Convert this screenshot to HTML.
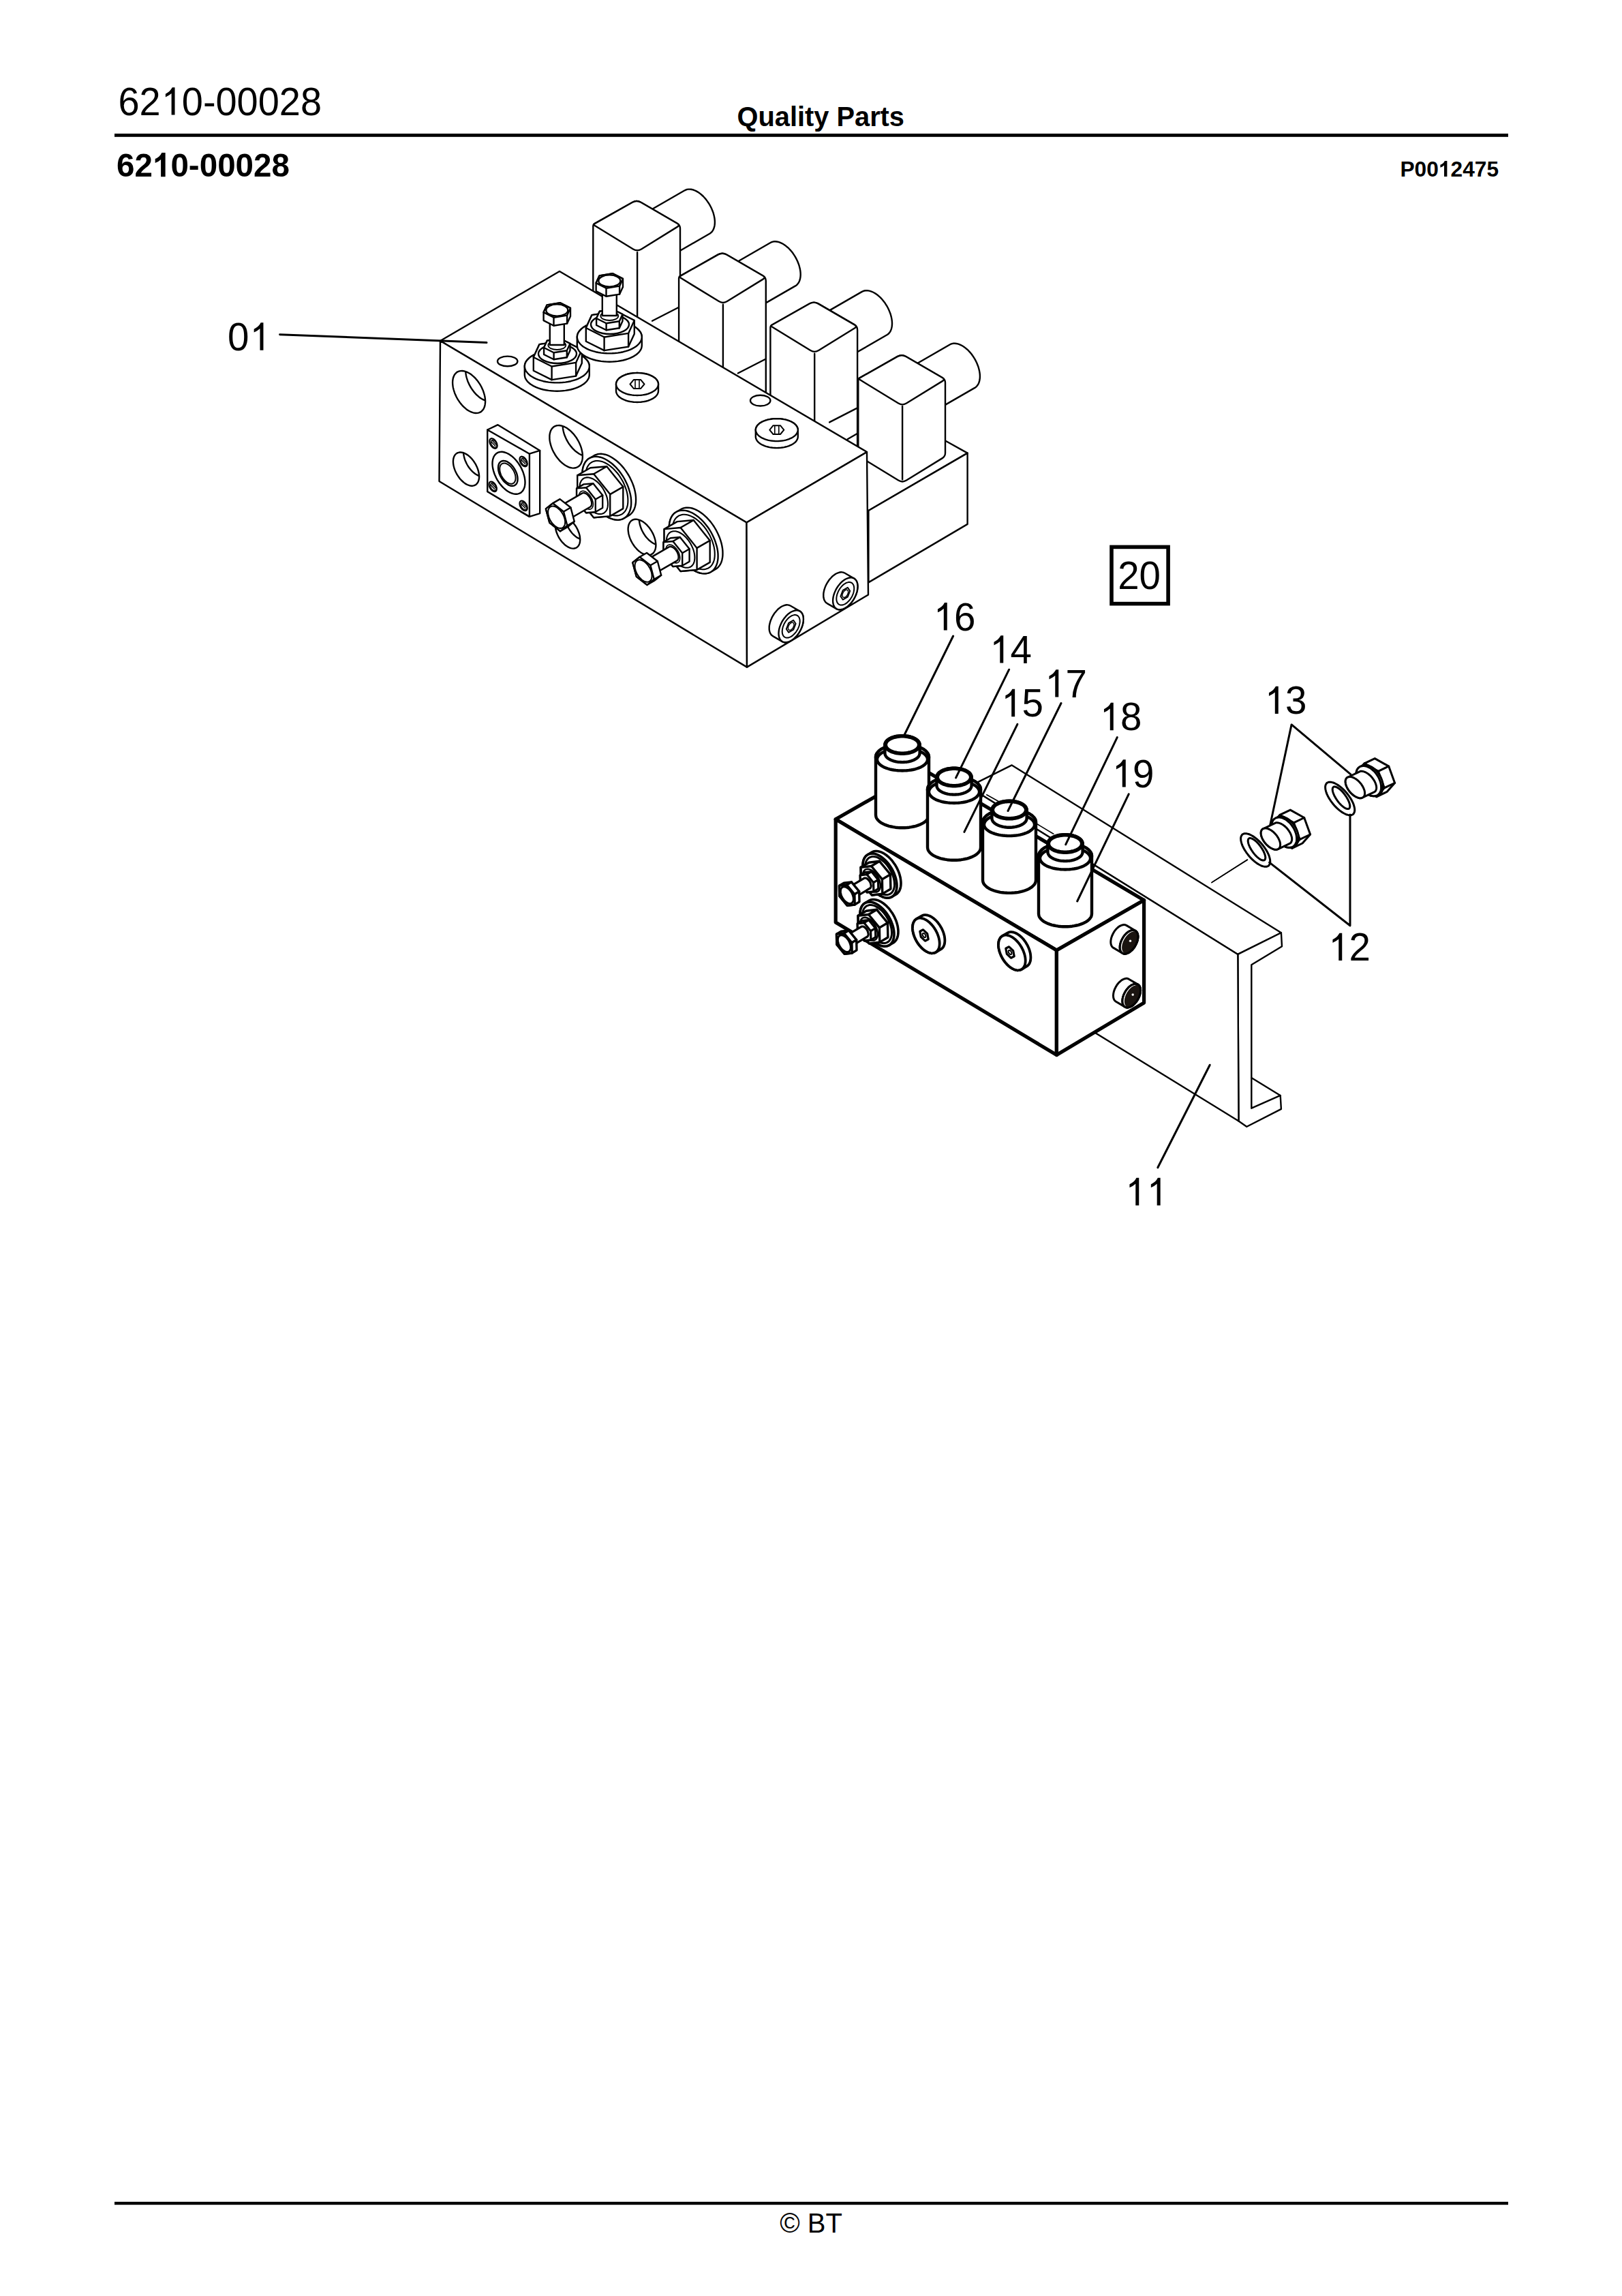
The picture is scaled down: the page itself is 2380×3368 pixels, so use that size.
<!DOCTYPE html>
<html><head><meta charset="utf-8">
<style>
html,body{margin:0;padding:0;background:#fff;}
body{width:2380px;height:3368px;position:relative;overflow:hidden;font-family:"Liberation Sans",sans-serif;color:#000;}
svg{position:absolute;left:0;top:0;}
</style></head>
<body>
<svg width="2380" height="3368" viewBox="0 0 2380 3368">
<g fill="none" stroke="#000" stroke-width="2.2" stroke-linejoin="round" stroke-linecap="round">
<rect x="168" y="196" width="2045" height="4.8" fill="#000" stroke="none"/>
<rect x="168" y="3229.8" width="2045" height="4.4" fill="#000" stroke="none"/>
<path d="M950.3 323.1 L950.4 320.5 L950.7 318.1 L951.2 315.8 L951.9 313.7 L952.7 311.8 L953.8 310.1 L955 308.6 L956.4 307.3 L957.9 306.3 L1004.7 279.3 L1006.4 278.5 L1008.1 277.9 L1010 277.6 L1012.1 277.6 L1014.1 277.8 L1016.3 278.2 L1018.5 279 L1020.7 279.9 L1023 281.1 L1025.3 282.5 L1027.5 284.1 L1029.7 286 L1031.9 288 L1033.9 290.2 L1036 292.6 L1037.8 295.1 L1039.6 297.7 L1041.3 300.4 L1042.8 303.2 L1044.2 306.1 L1045.4 309 L1046.5 311.9 L1047.3 314.8 L1048 317.7 L1048.5 320.5 L1048.8 323.3 L1048.9 325.9 L1048.8 328.5 L1048.5 330.9 L1048 333.2 L1047.3 335.3 L1046.5 337.2 L1045.4 338.9 L1044.2 340.4 L1042.8 341.7 L1041.3 342.7 L994.5 369.7 L992.8 370.5 L991 371.1 L989.1 371.4 L987.1 371.4 L985.1 371.2 L982.9 370.8 L980.7 370 L978.5 369.1 L976.2 367.9 L973.9 366.5 L971.7 364.9 L969.5 363 L967.3 361 L965.3 358.8 L963.2 356.4 L961.4 353.9 L959.6 351.3 L957.9 348.6 L956.4 345.8 L955 342.9 L953.8 340 L952.7 337.1 L951.9 334.2 L951.2 331.3 L950.7 328.5 L950.4 325.7Z" fill="#fff" stroke-width="2.4"/>
<path d="M870.3 331.4 Q870.3 329.4 872 328.4 L928.1 296.7 Q934.2 293.3 940.3 296.8 L993.7 327.8 Q998 330.3 998 335.3 L998 520.3 L935.1 559.1 L870.3 519.4Z" fill="#fff" stroke-width="2.4"/>
<path d="M872 330.4 Q870.3 329.4 872 328.4 L928.1 296.7 Q934.2 293.3 940.3 296.8 L993.7 327.8 Q998 330.3 993.7 332.9 L941.1 365.4 Q935.1 369.1 929.1 365.4Z" fill="#fff" stroke-width="2.4"/>
<path d="M935.1 370.1 L935.1 559.1" fill="none" stroke-width="2.4"/>
<path d="M957 470.8 L996.5 450.5" fill="none" stroke-width="2.4"/>
<path d="M1076.1 399.8 L1076.2 397.2 L1076.5 394.8 L1077 392.5 L1077.7 390.4 L1078.5 388.5 L1079.6 386.8 L1080.8 385.3 L1082.2 384 L1083.7 383 L1130.5 356 L1132.2 355.2 L1134 354.6 L1135.8 354.3 L1137.9 354.3 L1139.9 354.5 L1142.1 354.9 L1144.3 355.7 L1146.5 356.6 L1148.8 357.8 L1151.1 359.2 L1153.3 360.9 L1155.5 362.7 L1157.7 364.7 L1159.7 366.9 L1161.8 369.3 L1163.7 371.8 L1165.4 374.4 L1167.1 377.1 L1168.6 379.9 L1170 382.8 L1171.2 385.7 L1172.3 388.6 L1173.1 391.5 L1173.8 394.4 L1174.3 397.2 L1174.6 400 L1174.7 402.6 L1174.6 405.2 L1174.3 407.6 L1173.8 409.9 L1173.1 412 L1172.3 413.9 L1171.2 415.6 L1170 417.1 L1168.6 418.4 L1167.1 419.4 L1120.3 446.4 L1118.6 447.2 L1116.8 447.8 L1115 448.1 L1112.9 448.1 L1110.9 447.9 L1108.7 447.4 L1106.5 446.7 L1104.3 445.8 L1102 444.6 L1099.7 443.2 L1097.5 441.6 L1095.3 439.7 L1093.1 437.7 L1091.1 435.5 L1089 433.1 L1087.2 430.6 L1085.4 428 L1083.7 425.3 L1082.2 422.5 L1080.8 419.6 L1079.6 416.7 L1078.5 413.8 L1077.7 410.9 L1077 408 L1076.5 405.2 L1076.2 402.4Z" fill="#fff" stroke-width="2.4"/>
<path d="M996.1 408.1 Q996.1 406.1 997.8 405.1 L1053.9 373.4 Q1060 370 1066.1 373.5 L1119.5 404.5 Q1123.8 407 1123.8 412 L1123.8 597 L1060.9 635.8 L996.1 596.1Z" fill="#fff" stroke-width="2.4"/>
<path d="M997.8 407.1 Q996.1 406.1 997.8 405.1 L1053.9 373.4 Q1060 370 1066.1 373.5 L1119.5 404.5 Q1123.8 407 1119.5 409.6 L1066.9 442.1 Q1060.9 445.8 1054.9 442.1Z" fill="#fff" stroke-width="2.4"/>
<path d="M1060.9 446.8 L1060.9 635.8" fill="none" stroke-width="2.4"/>
<path d="M1082.8 547.5 L1122.3 527.2" fill="none" stroke-width="2.4"/>
<path d="M1210.4 471.6 L1210.5 469.1 L1210.8 466.7 L1211.3 464.4 L1212 462.3 L1212.8 460.4 L1213.9 458.7 L1215.1 457.2 L1216.5 455.9 L1218 454.9 L1264.8 427.9 L1266.5 427.1 L1268.2 426.5 L1270.2 426.2 L1272.2 426.2 L1274.2 426.4 L1276.4 426.9 L1278.6 427.6 L1280.8 428.5 L1283.1 429.7 L1285.4 431.1 L1287.6 432.8 L1289.8 434.6 L1292 436.6 L1294 438.8 L1296 441.2 L1298 443.7 L1299.7 446.3 L1301.4 449 L1302.9 451.8 L1304.3 454.7 L1305.5 457.6 L1306.6 460.5 L1307.4 463.4 L1308.1 466.3 L1308.6 469.1 L1308.9 471.9 L1309 474.6 L1308.9 477.1 L1308.6 479.5 L1308.1 481.8 L1307.4 483.9 L1306.6 485.8 L1305.5 487.5 L1304.3 489 L1302.9 490.3 L1301.4 491.3 L1254.6 518.3 L1252.9 519.1 L1251.2 519.7 L1249.2 520 L1247.2 520 L1245.2 519.8 L1243 519.4 L1240.8 518.6 L1238.6 517.7 L1236.3 516.5 L1234 515.1 L1231.8 513.5 L1229.6 511.6 L1227.4 509.6 L1225.4 507.4 L1223.3 505 L1221.5 502.5 L1219.7 499.9 L1218 497.2 L1216.5 494.4 L1215.1 491.5 L1213.9 488.6 L1212.8 485.7 L1212 482.8 L1211.3 479.9 L1210.8 477.1 L1210.5 474.3Z" fill="#fff" stroke-width="2.4"/>
<path d="M1130.4 480 Q1130.4 478 1132.1 477 L1188.2 445.3 Q1194.3 441.9 1200.4 445.4 L1253.8 476.4 Q1258.1 478.9 1258.1 483.9 L1258.1 668.9 L1195.2 707.7 L1130.4 668Z" fill="#fff" stroke-width="2.4"/>
<path d="M1132.1 479 Q1130.4 478 1132.1 477 L1188.2 445.3 Q1194.3 441.9 1200.4 445.4 L1253.8 476.4 Q1258.1 478.9 1253.8 481.5 L1201.2 514 Q1195.2 517.7 1189.2 514Z" fill="#fff" stroke-width="2.4"/>
<path d="M1195.2 518.7 L1195.2 707.7" fill="none" stroke-width="2.4"/>
<path d="M1217.1 619.4 L1256.6 599.1" fill="none" stroke-width="2.4"/>
<path d="M1243.6 644.2 L1258.3 635.8" fill="none" stroke-width="2.4"/>
<path d="M1242.8 731.4 L1388 647 L1419.6 664.6 L1274.4 749Z" fill="#fff" stroke-width="0"/>
<path d="M1388 647 L1419.6 664.6 L1274.4 749" fill="none" stroke-width="2.4"/>
<path d="M1274.4 749 L1419.6 664.6 L1419.6 768.9 L1274.4 854.4Z" fill="#fff" stroke-width="2.4"/>
<path d="M1339.3 549.2 L1339.4 546.7 L1339.7 544.3 L1340.2 542 L1340.9 539.9 L1341.7 538 L1342.8 536.3 L1344 534.8 L1345.4 533.5 L1346.9 532.5 L1393.7 505.5 L1395.4 504.7 L1397.2 504.1 L1399 503.8 L1401.1 503.8 L1403.1 504 L1405.3 504.4 L1407.5 505.2 L1409.7 506.1 L1412 507.3 L1414.3 508.7 L1416.5 510.4 L1418.7 512.2 L1420.9 514.2 L1422.9 516.4 L1425 518.8 L1426.8 521.3 L1428.6 523.9 L1430.3 526.6 L1431.8 529.4 L1433.2 532.3 L1434.4 535.2 L1435.5 538.1 L1436.3 541 L1437 543.9 L1437.5 546.7 L1437.8 549.5 L1437.9 552.1 L1437.8 554.7 L1437.5 557.1 L1437 559.4 L1436.3 561.5 L1435.5 563.4 L1434.4 565.1 L1433.2 566.6 L1431.8 567.9 L1430.3 568.9 L1383.5 595.9 L1381.8 596.7 L1380 597.3 L1378.2 597.6 L1376.1 597.6 L1374.1 597.4 L1371.9 597 L1369.7 596.2 L1367.5 595.3 L1365.2 594.1 L1362.9 592.7 L1360.7 591 L1358.5 589.2 L1356.3 587.2 L1354.3 585 L1352.2 582.6 L1350.3 580.1 L1348.6 577.5 L1346.9 574.8 L1345.4 572 L1344 569.1 L1342.8 566.2 L1341.7 563.3 L1340.9 560.4 L1340.2 557.5 L1339.7 554.7 L1339.4 551.9Z" fill="#fff" stroke-width="2.4"/>
<path d="M1259.3 557.6 Q1259.3 555.6 1261 554.6 L1317.1 522.9 Q1323.2 519.5 1329.3 523 L1382.7 554 Q1387 556.5 1387 561.5 L1387 664.5 Q1387 669.5 1382.7 672.1 L1330.1 704.6 Q1324.1 708.3 1318.1 704.6 L1261 669.6 Q1259.3 668.6 1259.3 666.6Z" fill="#fff" stroke-width="2.4"/>
<path d="M1261 556.6 Q1259.3 555.6 1261 554.6 L1317.1 522.9 Q1323.2 519.5 1329.3 523 L1382.7 554 Q1387 556.5 1382.7 559.1 L1330.1 591.6 Q1324.1 595.3 1318.1 591.6Z" fill="#fff" stroke-width="2.4"/>
<path d="M1324.1 596.3 L1324.1 703.3" fill="none" stroke-width="2.4"/>
<path d="M646 500 L821 398 L1272 663 L1095.5 766.5Z" fill="#fff" stroke-width="2.4"/>
<path d="M646 500 L1095.5 766.5 L1096 978.6 L644.5 706Z" fill="#fff" stroke-width="2.4"/>
<path d="M1095.5 766.5 L1272 663 L1274 872.5 L1096 978.6Z" fill="#fff" stroke-width="2.4"/>
<path d="M410.6 490.7 L714 502.6" fill="none" stroke-width="3"/>
<ellipse cx="744.7" cy="529.9" rx="14.7" ry="7.3" fill="#fff" stroke-width="2.4"/>
<ellipse cx="1115.7" cy="587.6" rx="14.7" ry="7.9" fill="#fff" stroke-width="2.4"/>
<path d="M904 563.5 L904.1 562.1 L904.5 560.6 L905.1 559.2 L905.9 557.9 L906.9 556.5 L908.1 555.2 L909.6 554 L911.2 552.9 L913.1 551.8 L915.1 550.9 L917.2 550 L919.5 549.2 L921.9 548.5 L924.4 548 L927 547.6 L929.6 547.2 L932.3 547.1 L935 547 L937.7 547.1 L940.4 547.2 L943 547.6 L945.6 548 L948.1 548.5 L950.5 549.2 L952.8 550 L954.9 550.9 L956.9 551.8 L958.8 552.9 L960.4 554 L961.9 555.2 L963.1 556.5 L964.1 557.9 L964.9 559.2 L965.5 560.6 L965.9 562.1 L966 563.5 L966 573.5 L965.9 574.9 L965.5 576.4 L964.9 577.8 L964.1 579.1 L963.1 580.5 L961.9 581.8 L960.4 583 L958.8 584.1 L956.9 585.2 L954.9 586.1 L952.8 587 L950.5 587.8 L948.1 588.5 L945.6 589 L943 589.4 L940.4 589.8 L937.7 589.9 L935 590 L932.3 589.9 L929.6 589.8 L927 589.4 L924.4 589 L921.9 588.5 L919.5 587.8 L917.2 587 L915.1 586.1 L913.1 585.2 L911.2 584.1 L909.6 583 L908.1 581.8 L906.9 580.5 L905.9 579.1 L905.1 577.8 L904.5 576.4 L904.1 574.9 L904 573.5Z" fill="#fff" stroke-width="2.4"/>
<path d="M966 563.5 L965.9 564.9 L965.5 566.4 L964.9 567.8 L964.1 569.1 L963.1 570.5 L961.8 571.8 L960.4 573 L958.7 574.1 L956.9 575.2 L954.9 576.1 L952.8 577 L950.5 577.8 L948.1 578.5 L945.6 579 L943 579.4 L940.4 579.7 L937.7 579.9 L935 580 L932.3 579.9 L929.6 579.7 L927 579.4 L924.4 579 L921.9 578.5 L919.5 577.8 L917.2 577 L915.1 576.1 L913.1 575.2 L911.3 574.1 L909.6 573 L908.2 571.8 L906.9 570.5 L905.9 569.1 L905.1 567.8 L904.5 566.4 L904.1 564.9 L904 563.5 L904.1 562.1 L904.5 560.6 L905.1 559.2 L905.9 557.9 L906.9 556.5 L908.2 555.2 L909.6 554 L911.3 552.9 L913.1 551.8 L915.1 550.9 L917.2 550 L919.5 549.2 L921.9 548.5 L924.4 548 L927 547.6 L929.6 547.3 L932.3 547.1 L935 547 L937.7 547.1 L940.4 547.3 L943 547.6 L945.6 548 L948.1 548.5 L950.5 549.2 L952.8 550 L954.9 550.9 L956.9 551.8 L958.7 552.9 L960.4 554 L961.8 555.2 L963.1 556.5 L964.1 557.9 L964.9 559.2 L965.5 560.6 L965.9 562.1Z" fill="#fff" stroke-width="2.4"/>
<path d="M945.5 563.5 L940.2 569.9 L929.8 569.9 L924.5 563.5 L929.8 557.1 L940.2 557.1Z" fill="#fff" stroke-width="2"/>
<path d="M932 557.5 L932 569.5" fill="none" stroke-width="1.6"/>
<path d="M938 557.5 L938 569.5" fill="none" stroke-width="1.6"/>
<path d="M1108.8 630.6 L1108.9 629.2 L1109.3 627.7 L1109.9 626.3 L1110.7 625 L1111.7 623.6 L1113 622.4 L1114.4 621.1 L1116 620 L1117.9 618.9 L1119.9 618 L1122 617.1 L1124.3 616.3 L1126.7 615.6 L1129.2 615.1 L1131.8 614.7 L1134.4 614.4 L1137.1 614.2 L1139.8 614.1 L1142.5 614.2 L1145.2 614.4 L1147.8 614.7 L1150.4 615.1 L1152.9 615.6 L1155.3 616.3 L1157.6 617.1 L1159.7 618 L1161.7 618.9 L1163.5 620 L1165.2 621.1 L1166.7 622.4 L1167.9 623.6 L1168.9 625 L1169.7 626.3 L1170.3 627.7 L1170.7 629.2 L1170.8 630.6 L1170.8 640.6 L1170.7 642 L1170.3 643.5 L1169.7 644.9 L1168.9 646.2 L1167.9 647.6 L1166.7 648.9 L1165.2 650.1 L1163.5 651.2 L1161.7 652.3 L1159.7 653.2 L1157.6 654.1 L1155.3 654.9 L1152.9 655.5 L1150.4 656.1 L1147.8 656.5 L1145.2 656.9 L1142.5 657 L1139.8 657.1 L1137.1 657 L1134.4 656.9 L1131.8 656.5 L1129.2 656.1 L1126.7 655.5 L1124.3 654.9 L1122 654.1 L1119.9 653.2 L1117.9 652.3 L1116 651.2 L1114.4 650.1 L1113 648.9 L1111.7 647.6 L1110.7 646.2 L1109.9 644.9 L1109.3 643.5 L1108.9 642 L1108.8 640.6Z" fill="#fff" stroke-width="2.4"/>
<path d="M1170.8 630.6 L1170.7 632 L1170.3 633.5 L1169.7 634.9 L1168.9 636.2 L1167.9 637.6 L1166.6 638.9 L1165.2 640.1 L1163.5 641.2 L1161.7 642.3 L1159.7 643.2 L1157.6 644.1 L1155.3 644.9 L1152.9 645.6 L1150.4 646.1 L1147.8 646.5 L1145.2 646.8 L1142.5 647 L1139.8 647.1 L1137.1 647 L1134.4 646.8 L1131.8 646.5 L1129.2 646.1 L1126.7 645.6 L1124.3 644.9 L1122 644.1 L1119.9 643.2 L1117.9 642.3 L1116.1 641.2 L1114.4 640.1 L1113 638.9 L1111.7 637.6 L1110.7 636.2 L1109.9 634.9 L1109.3 633.5 L1108.9 632 L1108.8 630.6 L1108.9 629.2 L1109.3 627.7 L1109.9 626.3 L1110.7 625 L1111.7 623.6 L1113 622.4 L1114.4 621.1 L1116.1 620 L1117.9 618.9 L1119.9 618 L1122 617.1 L1124.3 616.3 L1126.7 615.6 L1129.2 615.1 L1131.8 614.7 L1134.4 614.4 L1137.1 614.2 L1139.8 614.1 L1142.5 614.2 L1145.2 614.4 L1147.8 614.7 L1150.4 615.1 L1152.9 615.6 L1155.3 616.3 L1157.6 617.1 L1159.7 618 L1161.7 618.9 L1163.5 620 L1165.2 621.1 L1166.6 622.4 L1167.9 623.6 L1168.9 625 L1169.7 626.3 L1170.3 627.7 L1170.7 629.2Z" fill="#fff" stroke-width="2.4"/>
<path d="M1150.3 630.6 L1145 637 L1134.5 637 L1129.3 630.6 L1134.5 624.2 L1145 624.2Z" fill="#fff" stroke-width="2"/>
<path d="M1136.8 624.6 L1136.8 636.6" fill="none" stroke-width="1.6"/>
<path d="M1142.8 624.6 L1142.8 636.6" fill="none" stroke-width="1.6"/>
<path d="M769.8 537.4 L770 535.3 L770.5 533.2 L771.4 531.2 L772.7 529.2 L774.2 527.3 L776.2 525.4 L778.4 523.6 L780.9 522 L783.7 520.4 L786.8 519 L790.1 517.7 L793.5 516.6 L797.2 515.6 L801 514.9 L805 514.2 L809 513.8 L813.2 513.5 L817.3 513.4 L821.4 513.5 L825.5 513.8 L829.6 514.2 L833.5 514.9 L837.4 515.6 L841 516.6 L844.5 517.7 L847.8 519 L850.9 520.4 L853.7 522 L856.2 523.6 L858.4 525.4 L860.4 527.3 L861.9 529.2 L863.2 531.2 L864.1 533.2 L864.6 535.3 L864.8 537.4 L864.8 549.7 L864.6 551.8 L864.1 553.9 L863.2 555.9 L861.9 557.9 L860.4 559.8 L858.4 561.7 L856.2 563.5 L853.7 565.1 L850.9 566.7 L847.8 568.1 L844.5 569.4 L841 570.5 L837.4 571.5 L833.5 572.2 L829.6 572.9 L825.5 573.3 L821.4 573.6 L817.3 573.7 L813.2 573.6 L809 573.3 L805 572.9 L801 572.2 L797.2 571.5 L793.5 570.5 L790.1 569.4 L786.8 568.1 L783.7 566.7 L780.9 565.1 L778.4 563.5 L776.2 561.7 L774.2 559.8 L772.7 557.9 L771.4 555.9 L770.5 553.9 L770 551.8 L769.8 549.7Z" fill="#fff" stroke-width="2.4"/>
<path d="M864.8 537.4 L864.6 539.5 L864.1 541.6 L863.2 543.6 L861.9 545.6 L860.3 547.5 L858.4 549.4 L856.2 551.2 L853.7 552.8 L850.9 554.4 L847.8 555.8 L844.5 557.1 L841 558.2 L837.4 559.2 L833.5 560 L829.6 560.6 L825.5 561 L821.4 561.3 L817.3 561.4 L813.2 561.3 L809.1 561 L805 560.6 L801.1 560 L797.2 559.2 L793.5 558.2 L790.1 557.1 L786.8 555.8 L783.7 554.4 L780.9 552.8 L778.4 551.2 L776.2 549.4 L774.3 547.5 L772.7 545.6 L771.4 543.6 L770.5 541.6 L770 539.5 L769.8 537.4 L770 535.3 L770.5 533.2 L771.4 531.2 L772.7 529.2 L774.3 527.3 L776.2 525.4 L778.4 523.6 L780.9 522 L783.7 520.4 L786.8 519 L790.1 517.7 L793.5 516.6 L797.2 515.6 L801.1 514.8 L805 514.2 L809.1 513.8 L813.2 513.5 L817.3 513.4 L821.4 513.5 L825.5 513.8 L829.6 514.2 L833.5 514.8 L837.4 515.6 L841 516.6 L844.5 517.7 L847.8 519 L850.9 520.4 L853.7 522 L856.2 523.6 L858.4 525.4 L860.3 527.3 L861.9 529.2 L863.2 531.2 L864.1 533.2 L864.6 535.3Z" fill="#fff" stroke-width="2.4"/>
<path d="M782.8 524 L791.5 505.1 L827 499.6 L853.8 513 L853.8 532.7 L845.1 551.6 L809.6 557.1 L782.8 543.7Z" fill="#fff" stroke-width="2.4"/>
<path d="M782.8 524 L791.5 505.1 L827 499.5 L853.8 513 L845.1 531.9 L809.6 537.5Z" fill="#fff" stroke-width="2.4"/>
<path d="M845.1 531.9 L845.1 551.6" fill="none" stroke-width="2.4"/>
<path d="M809.6 537.5 L809.6 557.2" fill="none" stroke-width="2.4"/>
<ellipse cx="818" cy="519" rx="28" ry="14" fill="#fff" stroke-width="2.4"/>
<path d="M798.1 510 L802.8 499.8 L822 496.8 L836.5 504 L836.5 514 L831.8 524.2 L812.6 527.2 L798.1 520Z" fill="#fff" stroke-width="2.4"/>
<path d="M798.1 510 L802.8 499.8 L822 496.8 L836.5 504 L831.8 514.2 L812.6 517.2Z" fill="#fff" stroke-width="2.4"/>
<path d="M831.8 514.2 L831.8 524.2" fill="none" stroke-width="2.4"/>
<path d="M812.6 517.2 L812.6 527.2" fill="none" stroke-width="2.4"/>
<ellipse cx="817.3" cy="506.5" rx="13" ry="6.5" fill="#fff" stroke-width="1.8"/>
<path d="M806.8 506 L806.8 467 L827.8 467 L827.8 506Z" fill="#fff" stroke-width="2.4"/>
<path d="M797.6 458.1 L802.5 447.4 L822.1 444.3 L837 451.9 L837 463.9 L832.1 474.6 L812.5 477.7 L797.6 470.1Z" fill="#fff" stroke-width="2.4"/>
<path d="M797.6 458.1 L802.5 447.4 L822.1 444.3 L837 451.9 L832.1 462.6 L812.5 465.7Z" fill="#fff" stroke-width="2.4"/>
<path d="M832.1 462.6 L832.1 474.6" fill="none" stroke-width="2.4"/>
<path d="M812.5 465.7 L812.5 477.7" fill="none" stroke-width="2.4"/>
<ellipse cx="817.3" cy="455" rx="16" ry="8.6" fill="#fff" stroke-width="2.4"/>
<path d="M846.8 494.4 L847 492.3 L847.5 490.2 L848.4 488.2 L849.7 486.2 L851.2 484.3 L853.2 482.4 L855.4 480.6 L857.9 479 L860.7 477.4 L863.8 476 L867.1 474.7 L870.5 473.6 L874.2 472.6 L878 471.9 L882 471.2 L886 470.8 L890.2 470.5 L894.3 470.4 L898.4 470.5 L902.5 470.8 L906.6 471.2 L910.5 471.9 L914.4 472.6 L918 473.6 L921.5 474.7 L924.8 476 L927.9 477.4 L930.7 479 L933.2 480.6 L935.4 482.4 L937.4 484.3 L938.9 486.2 L940.2 488.2 L941.1 490.2 L941.6 492.3 L941.8 494.4 L941.8 506.7 L941.6 508.8 L941.1 510.9 L940.2 512.9 L938.9 514.9 L937.4 516.8 L935.4 518.7 L933.2 520.5 L930.7 522.1 L927.9 523.7 L924.8 525.1 L921.5 526.4 L918 527.5 L914.4 528.5 L910.5 529.2 L906.6 529.9 L902.5 530.3 L898.4 530.6 L894.3 530.7 L890.2 530.6 L886 530.3 L882 529.9 L878 529.2 L874.2 528.5 L870.5 527.5 L867.1 526.4 L863.8 525.1 L860.7 523.7 L857.9 522.1 L855.4 520.5 L853.2 518.7 L851.2 516.8 L849.7 514.9 L848.4 512.9 L847.5 510.9 L847 508.8 L846.8 506.7Z" fill="#fff" stroke-width="2.4"/>
<path d="M941.8 494.4 L941.6 496.5 L941.1 498.6 L940.2 500.6 L938.9 502.6 L937.3 504.5 L935.4 506.4 L933.2 508.2 L930.7 509.8 L927.9 511.4 L924.8 512.8 L921.5 514.1 L918 515.2 L914.4 516.2 L910.5 517 L906.6 517.6 L902.5 518 L898.4 518.3 L894.3 518.4 L890.2 518.3 L886.1 518 L882 517.6 L878.1 517 L874.2 516.2 L870.5 515.2 L867.1 514.1 L863.8 512.8 L860.7 511.4 L857.9 509.8 L855.4 508.2 L853.2 506.4 L851.3 504.5 L849.7 502.6 L848.4 500.6 L847.5 498.6 L847 496.5 L846.8 494.4 L847 492.3 L847.5 490.2 L848.4 488.2 L849.7 486.2 L851.3 484.3 L853.2 482.4 L855.4 480.6 L857.9 479 L860.7 477.4 L863.8 476 L867.1 474.7 L870.5 473.6 L874.2 472.6 L878.1 471.8 L882 471.2 L886.1 470.8 L890.2 470.5 L894.3 470.4 L898.4 470.5 L902.5 470.8 L906.6 471.2 L910.5 471.8 L914.4 472.6 L918 473.6 L921.5 474.7 L924.8 476 L927.9 477.4 L930.7 479 L933.2 480.6 L935.4 482.4 L937.3 484.3 L938.9 486.2 L940.2 488.2 L941.1 490.2 L941.6 492.3Z" fill="#fff" stroke-width="2.4"/>
<path d="M859.8 481 L868.5 462.1 L904 456.6 L930.8 470 L930.8 489.7 L922.1 508.6 L886.6 514.1 L859.8 500.7Z" fill="#fff" stroke-width="2.4"/>
<path d="M859.8 481 L868.5 462.1 L904 456.5 L930.8 470 L922.1 488.9 L886.6 494.5Z" fill="#fff" stroke-width="2.4"/>
<path d="M922.1 488.9 L922.1 508.6" fill="none" stroke-width="2.4"/>
<path d="M886.6 494.5 L886.6 514.2" fill="none" stroke-width="2.4"/>
<ellipse cx="895" cy="476" rx="28" ry="14" fill="#fff" stroke-width="2.4"/>
<path d="M875.1 467 L879.8 456.8 L899 453.8 L913.5 461 L913.5 471 L908.8 481.2 L889.6 484.2 L875.1 477Z" fill="#fff" stroke-width="2.4"/>
<path d="M875.1 467 L879.8 456.8 L899 453.8 L913.5 461 L908.8 471.2 L889.6 474.2Z" fill="#fff" stroke-width="2.4"/>
<path d="M908.8 471.2 L908.8 481.2" fill="none" stroke-width="2.4"/>
<path d="M889.6 474.2 L889.6 484.2" fill="none" stroke-width="2.4"/>
<ellipse cx="894.3" cy="463.5" rx="13" ry="6.5" fill="#fff" stroke-width="1.8"/>
<path d="M883.8 463 L883.8 424 L904.8 424 L904.8 463Z" fill="#fff" stroke-width="2.4"/>
<path d="M874.6 415.1 L879.5 404.4 L899.1 401.3 L914 408.9 L914 420.9 L909.1 431.6 L889.5 434.7 L874.6 427.1Z" fill="#fff" stroke-width="2.4"/>
<path d="M874.6 415.1 L879.5 404.4 L899.1 401.3 L914 408.9 L909.1 419.6 L889.5 422.7Z" fill="#fff" stroke-width="2.4"/>
<path d="M909.1 419.6 L909.1 431.6" fill="none" stroke-width="2.4"/>
<path d="M889.5 422.7 L889.5 434.7" fill="none" stroke-width="2.4"/>
<ellipse cx="894.3" cy="412" rx="16" ry="8.6" fill="#fff" stroke-width="2.4"/>
<clipPath id="h77"><path d="M712.1 588.9 L712 591.2 L711.7 593.4 L711.3 595.5 L710.6 597.5 L709.8 599.3 L708.9 600.8 L707.7 602.2 L706.5 603.4 L705.1 604.4 L703.5 605.1 L701.9 605.6 L700.1 605.9 L698.2 606 L696.3 605.8 L694.3 605.3 L692.3 604.7 L690.2 603.8 L688.1 602.7 L686 601.4 L683.9 599.9 L681.9 598.2 L679.9 596.3 L678 594.3 L676.1 592.1 L674.3 589.7 L672.7 587.3 L671.1 584.8 L669.7 582.2 L668.5 579.5 L667.3 576.9 L666.4 574.2 L665.6 571.5 L664.9 568.8 L664.5 566.2 L664.2 563.6 L664.1 561.1 L664.2 558.8 L664.5 556.6 L664.9 554.5 L665.6 552.5 L666.4 550.7 L667.3 549.2 L668.5 547.8 L669.7 546.6 L671.1 545.6 L672.7 544.9 L674.3 544.4 L676.1 544.1 L678 544 L679.9 544.2 L681.9 544.7 L683.9 545.3 L686 546.2 L688.1 547.3 L690.2 548.6 L692.3 550.1 L694.3 551.8 L696.3 553.7 L698.2 555.7 L700.1 557.9 L701.9 560.3 L703.5 562.7 L705.1 565.2 L706.5 567.8 L707.7 570.5 L708.9 573.1 L709.8 575.8 L710.6 578.5 L711.3 581.2 L711.7 583.8 L712 586.4Z"/></clipPath>
<path d="M712.1 588.9 L712 591.2 L711.7 593.4 L711.3 595.5 L710.6 597.5 L709.8 599.3 L708.9 600.8 L707.7 602.2 L706.5 603.4 L705.1 604.4 L703.5 605.1 L701.9 605.6 L700.1 605.9 L698.2 606 L696.3 605.8 L694.3 605.3 L692.3 604.7 L690.2 603.8 L688.1 602.7 L686 601.4 L683.9 599.9 L681.9 598.2 L679.9 596.3 L678 594.3 L676.1 592.1 L674.3 589.7 L672.7 587.3 L671.1 584.8 L669.7 582.2 L668.5 579.5 L667.3 576.9 L666.4 574.2 L665.6 571.5 L664.9 568.8 L664.5 566.2 L664.2 563.6 L664.1 561.1 L664.2 558.8 L664.5 556.6 L664.9 554.5 L665.6 552.5 L666.4 550.7 L667.3 549.2 L668.5 547.8 L669.7 546.6 L671.1 545.6 L672.7 544.9 L674.3 544.4 L676.1 544.1 L678 544 L679.9 544.2 L681.9 544.7 L683.9 545.3 L686 546.2 L688.1 547.3 L690.2 548.6 L692.3 550.1 L694.3 551.8 L696.3 553.7 L698.2 555.7 L700.1 557.9 L701.9 560.3 L703.5 562.7 L705.1 565.2 L706.5 567.8 L707.7 570.5 L708.9 573.1 L709.8 575.8 L710.6 578.5 L711.3 581.2 L711.7 583.8 L712 586.4Z" fill="#fff" stroke-width="2.4"/>
<path d="M731.2 571.4 L731.1 573.8 L730.8 576 L730.4 578.1 L729.8 580 L729 581.8 L728 583.4 L726.9 584.8 L725.6 586 L724.2 586.9 L722.6 587.7 L721 588.2 L719.2 588.5 L717.4 588.5 L715.4 588.3 L713.4 587.9 L711.4 587.2 L709.3 586.4 L707.2 585.2 L705.1 583.9 L703 582.4 L701 580.7 L699 578.8 L697.1 576.8 L695.2 574.6 L693.5 572.3 L691.8 569.9 L690.3 567.3 L688.8 564.7 L687.6 562.1 L686.4 559.4 L685.5 556.7 L684.7 554 L684 551.3 L683.6 548.7 L683.3 546.2 L683.2 543.7 L683.3 541.3 L683.6 539.1 L684 537 L684.7 535.1 L685.5 533.3 L686.4 531.7 L687.6 530.3 L688.8 529.1 L690.3 528.2 L691.8 527.4 L693.5 526.9 L695.2 526.6 L697.1 526.6 L699 526.8 L701 527.2 L703 527.9 L705.1 528.7 L707.2 529.8 L709.3 531.2 L711.4 532.7 L713.4 534.4 L715.4 536.3 L717.4 538.3 L719.2 540.5 L721 542.8 L722.6 545.2 L724.2 547.8 L725.6 550.4 L726.9 553 L728 555.7 L729 558.4 L729.8 561.1 L730.4 563.8 L730.8 566.4 L731.1 568.9Z" fill="none" stroke-width="2.4" clip-path="url(#h77)"/>
<clipPath id="h80"><path d="M703.1 699.1 L703 701 L702.8 702.8 L702.4 704.4 L701.9 706 L701.3 707.4 L700.5 708.6 L699.6 709.7 L698.6 710.7 L697.5 711.4 L696.2 712 L694.9 712.4 L693.5 712.7 L692.1 712.7 L690.5 712.5 L688.9 712.2 L687.3 711.7 L685.7 711 L684 710.1 L682.3 709.1 L680.7 707.9 L679.1 706.5 L677.5 705 L675.9 703.4 L674.5 701.7 L673.1 699.8 L671.8 697.9 L670.5 695.9 L669.4 693.8 L668.4 691.7 L667.5 689.6 L666.7 687.4 L666.1 685.3 L665.6 683.2 L665.2 681.1 L665 679.1 L664.9 677.1 L665 675.2 L665.2 673.4 L665.6 671.8 L666.1 670.2 L666.7 668.8 L667.5 667.6 L668.4 666.5 L669.4 665.5 L670.5 664.8 L671.8 664.2 L673.1 663.8 L674.5 663.5 L675.9 663.5 L677.5 663.7 L679.1 664 L680.7 664.5 L682.3 665.2 L684 666.1 L685.7 667.1 L687.3 668.3 L688.9 669.7 L690.5 671.2 L692.1 672.8 L693.5 674.5 L694.9 676.4 L696.2 678.3 L697.5 680.3 L698.6 682.4 L699.6 684.5 L700.5 686.6 L701.3 688.8 L701.9 690.9 L702.4 693 L702.8 695.1 L703 697.1Z"/></clipPath>
<path d="M703.1 699.1 L703 701 L702.8 702.8 L702.4 704.4 L701.9 706 L701.3 707.4 L700.5 708.6 L699.6 709.7 L698.6 710.7 L697.5 711.4 L696.2 712 L694.9 712.4 L693.5 712.7 L692.1 712.7 L690.5 712.5 L688.9 712.2 L687.3 711.7 L685.7 711 L684 710.1 L682.3 709.1 L680.7 707.9 L679.1 706.5 L677.5 705 L675.9 703.4 L674.5 701.7 L673.1 699.8 L671.8 697.9 L670.5 695.9 L669.4 693.8 L668.4 691.7 L667.5 689.6 L666.7 687.4 L666.1 685.3 L665.6 683.2 L665.2 681.1 L665 679.1 L664.9 677.1 L665 675.2 L665.2 673.4 L665.6 671.8 L666.1 670.2 L666.7 668.8 L667.5 667.6 L668.4 666.5 L669.4 665.5 L670.5 664.8 L671.8 664.2 L673.1 663.8 L674.5 663.5 L675.9 663.5 L677.5 663.7 L679.1 664 L680.7 664.5 L682.3 665.2 L684 666.1 L685.7 667.1 L687.3 668.3 L688.9 669.7 L690.5 671.2 L692.1 672.8 L693.5 674.5 L694.9 676.4 L696.2 678.3 L697.5 680.3 L698.6 682.4 L699.6 684.5 L700.5 686.6 L701.3 688.8 L701.9 690.9 L702.4 693 L702.8 695.1 L703 697.1Z" fill="#fff" stroke-width="2.4"/>
<path d="M718.2 685.2 L718.2 687.1 L717.9 688.9 L717.6 690.6 L717.1 692.1 L716.4 693.5 L715.7 694.8 L714.8 695.9 L713.8 696.8 L712.7 697.6 L711.4 698.2 L710.1 698.6 L708.7 698.8 L707.2 698.8 L705.7 698.7 L704.1 698.3 L702.5 697.8 L700.8 697.1 L699.2 696.2 L697.5 695.2 L695.9 694 L694.2 692.6 L692.7 691.2 L691.1 689.5 L689.7 687.8 L688.3 686 L686.9 684 L685.7 682 L684.6 680 L683.6 677.8 L682.7 675.7 L681.9 673.6 L681.3 671.4 L680.8 669.3 L680.4 667.2 L680.2 665.2 L680.1 663.2 L680.2 661.4 L680.4 659.6 L680.8 657.9 L681.3 656.4 L681.9 655 L682.7 653.7 L683.6 652.6 L684.6 651.7 L685.7 650.9 L686.9 650.3 L688.3 649.9 L689.7 649.7 L691.1 649.7 L692.7 649.8 L694.2 650.1 L695.9 650.7 L697.5 651.4 L699.2 652.2 L700.8 653.3 L702.5 654.5 L704.1 655.8 L705.7 657.3 L707.2 659 L708.7 660.7 L710.1 662.5 L711.4 664.5 L712.7 666.5 L713.8 668.5 L714.8 670.6 L715.7 672.8 L716.4 674.9 L717.1 677.1 L717.6 679.2 L717.9 681.3 L718.2 683.3Z" fill="none" stroke-width="2.4" clip-path="url(#h80)"/>
<clipPath id="h83"><path d="M854.8 669.3 L854.8 671.7 L854.5 673.9 L854 676.1 L853.4 678 L852.6 679.8 L851.6 681.4 L850.5 682.8 L849.2 684 L847.7 685 L846.2 685.7 L844.5 686.3 L842.7 686.5 L840.8 686.6 L838.9 686.4 L836.9 686 L834.8 685.3 L832.7 684.4 L830.6 683.3 L828.5 682 L826.4 680.4 L824.3 678.7 L822.3 676.8 L820.4 674.8 L818.5 672.5 L816.7 670.2 L815 667.8 L813.5 665.2 L812 662.6 L810.7 659.9 L809.6 657.2 L808.6 654.4 L807.8 651.7 L807.2 649 L806.7 646.4 L806.4 643.8 L806.4 641.3 L806.4 638.9 L806.7 636.7 L807.2 634.5 L807.8 632.6 L808.6 630.8 L809.6 629.2 L810.7 627.8 L812 626.6 L813.5 625.6 L815 624.9 L816.7 624.3 L818.5 624.1 L820.4 624 L822.3 624.2 L824.3 624.6 L826.4 625.3 L828.5 626.2 L830.6 627.3 L832.7 628.6 L834.8 630.2 L836.9 631.9 L838.9 633.8 L840.8 635.8 L842.7 638.1 L844.5 640.4 L846.2 642.8 L847.7 645.4 L849.2 648 L850.5 650.7 L851.6 653.4 L852.6 656.2 L853.4 658.9 L854 661.6 L854.5 664.2 L854.8 666.8Z"/></clipPath>
<path d="M854.8 669.3 L854.8 671.7 L854.5 673.9 L854 676.1 L853.4 678 L852.6 679.8 L851.6 681.4 L850.5 682.8 L849.2 684 L847.7 685 L846.2 685.7 L844.5 686.3 L842.7 686.5 L840.8 686.6 L838.9 686.4 L836.9 686 L834.8 685.3 L832.7 684.4 L830.6 683.3 L828.5 682 L826.4 680.4 L824.3 678.7 L822.3 676.8 L820.4 674.8 L818.5 672.5 L816.7 670.2 L815 667.8 L813.5 665.2 L812 662.6 L810.7 659.9 L809.6 657.2 L808.6 654.4 L807.8 651.7 L807.2 649 L806.7 646.4 L806.4 643.8 L806.4 641.3 L806.4 638.9 L806.7 636.7 L807.2 634.5 L807.8 632.6 L808.6 630.8 L809.6 629.2 L810.7 627.8 L812 626.6 L813.5 625.6 L815 624.9 L816.7 624.3 L818.5 624.1 L820.4 624 L822.3 624.2 L824.3 624.6 L826.4 625.3 L828.5 626.2 L830.6 627.3 L832.7 628.6 L834.8 630.2 L836.9 631.9 L838.9 633.8 L840.8 635.8 L842.7 638.1 L844.5 640.4 L846.2 642.8 L847.7 645.4 L849.2 648 L850.5 650.7 L851.6 653.4 L852.6 656.2 L853.4 658.9 L854 661.6 L854.5 664.2 L854.8 666.8Z" fill="#fff" stroke-width="2.4"/>
<path d="M874.2 651.7 L874.1 654 L873.8 656.3 L873.3 658.4 L872.7 660.4 L871.9 662.2 L870.9 663.8 L869.8 665.2 L868.5 666.4 L867.1 667.4 L865.5 668.1 L863.8 668.6 L862 668.9 L860.2 669 L858.2 668.8 L856.2 668.3 L854.1 667.7 L852 666.8 L849.9 665.7 L847.8 664.3 L845.7 662.8 L843.6 661.1 L841.6 659.2 L839.7 657.1 L837.8 654.9 L836 652.6 L834.3 650.1 L832.8 647.6 L831.3 644.9 L830.1 642.3 L828.9 639.5 L827.9 636.8 L827.1 634.1 L826.5 631.4 L826 628.7 L825.8 626.2 L825.7 623.7 L825.8 621.3 L826 619 L826.5 616.9 L827.1 614.9 L827.9 613.1 L828.9 611.5 L830.1 610.1 L831.3 608.9 L832.8 608 L834.3 607.2 L836 606.7 L837.8 606.4 L839.7 606.4 L841.6 606.6 L843.6 607 L845.7 607.7 L847.8 608.5 L849.9 609.7 L852 611 L854.1 612.5 L856.2 614.2 L858.2 616.1 L860.2 618.2 L862 620.4 L863.8 622.8 L865.5 625.2 L867.1 627.8 L868.5 630.4 L869.8 633.1 L870.9 635.8 L871.9 638.5 L872.7 641.2 L873.3 643.9 L873.8 646.6 L874.1 649.2Z" fill="none" stroke-width="2.4" clip-path="url(#h83)"/>
<clipPath id="h86"><path d="M851.2 791.6 L851.1 793.4 L850.9 795.1 L850.6 796.7 L850.1 798.1 L849.5 799.5 L848.7 800.7 L847.9 801.7 L846.9 802.6 L845.9 803.4 L844.7 803.9 L843.4 804.3 L842.1 804.5 L840.7 804.6 L839.2 804.4 L837.7 804.1 L836.2 803.6 L834.6 802.9 L833 802.1 L831.4 801.1 L829.8 800 L828.3 798.7 L826.8 797.2 L825.3 795.7 L823.9 794 L822.6 792.3 L821.3 790.4 L820.1 788.5 L819.1 786.6 L818.1 784.5 L817.3 782.5 L816.5 780.5 L815.9 778.4 L815.4 776.4 L815.1 774.4 L814.9 772.5 L814.8 770.6 L814.9 768.8 L815.1 767.1 L815.4 765.5 L815.9 764.1 L816.5 762.7 L817.3 761.5 L818.1 760.5 L819.1 759.6 L820.1 758.8 L821.3 758.3 L822.6 757.9 L823.9 757.7 L825.3 757.6 L826.8 757.8 L828.3 758.1 L829.8 758.6 L831.4 759.3 L833 760.1 L834.6 761.1 L836.2 762.2 L837.7 763.5 L839.2 765 L840.7 766.5 L842.1 768.2 L843.4 769.9 L844.7 771.8 L845.9 773.7 L846.9 775.6 L847.9 777.7 L848.7 779.7 L849.5 781.7 L850.1 783.8 L850.6 785.8 L850.9 787.8 L851.1 789.7Z"/></clipPath>
<path d="M851.2 791.6 L851.1 793.4 L850.9 795.1 L850.6 796.7 L850.1 798.1 L849.5 799.5 L848.7 800.7 L847.9 801.7 L846.9 802.6 L845.9 803.4 L844.7 803.9 L843.4 804.3 L842.1 804.5 L840.7 804.6 L839.2 804.4 L837.7 804.1 L836.2 803.6 L834.6 802.9 L833 802.1 L831.4 801.1 L829.8 800 L828.3 798.7 L826.8 797.2 L825.3 795.7 L823.9 794 L822.6 792.3 L821.3 790.4 L820.1 788.5 L819.1 786.6 L818.1 784.5 L817.3 782.5 L816.5 780.5 L815.9 778.4 L815.4 776.4 L815.1 774.4 L814.9 772.5 L814.8 770.6 L814.9 768.8 L815.1 767.1 L815.4 765.5 L815.9 764.1 L816.5 762.7 L817.3 761.5 L818.1 760.5 L819.1 759.6 L820.1 758.8 L821.3 758.3 L822.6 757.9 L823.9 757.7 L825.3 757.6 L826.8 757.8 L828.3 758.1 L829.8 758.6 L831.4 759.3 L833 760.1 L834.6 761.1 L836.2 762.2 L837.7 763.5 L839.2 765 L840.7 766.5 L842.1 768.2 L843.4 769.9 L844.7 771.8 L845.9 773.7 L846.9 775.6 L847.9 777.7 L848.7 779.7 L849.5 781.7 L850.1 783.8 L850.6 785.8 L850.9 787.8 L851.1 789.7Z" fill="#fff" stroke-width="2.4"/>
<path d="M865.7 778.4 L865.6 780.2 L865.4 781.9 L865.1 783.4 L864.6 784.9 L864 786.3 L863.2 787.5 L862.4 788.5 L861.4 789.4 L860.3 790.1 L859.2 790.7 L857.9 791.1 L856.6 791.3 L855.2 791.3 L853.7 791.2 L852.2 790.9 L850.6 790.4 L849.1 789.7 L847.5 788.9 L845.9 787.9 L844.3 786.7 L842.8 785.4 L841.3 784 L839.8 782.5 L838.4 780.8 L837.1 779 L835.8 777.2 L834.6 775.3 L833.6 773.3 L832.6 771.3 L831.7 769.3 L831 767.2 L830.4 765.2 L829.9 763.2 L829.6 761.2 L829.4 759.2 L829.3 757.4 L829.4 755.6 L829.6 753.9 L829.9 752.3 L830.4 750.8 L831 749.5 L831.7 748.3 L832.6 747.2 L833.6 746.3 L834.6 745.6 L835.8 745 L837.1 744.6 L838.4 744.4 L839.8 744.4 L841.3 744.5 L842.8 744.9 L844.3 745.4 L845.9 746 L847.5 746.9 L849.1 747.9 L850.6 749 L852.2 750.3 L853.7 751.7 L855.2 753.3 L856.6 754.9 L857.9 756.7 L859.2 758.5 L860.3 760.4 L861.4 762.4 L862.4 764.4 L863.2 766.5 L864 768.5 L864.6 770.6 L865.1 772.6 L865.4 774.6 L865.6 776.5Z" fill="none" stroke-width="2.4" clip-path="url(#h86)"/>
<clipPath id="h89"><path d="M962.4 799.8 L962.3 801.8 L962 803.7 L961.7 805.4 L961.1 807.1 L960.4 808.6 L959.6 809.9 L958.7 811.1 L957.6 812.1 L956.4 812.9 L955.1 813.6 L953.7 814 L952.2 814.2 L950.6 814.3 L949 814.1 L947.3 813.7 L945.5 813.2 L943.8 812.4 L942 811.5 L940.2 810.4 L938.5 809.1 L936.7 807.7 L935 806.1 L933.4 804.3 L931.8 802.5 L930.3 800.5 L928.9 798.4 L927.6 796.3 L926.4 794.1 L925.3 791.9 L924.4 789.6 L923.6 787.3 L922.9 785 L922.3 782.7 L922 780.5 L921.7 778.3 L921.6 776.2 L921.7 774.2 L922 772.3 L922.3 770.6 L922.9 768.9 L923.6 767.4 L924.4 766.1 L925.3 764.9 L926.4 763.9 L927.6 763.1 L928.9 762.4 L930.3 762 L931.8 761.8 L933.4 761.7 L935 761.9 L936.7 762.3 L938.5 762.8 L940.2 763.6 L942 764.5 L943.8 765.6 L945.5 766.9 L947.3 768.3 L949 769.9 L950.6 771.7 L952.2 773.5 L953.7 775.5 L955.1 777.6 L956.4 779.7 L957.6 781.9 L958.7 784.1 L959.6 786.4 L960.4 788.7 L961.1 791 L961.7 793.3 L962 795.5 L962.3 797.7Z"/></clipPath>
<path d="M962.4 799.8 L962.3 801.8 L962 803.7 L961.7 805.4 L961.1 807.1 L960.4 808.6 L959.6 809.9 L958.7 811.1 L957.6 812.1 L956.4 812.9 L955.1 813.6 L953.7 814 L952.2 814.2 L950.6 814.3 L949 814.1 L947.3 813.7 L945.5 813.2 L943.8 812.4 L942 811.5 L940.2 810.4 L938.5 809.1 L936.7 807.7 L935 806.1 L933.4 804.3 L931.8 802.5 L930.3 800.5 L928.9 798.4 L927.6 796.3 L926.4 794.1 L925.3 791.9 L924.4 789.6 L923.6 787.3 L922.9 785 L922.3 782.7 L922 780.5 L921.7 778.3 L921.6 776.2 L921.7 774.2 L922 772.3 L922.3 770.6 L922.9 768.9 L923.6 767.4 L924.4 766.1 L925.3 764.9 L926.4 763.9 L927.6 763.1 L928.9 762.4 L930.3 762 L931.8 761.8 L933.4 761.7 L935 761.9 L936.7 762.3 L938.5 762.8 L940.2 763.6 L942 764.5 L943.8 765.6 L945.5 766.9 L947.3 768.3 L949 769.9 L950.6 771.7 L952.2 773.5 L953.7 775.5 L955.1 777.6 L956.4 779.7 L957.6 781.9 L958.7 784.1 L959.6 786.4 L960.4 788.7 L961.1 791 L961.7 793.3 L962 795.5 L962.3 797.7Z" fill="#fff" stroke-width="2.4"/>
<path d="M978.6 784.9 L978.5 786.9 L978.3 788.8 L977.9 790.6 L977.3 792.3 L976.7 793.8 L975.8 795.1 L974.9 796.3 L973.8 797.3 L972.6 798.1 L971.3 798.7 L969.9 799.2 L968.4 799.4 L966.8 799.5 L965.2 799.3 L963.5 798.9 L961.7 798.4 L960 797.6 L958.2 796.7 L956.4 795.6 L954.7 794.3 L952.9 792.9 L951.3 791.3 L949.6 789.5 L948 787.7 L946.5 785.7 L945.1 783.6 L943.8 781.5 L942.6 779.3 L941.5 777 L940.6 774.8 L939.8 772.5 L939.1 770.2 L938.6 767.9 L938.2 765.7 L937.9 763.5 L937.9 761.4 L937.9 759.4 L938.2 757.5 L938.6 755.8 L939.1 754.1 L939.8 752.6 L940.6 751.3 L941.5 750.1 L942.6 749.1 L943.8 748.3 L945.1 747.6 L946.5 747.2 L948 747 L949.6 746.9 L951.3 747.1 L952.9 747.5 L954.7 748 L956.4 748.8 L958.2 749.7 L960 750.8 L961.7 752.1 L963.5 753.5 L965.2 755.1 L966.8 756.9 L968.4 758.7 L969.9 760.7 L971.3 762.7 L972.6 764.9 L973.8 767.1 L974.9 769.3 L975.8 771.6 L976.7 773.9 L977.3 776.2 L977.9 778.5 L978.3 780.7 L978.5 782.9Z" fill="none" stroke-width="2.4" clip-path="url(#h89)"/>
<path d="M730.5 623.2 L792.2 660.9 L792.2 753.1 L776.9 757.9 L715.2 721 L715.2 630.5Z" fill="#fff" stroke-width="2.4"/>
<path d="M715.2 630.5 L776.9 665.7 L776.9 757.9 L715.2 721Z" fill="#fff" stroke-width="2.4"/>
<path d="M776.9 665.7 L792.2 660.9" fill="none" stroke-width="2.4"/>
<path d="M770.5 707.6 L770.4 710 L770.1 712.2 L769.7 714.3 L769 716.3 L768.2 718.1 L767.3 719.6 L766.1 721 L764.9 722.2 L763.5 723.2 L761.9 723.9 L760.3 724.4 L758.5 724.7 L756.6 724.8 L754.7 724.6 L752.7 724.1 L750.7 723.5 L748.6 722.6 L746.5 721.5 L744.4 720.2 L742.3 718.7 L740.3 717 L738.3 715.1 L736.4 713.1 L734.5 710.9 L732.7 708.5 L731.1 706.1 L729.5 703.6 L728.1 701 L726.9 698.3 L725.7 695.7 L724.8 693 L724 690.3 L723.3 687.6 L722.9 685 L722.6 682.4 L722.5 679.9 L722.6 677.6 L722.9 675.4 L723.3 673.3 L724 671.3 L724.8 669.5 L725.7 668 L726.9 666.6 L728.1 665.4 L729.5 664.4 L731.1 663.7 L732.7 663.2 L734.5 662.9 L736.4 662.8 L738.3 663 L740.3 663.5 L742.3 664.1 L744.4 665 L746.5 666.1 L748.6 667.4 L750.7 668.9 L752.7 670.6 L754.7 672.5 L756.6 674.5 L758.5 676.7 L760.3 679.1 L761.9 681.5 L763.5 684 L764.9 686.6 L766.1 689.3 L767.3 691.9 L768.2 694.6 L769 697.3 L769.7 700 L770.1 702.6 L770.4 705.2Z" fill="#fff" stroke-width="2.4"/>
<path d="M759.6 702.6 L759.5 704.1 L759.4 705.4 L759.1 706.6 L758.7 707.8 L758.3 708.9 L757.7 709.8 L757 710.6 L756.2 711.3 L755.4 711.9 L754.5 712.3 L753.5 712.6 L752.4 712.8 L751.3 712.8 L750.2 712.7 L749 712.5 L747.8 712.1 L746.5 711.6 L745.3 710.9 L744.1 710.1 L742.8 709.2 L741.6 708.2 L740.4 707.1 L739.3 705.9 L738.2 704.6 L737.1 703.2 L736.1 701.7 L735.2 700.2 L734.4 698.7 L733.6 697.1 L732.9 695.5 L732.3 693.9 L731.9 692.3 L731.5 690.7 L731.2 689.1 L731.1 687.6 L731 686.1 L731.1 684.7 L731.2 683.4 L731.5 682.2 L731.9 681 L732.3 679.9 L732.9 679 L733.6 678.2 L734.4 677.5 L735.2 676.9 L736.1 676.5 L737.1 676.2 L738.2 676 L739.3 676 L740.4 676.1 L741.6 676.3 L742.8 676.7 L744.1 677.2 L745.3 677.9 L746.5 678.7 L747.8 679.6 L749 680.6 L750.2 681.7 L751.3 682.9 L752.4 684.2 L753.5 685.6 L754.5 687.1 L755.4 688.6 L756.2 690.1 L757 691.7 L757.7 693.3 L758.3 694.9 L758.7 696.5 L759.1 698.1 L759.4 699.7 L759.5 701.2Z" fill="#fff" stroke-width="2.4"/>
<path d="M756.6 701.4 L756.5 702.5 L756.4 703.6 L756.2 704.6 L755.9 705.6 L755.5 706.4 L755 707.2 L754.5 707.9 L753.9 708.4 L753.2 708.9 L752.4 709.3 L751.6 709.5 L750.7 709.7 L749.8 709.7 L748.9 709.6 L747.9 709.4 L746.9 709.1 L745.9 708.6 L744.9 708.1 L743.9 707.5 L742.9 706.7 L741.9 705.9 L740.9 705 L740 704 L739.1 702.9 L738.2 701.8 L737.4 700.6 L736.6 699.4 L735.9 698.1 L735.3 696.8 L734.8 695.5 L734.3 694.2 L733.9 692.9 L733.6 691.6 L733.4 690.3 L733.3 689.1 L733.2 687.9 L733.3 686.7 L733.4 685.6 L733.6 684.6 L733.9 683.6 L734.3 682.8 L734.8 682 L735.3 681.3 L735.9 680.8 L736.6 680.3 L737.4 679.9 L738.2 679.7 L739.1 679.5 L740 679.5 L740.9 679.6 L741.9 679.8 L742.9 680.1 L743.9 680.6 L744.9 681.1 L745.9 681.7 L746.9 682.5 L747.9 683.3 L748.9 684.2 L749.8 685.2 L750.7 686.3 L751.6 687.4 L752.4 688.6 L753.2 689.8 L753.9 691.1 L754.5 692.4 L755 693.7 L755.5 695 L755.9 696.3 L756.2 697.6 L756.4 698.9 L756.5 700.1Z" fill="#fff" stroke-width="2"/>
<path d="M729.6 653.8 L729.6 654.3 L729.5 654.8 L729.4 655.3 L729.3 655.8 L729.1 656.2 L728.9 656.6 L728.6 656.9 L728.3 657.2 L728 657.4 L727.6 657.6 L727.2 657.7 L726.8 657.8 L726.4 657.8 L725.9 657.7 L725.5 657.6 L725 657.5 L724.5 657.3 L724 657 L723.5 656.7 L723 656.3 L722.5 655.9 L722.1 655.5 L721.6 655 L721.2 654.5 L720.8 654 L720.4 653.4 L720 652.8 L719.7 652.2 L719.4 651.6 L719.1 650.9 L718.9 650.3 L718.7 649.7 L718.6 649 L718.5 648.4 L718.4 647.8 L718.4 647.2 L718.4 646.7 L718.5 646.2 L718.6 645.7 L718.7 645.2 L718.9 644.8 L719.1 644.4 L719.4 644.1 L719.7 643.8 L720 643.6 L720.4 643.4 L720.8 643.3 L721.2 643.2 L721.6 643.2 L722.1 643.3 L722.5 643.4 L723 643.5 L723.5 643.7 L724 644 L724.5 644.3 L725 644.7 L725.5 645.1 L725.9 645.5 L726.4 646 L726.8 646.5 L727.2 647 L727.6 647.6 L728 648.2 L728.3 648.8 L728.6 649.4 L728.9 650.1 L729.1 650.7 L729.3 651.3 L729.4 652 L729.5 652.6 L729.6 653.2Z" fill="#fff" stroke-width="2.2"/>
<path d="M728.8 653.3 L728.7 653.7 L728.7 654.1 L728.6 654.5 L728.5 654.8 L728.4 655.1 L728.2 655.4 L728 655.6 L727.8 655.8 L727.5 656 L727.3 656.1 L727 656.2 L726.7 656.3 L726.4 656.3 L726 656.2 L725.7 656.2 L725.3 656 L725 655.9 L724.6 655.7 L724.2 655.5 L723.9 655.2 L723.5 654.9 L723.2 654.6 L722.8 654.2 L722.5 653.9 L722.2 653.5 L721.9 653 L721.7 652.6 L721.4 652.1 L721.2 651.7 L721 651.2 L720.8 650.8 L720.7 650.3 L720.6 649.8 L720.5 649.4 L720.5 648.9 L720.4 648.5 L720.5 648.1 L720.5 647.7 L720.6 647.3 L720.7 647 L720.8 646.7 L721 646.4 L721.2 646.2 L721.4 646 L721.7 645.8 L721.9 645.7 L722.2 645.6 L722.5 645.5 L722.8 645.5 L723.2 645.6 L723.5 645.6 L723.9 645.8 L724.2 645.9 L724.6 646.1 L725 646.3 L725.3 646.6 L725.7 646.9 L726 647.2 L726.4 647.6 L726.7 647.9 L727 648.3 L727.3 648.8 L727.5 649.2 L727.8 649.7 L728 650.1 L728.2 650.6 L728.4 651 L728.5 651.5 L728.6 652 L728.7 652.4 L728.7 652.9Z" fill="#fff" stroke-width="1.3"/>
<path d="M720.8 647.9 L726.6 654.1" fill="none" stroke-width="1.5"/>
<path d="M722.4 646.3 L728 652.3" fill="none" stroke-width="1.5"/>
<path d="M773.7 680.2 L773.7 680.8 L773.6 681.3 L773.5 681.8 L773.4 682.3 L773.2 682.7 L773 683.1 L772.7 683.4 L772.4 683.7 L772.1 683.9 L771.7 684.1 L771.3 684.2 L770.9 684.3 L770.5 684.3 L770 684.2 L769.6 684.1 L769.1 684 L768.6 683.8 L768.1 683.5 L767.6 683.2 L767.1 682.8 L766.6 682.4 L766.2 682 L765.7 681.5 L765.3 681 L764.9 680.5 L764.5 679.9 L764.1 679.3 L763.8 678.7 L763.5 678.1 L763.2 677.4 L763 676.8 L762.8 676.2 L762.7 675.5 L762.6 674.9 L762.5 674.3 L762.5 673.8 L762.5 673.2 L762.6 672.7 L762.7 672.2 L762.8 671.7 L763 671.3 L763.2 670.9 L763.5 670.6 L763.8 670.3 L764.1 670.1 L764.5 669.9 L764.9 669.8 L765.3 669.7 L765.7 669.7 L766.2 669.8 L766.6 669.9 L767.1 670 L767.6 670.2 L768.1 670.5 L768.6 670.8 L769.1 671.2 L769.6 671.6 L770 672 L770.5 672.5 L770.9 673 L771.3 673.5 L771.7 674.1 L772.1 674.7 L772.4 675.3 L772.7 675.9 L773 676.6 L773.2 677.2 L773.4 677.8 L773.5 678.5 L773.6 679.1 L773.7 679.7Z" fill="#fff" stroke-width="2.2"/>
<path d="M772.9 679.8 L772.8 680.2 L772.8 680.6 L772.7 681 L772.6 681.3 L772.5 681.6 L772.3 681.9 L772.1 682.1 L771.9 682.3 L771.6 682.5 L771.4 682.6 L771.1 682.7 L770.8 682.8 L770.5 682.8 L770.1 682.7 L769.8 682.7 L769.4 682.5 L769.1 682.4 L768.7 682.2 L768.3 682 L768 681.7 L767.6 681.4 L767.3 681.1 L766.9 680.7 L766.6 680.4 L766.3 680 L766 679.5 L765.8 679.1 L765.5 678.6 L765.3 678.2 L765.1 677.7 L764.9 677.3 L764.8 676.8 L764.7 676.3 L764.6 675.9 L764.6 675.4 L764.5 675 L764.6 674.6 L764.6 674.2 L764.7 673.8 L764.8 673.5 L764.9 673.2 L765.1 672.9 L765.3 672.7 L765.5 672.5 L765.8 672.3 L766 672.2 L766.3 672.1 L766.6 672 L766.9 672 L767.3 672.1 L767.6 672.1 L768 672.3 L768.3 672.4 L768.7 672.6 L769.1 672.8 L769.4 673.1 L769.8 673.4 L770.1 673.7 L770.5 674.1 L770.8 674.4 L771.1 674.8 L771.4 675.3 L771.6 675.7 L771.9 676.2 L772.1 676.6 L772.3 677.1 L772.5 677.5 L772.6 678 L772.7 678.5 L772.8 678.9 L772.8 679.4Z" fill="#fff" stroke-width="1.3"/>
<path d="M764.9 674.4 L770.7 680.6" fill="none" stroke-width="1.5"/>
<path d="M766.5 672.8 L772.1 678.8" fill="none" stroke-width="1.5"/>
<path d="M728.8 717 L728.8 717.6 L728.7 718.1 L728.6 718.6 L728.5 719.1 L728.3 719.5 L728.1 719.9 L727.8 720.2 L727.5 720.5 L727.2 720.7 L726.8 720.9 L726.4 721 L726 721.1 L725.6 721.1 L725.1 721 L724.7 720.9 L724.2 720.8 L723.7 720.6 L723.2 720.3 L722.7 720 L722.2 719.6 L721.7 719.2 L721.3 718.8 L720.8 718.3 L720.4 717.8 L720 717.3 L719.6 716.7 L719.2 716.1 L718.9 715.5 L718.6 714.9 L718.3 714.2 L718.1 713.6 L717.9 713 L717.8 712.3 L717.7 711.7 L717.6 711.1 L717.6 710.5 L717.6 710 L717.7 709.5 L717.8 709 L717.9 708.5 L718.1 708.1 L718.3 707.7 L718.6 707.4 L718.9 707.1 L719.2 706.9 L719.6 706.7 L720 706.6 L720.4 706.5 L720.8 706.5 L721.3 706.6 L721.7 706.7 L722.2 706.8 L722.7 707 L723.2 707.3 L723.7 707.6 L724.2 708 L724.7 708.4 L725.1 708.8 L725.6 709.3 L726 709.8 L726.4 710.3 L726.8 710.9 L727.2 711.5 L727.5 712.1 L727.8 712.7 L728.1 713.4 L728.3 714 L728.5 714.6 L728.6 715.3 L728.7 715.9 L728.8 716.5Z" fill="#fff" stroke-width="2.2"/>
<path d="M728 716.6 L727.9 717 L727.9 717.4 L727.8 717.8 L727.7 718.1 L727.6 718.4 L727.4 718.7 L727.2 718.9 L727 719.1 L726.7 719.3 L726.5 719.4 L726.2 719.5 L725.9 719.6 L725.6 719.6 L725.2 719.5 L724.9 719.5 L724.5 719.3 L724.2 719.2 L723.8 719 L723.4 718.8 L723.1 718.5 L722.7 718.2 L722.4 717.9 L722 717.5 L721.7 717.2 L721.4 716.8 L721.1 716.3 L720.9 715.9 L720.6 715.4 L720.4 715 L720.2 714.5 L720 714.1 L719.9 713.6 L719.8 713.1 L719.7 712.7 L719.7 712.2 L719.6 711.8 L719.7 711.4 L719.7 711 L719.8 710.6 L719.9 710.3 L720 710 L720.2 709.7 L720.4 709.5 L720.6 709.3 L720.9 709.1 L721.1 709 L721.4 708.9 L721.7 708.8 L722 708.8 L722.4 708.9 L722.7 708.9 L723.1 709.1 L723.4 709.2 L723.8 709.4 L724.2 709.6 L724.5 709.9 L724.9 710.2 L725.2 710.5 L725.6 710.9 L725.9 711.2 L726.2 711.6 L726.5 712.1 L726.7 712.5 L727 713 L727.2 713.4 L727.4 713.9 L727.6 714.3 L727.7 714.8 L727.8 715.3 L727.9 715.7 L727.9 716.2Z" fill="#fff" stroke-width="1.3"/>
<path d="M720 711.2 L725.8 717.4" fill="none" stroke-width="1.5"/>
<path d="M721.6 709.6 L727.2 715.6" fill="none" stroke-width="1.5"/>
<path d="M773.7 745.1 L773.7 745.7 L773.6 746.2 L773.5 746.7 L773.4 747.2 L773.2 747.6 L773 748 L772.7 748.3 L772.4 748.6 L772.1 748.8 L771.7 749 L771.3 749.1 L770.9 749.2 L770.5 749.2 L770 749.1 L769.6 749 L769.1 748.9 L768.6 748.7 L768.1 748.4 L767.6 748.1 L767.1 747.7 L766.6 747.3 L766.2 746.9 L765.7 746.4 L765.3 745.9 L764.9 745.4 L764.5 744.8 L764.1 744.2 L763.8 743.6 L763.5 743 L763.2 742.3 L763 741.7 L762.8 741.1 L762.7 740.4 L762.6 739.8 L762.5 739.2 L762.5 738.6 L762.5 738.1 L762.6 737.6 L762.7 737.1 L762.8 736.6 L763 736.2 L763.2 735.8 L763.5 735.5 L763.8 735.2 L764.1 735 L764.5 734.8 L764.9 734.7 L765.3 734.6 L765.7 734.6 L766.2 734.7 L766.6 734.8 L767.1 734.9 L767.6 735.1 L768.1 735.4 L768.6 735.7 L769.1 736.1 L769.6 736.5 L770 736.9 L770.5 737.4 L770.9 737.9 L771.3 738.4 L771.7 739 L772.1 739.6 L772.4 740.2 L772.7 740.8 L773 741.5 L773.2 742.1 L773.4 742.7 L773.5 743.4 L773.6 744 L773.7 744.6Z" fill="#fff" stroke-width="2.2"/>
<path d="M772.9 744.7 L772.8 745.1 L772.8 745.5 L772.7 745.9 L772.6 746.2 L772.5 746.5 L772.3 746.8 L772.1 747 L771.9 747.2 L771.6 747.4 L771.4 747.5 L771.1 747.6 L770.8 747.7 L770.5 747.7 L770.1 747.6 L769.8 747.6 L769.4 747.4 L769.1 747.3 L768.7 747.1 L768.3 746.9 L768 746.6 L767.6 746.3 L767.3 746 L766.9 745.6 L766.6 745.3 L766.3 744.9 L766 744.4 L765.8 744 L765.5 743.5 L765.3 743.1 L765.1 742.6 L764.9 742.2 L764.8 741.7 L764.7 741.2 L764.6 740.8 L764.6 740.3 L764.5 739.9 L764.6 739.5 L764.6 739.1 L764.7 738.7 L764.8 738.4 L764.9 738.1 L765.1 737.8 L765.3 737.6 L765.5 737.4 L765.8 737.2 L766 737.1 L766.3 737 L766.6 736.9 L766.9 736.9 L767.3 737 L767.6 737 L768 737.2 L768.3 737.3 L768.7 737.5 L769.1 737.7 L769.4 738 L769.8 738.3 L770.1 738.6 L770.5 739 L770.8 739.3 L771.1 739.7 L771.4 740.2 L771.6 740.6 L771.9 741.1 L772.1 741.5 L772.3 742 L772.5 742.4 L772.6 742.9 L772.7 743.4 L772.8 743.8 L772.8 744.3Z" fill="#fff" stroke-width="1.3"/>
<path d="M764.9 739.3 L770.7 745.5" fill="none" stroke-width="1.5"/>
<path d="M766.5 737.7 L772.1 743.7" fill="none" stroke-width="1.5"/>
<path d="M854.3 695.5 L854.5 691.9 L854.9 688.6 L855.6 685.4 L856.5 682.5 L857.7 679.9 L859.1 677.5 L860.8 675.4 L862.7 673.6 L864.9 672.2 L871.8 668.2 L874.1 667.1 L876.6 666.3 L879.2 665.9 L882 665.8 L884.9 666.1 L887.9 666.7 L891 667.7 L894.1 669 L897.2 670.7 L900.3 672.7 L903.4 674.9 L906.5 677.5 L909.5 680.3 L912.4 683.4 L915.2 686.6 L917.8 690.1 L920.3 693.8 L922.6 697.5 L924.7 701.4 L926.6 705.4 L928.3 709.4 L929.8 713.5 L931 717.5 L931.9 721.5 L932.6 725.4 L933 729.2 L933.1 733 L933 736.5 L932.6 739.8 L931.9 743 L931 745.9 L929.8 748.5 L928.3 750.9 L926.6 753 L924.7 754.8 L922.6 756.2 L915.7 760.2 L913.4 761.3 L910.9 762.1 L908.2 762.5 L905.5 762.6 L902.6 762.3 L899.6 761.7 L896.5 760.7 L893.4 759.4 L890.3 757.7 L887.1 755.7 L884 753.5 L881 750.9 L878 748.1 L875.1 745 L872.3 741.8 L869.7 738.3 L867.2 734.6 L864.9 730.9 L862.7 727 L860.8 723 L859.1 719 L857.7 714.9 L856.5 710.9 L855.6 706.9 L854.9 703 L854.5 699.1Z" fill="#fff" stroke-width="2.4"/>
<path d="M926.2 737 L926.1 740.5 L925.7 743.8 L925 747 L924 749.9 L922.8 752.5 L921.4 754.9 L919.7 757 L917.8 758.8 L915.7 760.2 L913.4 761.3 L910.9 762.1 L908.2 762.5 L905.5 762.6 L902.6 762.3 L899.6 761.7 L896.5 760.7 L893.4 759.4 L890.3 757.7 L887.1 755.7 L884 753.5 L881 750.9 L878 748.1 L875.1 745 L872.3 741.8 L869.7 738.3 L867.2 734.7 L864.9 730.9 L862.7 727 L860.8 723 L859.1 719 L857.7 714.9 L856.5 710.9 L855.6 706.9 L854.9 703 L854.5 699.1 L854.3 695.5 L854.5 691.9 L854.9 688.6 L855.6 685.4 L856.5 682.5 L857.7 679.9 L859.1 677.5 L860.8 675.4 L862.7 673.6 L864.9 672.2 L867.2 671.1 L869.7 670.3 L872.3 669.9 L875.1 669.8 L878 670.1 L881 670.7 L884 671.7 L887.1 673 L890.3 674.7 L893.4 676.7 L896.5 678.9 L899.6 681.5 L902.6 684.3 L905.5 687.4 L908.2 690.6 L910.9 694.1 L913.4 697.7 L915.7 701.5 L917.8 705.4 L919.7 709.4 L921.4 713.4 L922.8 717.5 L924 721.5 L925 725.5 L925.7 729.4 L926.1 733.3Z" fill="#fff" stroke-width="2.4"/>
<path d="M921.4 734.2 L921.3 737.3 L921 740.2 L920.4 742.9 L919.6 745.4 L918.5 747.7 L917.3 749.8 L915.8 751.6 L914.2 753.1 L912.3 754.4 L910.3 755.3 L908.2 756 L905.9 756.4 L903.4 756.4 L900.9 756.2 L898.3 755.6 L895.7 754.8 L893 753.6 L890.3 752.2 L887.6 750.5 L884.9 748.5 L882.2 746.3 L879.6 743.9 L877.1 741.2 L874.7 738.4 L872.4 735.4 L870.2 732.2 L868.2 728.9 L866.4 725.6 L864.7 722.1 L863.3 718.6 L862 715.1 L861 711.6 L860.2 708.1 L859.6 704.7 L859.2 701.4 L859.1 698.2 L859.2 695.1 L859.6 692.2 L860.2 689.5 L861 687 L862 684.7 L863.3 682.6 L864.7 680.8 L866.4 679.3 L868.2 678 L870.2 677.1 L872.4 676.4 L874.7 676 L877.1 676 L879.6 676.2 L882.2 676.8 L884.9 677.6 L887.6 678.8 L890.3 680.2 L893 681.9 L895.7 683.9 L898.3 686.1 L900.9 688.5 L903.4 691.2 L905.9 694 L908.2 697 L910.3 700.2 L912.3 703.5 L914.2 706.8 L915.8 710.3 L917.3 713.8 L918.5 717.3 L919.6 720.8 L920.4 724.3 L921 727.7 L921.3 731Z" fill="#fff" stroke-width="2.1"/>
<path d="M847.2 697.3 L866.3 686.3 L890.3 684.2 L914.3 714.1 L914.3 746.1 L895.2 757.1 L871.2 759.2 L847.2 729.3Z" fill="#fff" stroke-width="2.4"/>
<path d="M895.2 757.1 L871.2 759.2 L847.2 729.3 L847.2 697.3 L871.2 695.2 L895.2 725.1Z" fill="#fff" stroke-width="2.4"/>
<path d="M871.2 695.2 L890.3 684.2" fill="none" stroke-width="2.4"/>
<path d="M895.2 725.1 L914.3 714.1" fill="none" stroke-width="2.4"/>
<path d="M892 739.2 L891.9 741.2 L891.7 743.2 L891.3 745 L890.8 746.7 L890.1 748.2 L889.2 749.6 L888.2 750.8 L887.1 751.8 L885.9 752.7 L884.6 753.3 L883.1 753.7 L881.6 754 L880 754 L878.3 753.9 L876.6 753.5 L874.8 752.9 L873 752.2 L871.2 751.2 L869.4 750.1 L867.6 748.8 L865.8 747.3 L864.1 745.6 L862.4 743.9 L860.8 742 L859.3 740 L857.9 737.9 L856.5 735.7 L855.3 733.4 L854.2 731.1 L853.2 728.8 L852.4 726.5 L851.7 724.1 L851.1 721.8 L850.8 719.5 L850.5 717.3 L850.4 715.2 L850.5 713.2 L850.8 711.2 L851.1 709.4 L851.7 707.7 L852.4 706.2 L853.2 704.8 L854.2 703.6 L855.3 702.6 L856.5 701.7 L857.9 701.1 L859.3 700.7 L860.8 700.4 L862.4 700.4 L864.1 700.5 L865.8 700.9 L867.6 701.5 L869.4 702.2 L871.2 703.2 L873 704.3 L874.8 705.6 L876.6 707.1 L878.3 708.8 L880 710.5 L881.6 712.4 L883.1 714.4 L884.6 716.5 L885.9 718.7 L887.1 721 L888.2 723.3 L889.2 725.6 L890.1 727.9 L890.8 730.3 L891.3 732.6 L891.7 734.9 L891.9 737.1Z" fill="#fff" stroke-width="2.1"/>
<path d="M846.1 716.4 L856.5 710.4 L870.4 709.2 L884.2 726.5 L884.2 745 L873.8 751 L860 752.2 L846.1 734.9Z" fill="#fff" stroke-width="2.4"/>
<path d="M873.8 751 L860 752.2 L846.1 734.9 L846.1 716.4 L860 715.2 L873.8 732.5Z" fill="#fff" stroke-width="2.4"/>
<path d="M860 715.2 L870.4 709.2" fill="none" stroke-width="2.4"/>
<path d="M873.8 732.5 L884.2 726.5" fill="none" stroke-width="2.4"/>
<path d="M870.4 739.7 L870.3 740.7 L870.2 741.7 L870 742.6 L869.7 743.4 L869.4 744.2 L869 744.9 L868.5 745.5 L867.9 746 L867.3 746.4 L866.6 746.7 L865.9 747 L865.2 747.1 L864.4 747.1 L863.5 747 L862.7 746.8 L861.8 746.6 L860.9 746.2 L860 745.7 L859.1 745.1 L858.2 744.5 L857.3 743.7 L856.4 742.9 L855.6 742 L854.8 741.1 L854 740.1 L853.3 739 L852.6 737.9 L852 736.8 L851.4 735.7 L851 734.5 L850.5 733.3 L850.2 732.2 L849.9 731 L849.7 729.9 L849.6 728.8 L849.6 727.7 L849.6 726.7 L849.7 725.7 L849.9 724.8 L850.2 724 L850.5 723.2 L851 722.5 L851.4 721.9 L852 721.4 L852.6 721 L853.3 720.7 L854 720.4 L854.8 720.3 L855.6 720.3 L856.4 720.4 L857.3 720.6 L858.2 720.8 L859.1 721.2 L860 721.7 L860.9 722.3 L861.8 722.9 L862.7 723.7 L863.5 724.5 L864.4 725.4 L865.2 726.3 L865.9 727.3 L866.6 728.4 L867.3 729.5 L867.9 730.6 L868.5 731.7 L869 732.9 L869.4 734.1 L869.7 735.2 L870 736.4 L870.2 737.5 L870.3 738.6Z" fill="#fff" stroke-width="1.6"/>
<path d="M818 748.5 L818 747.6 L818.1 746.9 L818.2 746.1 L818.5 745.5 L818.7 744.9 L819.1 744.3 L819.5 743.9 L819.9 743.5 L820.4 743.1 L854.1 723.6 L854.7 723.4 L855.2 723.2 L855.9 723.1 L856.5 723.1 L857.1 723.1 L857.8 723.3 L858.5 723.5 L859.2 723.8 L860 724.2 L860.7 724.6 L861.4 725.2 L862.1 725.8 L862.8 726.4 L863.4 727.1 L864.1 727.9 L864.7 728.6 L865.2 729.5 L865.8 730.3 L866.3 731.2 L866.7 732.1 L867.1 733.1 L867.4 734 L867.7 734.9 L867.9 735.8 L868.1 736.7 L868.2 737.6 L868.2 738.5 L868.2 739.3 L868.1 740 L867.9 740.8 L867.7 741.4 L867.4 742 L867.1 742.6 L866.7 743 L866.3 743.5 L865.8 743.8 L832 763.3 L831.5 763.5 L830.9 763.7 L830.3 763.8 L829.7 763.8 L829 763.8 L828.3 763.6 L827.6 763.4 L826.9 763.1 L826.2 762.7 L825.5 762.2 L824.8 761.7 L824.1 761.1 L823.4 760.5 L822.7 759.8 L822.1 759 L821.5 758.3 L820.9 757.4 L820.4 756.6 L819.9 755.7 L819.5 754.8 L819.1 753.8 L818.7 752.9 L818.5 752 L818.2 751.1 L818.1 750.2 L818 749.3Z" fill="#fff" stroke-width="2.4"/>
<path d="M834.4 758 L834.4 758.8 L834.3 759.5 L834.1 760.2 L833.9 760.9 L833.6 761.5 L833.3 762.1 L832.9 762.5 L832.5 762.9 L832 763.3 L831.5 763.5 L830.9 763.7 L830.3 763.8 L829.7 763.8 L829 763.8 L828.3 763.6 L827.6 763.4 L826.9 763.1 L826.2 762.7 L825.5 762.2 L824.8 761.7 L824.1 761.1 L823.4 760.5 L822.7 759.8 L822.1 759.1 L821.5 758.3 L820.9 757.4 L820.4 756.6 L819.9 755.7 L819.4 754.8 L819.1 753.8 L818.7 752.9 L818.5 752 L818.2 751.1 L818.1 750.2 L818 749.3 L818 748.5 L818 747.6 L818.1 746.9 L818.2 746.2 L818.5 745.5 L818.7 744.9 L819.1 744.3 L819.4 743.9 L819.9 743.5 L820.4 743.1 L820.9 742.9 L821.5 742.7 L822.1 742.6 L822.7 742.6 L823.4 742.6 L824.1 742.8 L824.8 743 L825.5 743.3 L826.2 743.7 L826.9 744.2 L827.6 744.7 L828.3 745.3 L829 745.9 L829.7 746.6 L830.3 747.3 L830.9 748.1 L831.5 749 L832 749.8 L832.5 750.7 L832.9 751.6 L833.3 752.6 L833.6 753.5 L833.9 754.4 L834.1 755.3 L834.3 756.2 L834.4 757.1Z" fill="#fff" stroke-width="2.4"/>
<path d="M800.9 746.4 L811.2 738.1 L821.6 732.1 L837.4 744.5 L842.8 765 L832.5 773.2 L822.1 779.2 L806.4 766.9Z" fill="#fff" stroke-width="2.4"/>
<path d="M832.4 771 L822.1 779.2 L806.4 766.9 L800.9 746.4 L811.2 738.2 L827 750.5Z" fill="#fff" stroke-width="2.4"/>
<path d="M832.4 771 L842.8 765" fill="none" stroke-width="2.4"/>
<path d="M827 750.5 L837.4 744.5" fill="none" stroke-width="2.4"/>
<path d="M829.2 766 L829.2 767.2 L829 768.4 L828.8 769.5 L828.5 770.5 L828 771.4 L827.5 772.2 L826.9 773 L826.3 773.6 L825.5 774.1 L824.7 774.5 L823.9 774.7 L822.9 774.9 L822 774.9 L821 774.8 L819.9 774.6 L818.8 774.2 L817.8 773.8 L816.7 773.2 L815.6 772.5 L814.5 771.7 L813.4 770.8 L812.4 769.8 L811.4 768.8 L810.4 767.6 L809.5 766.4 L808.6 765.1 L807.8 763.8 L807 762.5 L806.4 761.1 L805.8 759.7 L805.3 758.3 L804.9 756.8 L804.5 755.4 L804.3 754.1 L804.2 752.7 L804.1 751.5 L804.2 750.2 L804.3 749 L804.5 747.9 L804.9 746.9 L805.3 746 L805.8 745.2 L806.4 744.4 L807 743.8 L807.8 743.3 L808.6 742.9 L809.5 742.7 L810.4 742.5 L811.4 742.5 L812.4 742.6 L813.4 742.8 L814.5 743.2 L815.6 743.6 L816.7 744.2 L817.8 744.9 L818.8 745.7 L819.9 746.6 L821 747.6 L822 748.6 L822.9 749.8 L823.9 751 L824.7 752.3 L825.5 753.6 L826.3 754.9 L826.9 756.3 L827.5 757.7 L828 759.1 L828.5 760.6 L828.8 762 L829 763.3 L829.2 764.7Z" fill="#fff" stroke-width="2.1"/>
<path d="M981.7 774.2 L981.9 770.7 L982.3 767.4 L983 764.2 L983.9 761.3 L985.1 758.7 L986.5 756.3 L988.2 754.2 L990.1 752.4 L992.3 751 L999.2 747 L1001.5 745.9 L1004 745.1 L1006.6 744.7 L1009.4 744.6 L1012.3 744.9 L1015.3 745.5 L1018.4 746.5 L1021.5 747.9 L1024.6 749.5 L1027.7 751.5 L1030.8 753.7 L1033.9 756.3 L1036.9 759.1 L1039.8 762.2 L1042.6 765.4 L1045.2 768.9 L1047.7 772.5 L1050 776.3 L1052.1 780.2 L1054 784.2 L1055.7 788.2 L1057.2 792.3 L1058.4 796.3 L1059.3 800.3 L1060 804.2 L1060.4 808 L1060.5 811.8 L1060.4 815.3 L1060 818.6 L1059.3 821.8 L1058.4 824.7 L1057.2 827.3 L1055.7 829.7 L1054 831.8 L1052.1 833.6 L1050 835 L1043.1 839 L1040.8 840.1 L1038.3 840.9 L1035.6 841.3 L1032.9 841.4 L1030 841.1 L1027 840.5 L1023.9 839.5 L1020.8 838.1 L1017.7 836.5 L1014.5 834.5 L1011.4 832.3 L1008.4 829.7 L1005.4 826.9 L1002.5 823.8 L999.7 820.6 L997.1 817.1 L994.6 813.5 L992.3 809.7 L990.1 805.8 L988.2 801.8 L986.5 797.8 L985.1 793.7 L983.9 789.7 L983 785.7 L982.3 781.8 L981.9 778Z" fill="#fff" stroke-width="2.4"/>
<path d="M1053.6 815.8 L1053.5 819.3 L1053.1 822.6 L1052.4 825.8 L1051.4 828.7 L1050.2 831.3 L1048.8 833.7 L1047.1 835.8 L1045.2 837.6 L1043.1 839 L1040.8 840.1 L1038.3 840.9 L1035.6 841.3 L1032.9 841.4 L1030 841.1 L1027 840.5 L1023.9 839.5 L1020.8 838.2 L1017.7 836.5 L1014.5 834.5 L1011.4 832.3 L1008.4 829.7 L1005.4 826.9 L1002.5 823.8 L999.7 820.6 L997.1 817.1 L994.6 813.5 L992.3 809.7 L990.1 805.8 L988.2 801.8 L986.5 797.8 L985.1 793.7 L983.9 789.7 L983 785.7 L982.3 781.8 L981.9 777.9 L981.7 774.2 L981.9 770.7 L982.3 767.4 L983 764.2 L983.9 761.3 L985.1 758.7 L986.5 756.3 L988.2 754.2 L990.1 752.4 L992.3 751 L994.6 749.9 L997.1 749.1 L999.7 748.7 L1002.5 748.6 L1005.4 748.9 L1008.4 749.5 L1011.4 750.5 L1014.5 751.8 L1017.7 753.5 L1020.8 755.5 L1023.9 757.7 L1027 760.3 L1030 763.1 L1032.9 766.2 L1035.6 769.4 L1038.3 772.9 L1040.8 776.5 L1043.1 780.3 L1045.2 784.2 L1047.1 788.2 L1048.8 792.2 L1050.2 796.3 L1051.4 800.3 L1052.4 804.3 L1053.1 808.2 L1053.5 812.1Z" fill="#fff" stroke-width="2.4"/>
<path d="M1048.8 813 L1048.7 816.1 L1048.4 819 L1047.8 821.7 L1047 824.2 L1045.9 826.5 L1044.7 828.6 L1043.2 830.4 L1041.6 831.9 L1039.7 833.2 L1037.7 834.1 L1035.6 834.8 L1033.3 835.2 L1030.8 835.2 L1028.3 835 L1025.7 834.4 L1023.1 833.6 L1020.4 832.4 L1017.7 831 L1015 829.3 L1012.3 827.3 L1009.6 825.1 L1007 822.7 L1004.5 820 L1002.1 817.2 L999.8 814.2 L997.6 811 L995.6 807.7 L993.8 804.4 L992.1 800.9 L990.7 797.4 L989.4 793.9 L988.4 790.4 L987.6 786.9 L987 783.5 L986.6 780.2 L986.5 777 L986.6 773.9 L987 771 L987.6 768.3 L988.4 765.8 L989.4 763.5 L990.7 761.4 L992.1 759.6 L993.8 758.1 L995.6 756.8 L997.6 755.9 L999.8 755.2 L1002.1 754.8 L1004.5 754.8 L1007 755 L1009.6 755.6 L1012.3 756.4 L1015 757.6 L1017.7 759 L1020.4 760.7 L1023.1 762.7 L1025.7 764.9 L1028.3 767.3 L1030.8 770 L1033.3 772.8 L1035.6 775.8 L1037.7 779 L1039.7 782.3 L1041.6 785.6 L1043.2 789.1 L1044.7 792.6 L1045.9 796.1 L1047 799.6 L1047.8 803.1 L1048.4 806.5 L1048.7 809.8Z" fill="#fff" stroke-width="2.1"/>
<path d="M974.6 776.1 L993.7 765.1 L1017.7 763 L1041.7 792.9 L1041.7 824.9 L1022.6 835.9 L998.6 838 L974.6 808.1Z" fill="#fff" stroke-width="2.4"/>
<path d="M1022.6 835.9 L998.6 838 L974.6 808.1 L974.6 776.1 L998.6 774 L1022.6 803.9Z" fill="#fff" stroke-width="2.4"/>
<path d="M998.6 774 L1017.7 763" fill="none" stroke-width="2.4"/>
<path d="M1022.6 803.9 L1041.7 792.9" fill="none" stroke-width="2.4"/>
<path d="M1019.4 818 L1019.3 820 L1019.1 822 L1018.7 823.8 L1018.2 825.5 L1017.5 827 L1016.6 828.4 L1015.6 829.6 L1014.5 830.6 L1013.3 831.5 L1012 832.1 L1010.5 832.5 L1009 832.8 L1007.4 832.8 L1005.7 832.7 L1004 832.3 L1002.2 831.7 L1000.4 831 L998.6 830 L996.8 828.9 L995 827.6 L993.2 826.1 L991.5 824.4 L989.8 822.7 L988.2 820.8 L986.7 818.8 L985.3 816.7 L983.9 814.5 L982.7 812.2 L981.6 809.9 L980.6 807.6 L979.8 805.3 L979.1 802.9 L978.5 800.6 L978.2 798.3 L977.9 796.1 L977.8 794 L977.9 792 L978.2 790 L978.5 788.2 L979.1 786.5 L979.8 785 L980.6 783.6 L981.6 782.4 L982.7 781.4 L983.9 780.5 L985.3 779.9 L986.7 779.5 L988.2 779.2 L989.8 779.2 L991.5 779.3 L993.2 779.7 L995 780.3 L996.8 781 L998.6 782 L1000.4 783.1 L1002.2 784.4 L1004 785.9 L1005.7 787.6 L1007.4 789.3 L1009 791.2 L1010.5 793.2 L1012 795.3 L1013.3 797.5 L1014.5 799.8 L1015.6 802.1 L1016.6 804.4 L1017.5 806.7 L1018.2 809.1 L1018.7 811.4 L1019.1 813.7 L1019.3 815.9Z" fill="#fff" stroke-width="2.1"/>
<path d="M973.5 795.2 L983.9 789.2 L997.8 788 L1011.6 805.3 L1011.6 823.8 L1001.2 829.8 L987.4 831 L973.5 813.7Z" fill="#fff" stroke-width="2.4"/>
<path d="M1001.2 829.8 L987.4 831 L973.5 813.7 L973.5 795.2 L987.4 794 L1001.2 811.3Z" fill="#fff" stroke-width="2.4"/>
<path d="M987.4 794 L997.8 788" fill="none" stroke-width="2.4"/>
<path d="M1001.2 811.3 L1011.6 805.3" fill="none" stroke-width="2.4"/>
<path d="M997.8 818.5 L997.7 819.5 L997.6 820.5 L997.4 821.4 L997.1 822.2 L996.8 823 L996.4 823.7 L995.9 824.3 L995.3 824.8 L994.7 825.2 L994 825.5 L993.3 825.8 L992.6 825.9 L991.8 825.9 L990.9 825.8 L990.1 825.6 L989.2 825.4 L988.3 825 L987.4 824.5 L986.5 823.9 L985.6 823.3 L984.7 822.5 L983.8 821.7 L983 820.8 L982.2 819.9 L981.4 818.9 L980.7 817.8 L980 816.7 L979.4 815.6 L978.8 814.5 L978.4 813.3 L977.9 812.1 L977.6 811 L977.3 809.8 L977.1 808.7 L977 807.6 L977 806.5 L977 805.5 L977.1 804.5 L977.3 803.6 L977.6 802.8 L977.9 802 L978.4 801.3 L978.8 800.7 L979.4 800.2 L980 799.8 L980.7 799.5 L981.4 799.2 L982.2 799.1 L983 799.1 L983.8 799.2 L984.7 799.4 L985.6 799.6 L986.5 800 L987.4 800.5 L988.3 801.1 L989.2 801.7 L990.1 802.5 L990.9 803.3 L991.8 804.2 L992.6 805.1 L993.3 806.1 L994 807.2 L994.7 808.3 L995.3 809.4 L995.9 810.5 L996.4 811.7 L996.8 812.9 L997.1 814 L997.4 815.2 L997.6 816.3 L997.7 817.4Z" fill="#fff" stroke-width="1.6"/>
<path d="M945.4 827.2 L945.4 826.4 L945.5 825.7 L945.6 825 L945.9 824.3 L946.1 823.7 L946.5 823.1 L946.9 822.7 L947.3 822.2 L947.8 821.9 L981.5 802.4 L982.1 802.2 L982.6 802 L983.2 801.9 L983.9 801.9 L984.5 802 L985.2 802.1 L985.9 802.3 L986.6 802.6 L987.4 803 L988.1 803.5 L988.8 804 L989.5 804.5 L990.2 805.2 L990.8 805.9 L991.5 806.6 L992.1 807.4 L992.6 808.3 L993.2 809.1 L993.7 810 L994.1 810.9 L994.5 811.9 L994.8 812.8 L995.1 813.7 L995.3 814.6 L995.5 815.5 L995.6 816.4 L995.6 817.2 L995.6 818.1 L995.5 818.8 L995.3 819.5 L995.1 820.2 L994.8 820.8 L994.5 821.4 L994.1 821.8 L993.7 822.2 L993.2 822.6 L959.4 842.1 L958.9 842.3 L958.3 842.5 L957.7 842.6 L957.1 842.6 L956.4 842.5 L955.7 842.4 L955 842.2 L954.3 841.9 L953.6 841.5 L952.9 841 L952.2 840.5 L951.5 840 L950.8 839.3 L950.1 838.6 L949.5 837.9 L948.9 837.1 L948.3 836.2 L947.8 835.4 L947.3 834.5 L946.9 833.6 L946.5 832.6 L946.1 831.7 L945.9 830.8 L945.6 829.9 L945.5 829 L945.4 828.1Z" fill="#fff" stroke-width="2.4"/>
<path d="M961.8 836.8 L961.8 837.6 L961.7 838.3 L961.5 839 L961.3 839.7 L961 840.3 L960.7 840.9 L960.3 841.3 L959.9 841.7 L959.4 842.1 L958.9 842.3 L958.3 842.5 L957.7 842.6 L957.1 842.6 L956.4 842.6 L955.7 842.4 L955 842.2 L954.3 841.9 L953.6 841.5 L952.9 841 L952.2 840.5 L951.5 839.9 L950.8 839.3 L950.1 838.6 L949.5 837.9 L948.9 837.1 L948.3 836.2 L947.8 835.4 L947.3 834.5 L946.8 833.6 L946.5 832.6 L946.1 831.7 L945.9 830.8 L945.6 829.9 L945.5 829 L945.4 828.1 L945.4 827.2 L945.4 826.4 L945.5 825.7 L945.6 825 L945.9 824.3 L946.1 823.7 L946.5 823.1 L946.8 822.7 L947.3 822.3 L947.8 821.9 L948.3 821.7 L948.9 821.5 L949.5 821.4 L950.1 821.4 L950.8 821.4 L951.5 821.6 L952.2 821.8 L952.9 822.1 L953.6 822.5 L954.3 823 L955 823.5 L955.7 824.1 L956.4 824.7 L957.1 825.4 L957.7 826.1 L958.3 826.9 L958.9 827.8 L959.4 828.6 L959.9 829.5 L960.3 830.4 L960.7 831.4 L961 832.3 L961.3 833.2 L961.5 834.1 L961.7 835 L961.8 835.9Z" fill="#fff" stroke-width="2.4"/>
<path d="M928.3 825.2 L938.6 817 L949 811 L964.8 823.3 L970.2 843.8 L959.9 852 L949.5 858 L933.8 845.7Z" fill="#fff" stroke-width="2.4"/>
<path d="M959.8 849.8 L949.5 858 L933.8 845.7 L928.3 825.2 L938.6 817 L954.4 829.3Z" fill="#fff" stroke-width="2.4"/>
<path d="M959.8 849.8 L970.2 843.8" fill="none" stroke-width="2.4"/>
<path d="M954.4 829.3 L964.8 823.3" fill="none" stroke-width="2.4"/>
<path d="M956.6 844.8 L956.6 846 L956.4 847.2 L956.2 848.3 L955.9 849.3 L955.4 850.2 L954.9 851 L954.3 851.8 L953.7 852.4 L952.9 852.9 L952.1 853.3 L951.3 853.5 L950.3 853.7 L949.4 853.7 L948.4 853.6 L947.3 853.4 L946.2 853 L945.2 852.6 L944.1 852 L943 851.3 L941.9 850.5 L940.8 849.6 L939.8 848.6 L938.8 847.6 L937.8 846.4 L936.9 845.2 L936 843.9 L935.2 842.6 L934.4 841.3 L933.8 839.9 L933.2 838.5 L932.7 837.1 L932.3 835.6 L931.9 834.2 L931.7 832.9 L931.6 831.5 L931.5 830.2 L931.6 829 L931.7 827.8 L931.9 826.7 L932.3 825.7 L932.7 824.8 L933.2 824 L933.8 823.2 L934.4 822.6 L935.2 822.1 L936 821.7 L936.9 821.5 L937.8 821.3 L938.8 821.3 L939.8 821.4 L940.8 821.6 L941.9 822 L943 822.4 L944.1 823 L945.2 823.7 L946.2 824.5 L947.3 825.4 L948.4 826.4 L949.4 827.4 L950.3 828.6 L951.3 829.8 L952.1 831.1 L952.9 832.4 L953.7 833.7 L954.3 835.1 L954.9 836.5 L955.4 837.9 L955.9 839.4 L956.2 840.8 L956.4 842.1 L956.6 843.5Z" fill="#fff" stroke-width="2.1"/>
<path d="M1128.7 921.3 L1128.7 919.4 L1128.9 917.5 L1129.3 915.5 L1129.8 913.5 L1130.4 911.4 L1131.1 909.4 L1132 907.4 L1132.9 905.3 L1134 903.4 L1135.2 901.5 L1136.4 899.6 L1137.8 897.9 L1139.2 896.2 L1140.6 894.7 L1142.1 893.2 L1143.7 891.9 L1145.3 890.8 L1146.8 889.8 L1148.4 889 L1150 888.3 L1151.5 887.8 L1153.1 887.5 L1154.5 887.3 L1155.9 887.4 L1157.3 887.6 L1158.5 888 L1159.7 888.5 L1173.6 896.5 L1174.6 897.3 L1175.6 898.1 L1176.5 899.2 L1177.2 900.4 L1177.8 901.8 L1178.3 903.2 L1178.6 904.8 L1178.8 906.5 L1178.9 908.3 L1178.8 910.2 L1178.6 912.1 L1178.3 914.1 L1177.8 916.1 L1177.2 918.2 L1176.5 920.2 L1175.6 922.2 L1174.6 924.3 L1173.6 926.2 L1172.4 928.1 L1171.1 930 L1169.8 931.7 L1168.4 933.4 L1166.9 934.9 L1165.4 936.4 L1163.9 937.7 L1162.3 938.8 L1160.7 939.8 L1159.1 940.6 L1157.5 941.3 L1156 941.8 L1154.5 942.1 L1153 942.3 L1151.6 942.2 L1150.3 942 L1149 941.6 L1147.8 941.1 L1134 933.1 L1132.9 932.3 L1132 931.5 L1131.1 930.4 L1130.4 929.2 L1129.8 927.9 L1129.3 926.4 L1128.9 924.8 L1128.7 923.1Z" fill="#fff" stroke-width="2.4"/>
<path d="M1178.9 908.3 L1178.8 910.2 L1178.6 912.1 L1178.3 914.1 L1177.8 916.1 L1177.2 918.2 L1176.4 920.2 L1175.6 922.2 L1174.6 924.3 L1173.6 926.2 L1172.4 928.1 L1171.1 930 L1169.8 931.7 L1168.4 933.4 L1166.9 934.9 L1165.4 936.4 L1163.9 937.7 L1162.3 938.8 L1160.7 939.8 L1159.1 940.6 L1157.5 941.3 L1156 941.8 L1154.5 942.1 L1153 942.3 L1151.6 942.2 L1150.3 942 L1149 941.6 L1147.8 941.1 L1146.8 940.3 L1145.8 939.4 L1145 938.4 L1144.2 937.2 L1143.6 935.8 L1143.1 934.4 L1142.8 932.8 L1142.6 931.1 L1142.5 929.3 L1142.6 927.4 L1142.8 925.5 L1143.1 923.5 L1143.6 921.5 L1144.2 919.4 L1145 917.4 L1145.8 915.4 L1146.8 913.3 L1147.8 911.4 L1149 909.5 L1150.3 907.6 L1151.6 905.9 L1153 904.2 L1154.5 902.7 L1156 901.2 L1157.5 899.9 L1159.1 898.8 L1160.7 897.8 L1162.3 897 L1163.9 896.3 L1165.4 895.8 L1166.9 895.5 L1168.4 895.3 L1169.8 895.4 L1171.1 895.6 L1172.4 896 L1173.6 896.5 L1174.6 897.3 L1175.6 898.2 L1176.4 899.2 L1177.2 900.4 L1177.8 901.8 L1178.3 903.2 L1178.6 904.8 L1178.8 906.5Z" fill="#fff" stroke-width="2.4"/>
<path d="M1173.7 911.3 L1173.6 912.6 L1173.5 914 L1173.2 915.4 L1172.9 916.9 L1172.5 918.3 L1171.9 919.8 L1171.3 921.3 L1170.7 922.7 L1169.9 924.1 L1169 925.5 L1168.2 926.8 L1167.2 928 L1166.2 929.2 L1165.1 930.3 L1164.1 931.3 L1163 932.3 L1161.8 933.1 L1160.7 933.8 L1159.6 934.4 L1158.4 934.9 L1157.3 935.2 L1156.3 935.5 L1155.2 935.6 L1154.2 935.5 L1153.2 935.4 L1152.4 935.1 L1151.5 934.7 L1150.7 934.2 L1150.1 933.5 L1149.5 932.8 L1148.9 931.9 L1148.5 931 L1148.2 929.9 L1147.9 928.8 L1147.8 927.6 L1147.7 926.3 L1147.8 925 L1147.9 923.6 L1148.2 922.2 L1148.5 920.7 L1148.9 919.3 L1149.5 917.8 L1150.1 916.3 L1150.7 914.9 L1151.5 913.5 L1152.4 912.1 L1153.2 910.8 L1154.2 909.6 L1155.2 908.4 L1156.3 907.3 L1157.3 906.3 L1158.4 905.3 L1159.6 904.5 L1160.7 903.8 L1161.8 903.2 L1163 902.7 L1164.1 902.4 L1165.1 902.1 L1166.2 902 L1167.2 902.1 L1168.2 902.2 L1169 902.5 L1169.9 902.9 L1170.7 903.4 L1171.3 904.1 L1171.9 904.8 L1172.5 905.7 L1172.9 906.6 L1173.2 907.7 L1173.5 908.8 L1173.6 910Z" fill="#fff" stroke-width="2"/>
<path d="M1167.6 914.8 L1164.2 923.7 L1157.2 927.7 L1153.8 922.8 L1157.2 913.9 L1164.2 909.9Z" fill="#fff" stroke-width="2"/>
<path d="M1165 916.3 L1165 916.7 L1165 917.2 L1164.9 917.7 L1164.8 918.2 L1164.6 918.6 L1164.4 919.1 L1164.2 919.6 L1164 920.1 L1163.8 920.6 L1163.5 921 L1163.2 921.5 L1162.9 921.9 L1162.5 922.3 L1162.2 922.6 L1161.8 923 L1161.5 923.3 L1161.1 923.6 L1160.7 923.8 L1160.3 924 L1159.9 924.2 L1159.6 924.3 L1159.2 924.4 L1158.9 924.4 L1158.5 924.4 L1158.2 924.3 L1157.9 924.2 L1157.6 924.1 L1157.4 923.9 L1157.2 923.7 L1157 923.5 L1156.8 923.2 L1156.6 922.9 L1156.5 922.5 L1156.4 922.1 L1156.4 921.7 L1156.4 921.3 L1156.4 920.9 L1156.4 920.4 L1156.5 919.9 L1156.6 919.4 L1156.8 919 L1157 918.5 L1157.2 918 L1157.4 917.5 L1157.6 917 L1157.9 916.6 L1158.2 916.1 L1158.5 915.7 L1158.9 915.3 L1159.2 915 L1159.6 914.6 L1159.9 914.3 L1160.3 914 L1160.7 913.8 L1161.1 913.6 L1161.5 913.4 L1161.8 913.3 L1162.2 913.2 L1162.5 913.2 L1162.9 913.2 L1163.2 913.3 L1163.5 913.4 L1163.8 913.5 L1164 913.7 L1164.2 913.9 L1164.4 914.1 L1164.6 914.4 L1164.8 914.7 L1164.9 915.1 L1165 915.5 L1165 915.9Z" fill="#fff" stroke-width="1.5"/>
<path d="M1208.3 873.3 L1208.3 871.4 L1208.5 869.5 L1208.9 867.5 L1209.3 865.5 L1210 863.4 L1210.7 861.4 L1211.5 859.4 L1212.5 857.3 L1213.6 855.4 L1214.8 853.5 L1216 851.6 L1217.3 849.9 L1218.8 848.2 L1220.2 846.7 L1221.7 845.2 L1223.3 843.9 L1224.9 842.8 L1226.4 841.8 L1228 841 L1229.6 840.3 L1231.2 839.8 L1232.7 839.5 L1234.1 839.3 L1235.5 839.4 L1236.9 839.6 L1238.1 840 L1239.3 840.5 L1253.2 848.5 L1254.2 849.3 L1255.2 850.1 L1256 851.2 L1256.8 852.4 L1257.4 853.8 L1257.9 855.2 L1258.2 856.8 L1258.4 858.5 L1258.5 860.3 L1258.4 862.2 L1258.2 864.1 L1257.9 866.1 L1257.4 868.1 L1256.8 870.2 L1256 872.2 L1255.2 874.2 L1254.2 876.3 L1253.2 878.2 L1252 880.1 L1250.7 882 L1249.4 883.7 L1248 885.4 L1246.5 886.9 L1245 888.4 L1243.5 889.7 L1241.9 890.8 L1240.3 891.8 L1238.7 892.6 L1237.1 893.3 L1235.6 893.8 L1234.1 894.1 L1232.6 894.3 L1231.2 894.2 L1229.9 894 L1228.6 893.6 L1227.4 893.1 L1213.6 885.1 L1212.5 884.3 L1211.5 883.5 L1210.7 882.4 L1210 881.2 L1209.3 879.9 L1208.9 878.4 L1208.5 876.8 L1208.3 875.1Z" fill="#fff" stroke-width="2.4"/>
<path d="M1258.5 860.3 L1258.4 862.2 L1258.2 864.1 L1257.9 866.1 L1257.4 868.1 L1256.8 870.2 L1256 872.2 L1255.2 874.2 L1254.2 876.3 L1253.2 878.2 L1252 880.1 L1250.7 882 L1249.4 883.7 L1248 885.4 L1246.5 886.9 L1245 888.4 L1243.5 889.7 L1241.9 890.8 L1240.3 891.8 L1238.7 892.6 L1237.1 893.3 L1235.6 893.8 L1234.1 894.1 L1232.6 894.3 L1231.2 894.2 L1229.9 894 L1228.6 893.6 L1227.4 893.1 L1226.4 892.3 L1225.4 891.4 L1224.6 890.4 L1223.8 889.2 L1223.2 887.8 L1222.7 886.4 L1222.4 884.8 L1222.2 883.1 L1222.1 881.3 L1222.2 879.4 L1222.4 877.5 L1222.7 875.5 L1223.2 873.5 L1223.8 871.4 L1224.6 869.4 L1225.4 867.4 L1226.4 865.3 L1227.4 863.4 L1228.6 861.5 L1229.9 859.6 L1231.2 857.9 L1232.6 856.2 L1234.1 854.7 L1235.6 853.2 L1237.1 851.9 L1238.7 850.8 L1240.3 849.8 L1241.9 849 L1243.5 848.3 L1245 847.8 L1246.5 847.5 L1248 847.3 L1249.4 847.4 L1250.7 847.6 L1252 848 L1253.2 848.5 L1254.2 849.3 L1255.2 850.2 L1256 851.2 L1256.8 852.4 L1257.4 853.8 L1257.9 855.2 L1258.2 856.8 L1258.4 858.5Z" fill="#fff" stroke-width="2.4"/>
<path d="M1253.3 863.3 L1253.2 864.6 L1253.1 866 L1252.8 867.4 L1252.5 868.9 L1252.1 870.3 L1251.5 871.8 L1250.9 873.3 L1250.3 874.7 L1249.5 876.1 L1248.6 877.5 L1247.8 878.8 L1246.8 880 L1245.8 881.2 L1244.7 882.3 L1243.7 883.3 L1242.6 884.3 L1241.4 885.1 L1240.3 885.8 L1239.2 886.4 L1238 886.9 L1236.9 887.2 L1235.9 887.5 L1234.8 887.6 L1233.8 887.5 L1232.8 887.4 L1232 887.1 L1231.1 886.7 L1230.3 886.2 L1229.7 885.5 L1229.1 884.8 L1228.5 883.9 L1228.1 883 L1227.8 881.9 L1227.5 880.8 L1227.4 879.6 L1227.3 878.3 L1227.4 877 L1227.5 875.6 L1227.8 874.2 L1228.1 872.7 L1228.5 871.3 L1229.1 869.8 L1229.7 868.3 L1230.3 866.9 L1231.1 865.5 L1232 864.1 L1232.8 862.8 L1233.8 861.6 L1234.8 860.4 L1235.9 859.3 L1236.9 858.3 L1238 857.3 L1239.2 856.5 L1240.3 855.8 L1241.4 855.2 L1242.6 854.7 L1243.7 854.4 L1244.7 854.1 L1245.8 854 L1246.8 854.1 L1247.8 854.2 L1248.6 854.5 L1249.5 854.9 L1250.3 855.4 L1250.9 856.1 L1251.5 856.8 L1252.1 857.7 L1252.5 858.6 L1252.8 859.7 L1253.1 860.8 L1253.2 862Z" fill="#fff" stroke-width="2"/>
<path d="M1247.2 866.8 L1243.8 875.7 L1236.8 879.7 L1233.4 874.8 L1236.8 865.9 L1243.8 861.9Z" fill="#fff" stroke-width="2"/>
<path d="M1244.6 868.3 L1244.6 868.7 L1244.6 869.2 L1244.5 869.7 L1244.4 870.2 L1244.2 870.6 L1244 871.1 L1243.8 871.6 L1243.6 872.1 L1243.4 872.6 L1243.1 873 L1242.8 873.5 L1242.5 873.9 L1242.1 874.3 L1241.8 874.6 L1241.4 875 L1241.1 875.3 L1240.7 875.6 L1240.3 875.8 L1239.9 876 L1239.5 876.2 L1239.2 876.3 L1238.8 876.4 L1238.5 876.4 L1238.1 876.4 L1237.8 876.3 L1237.5 876.2 L1237.2 876.1 L1237 875.9 L1236.8 875.7 L1236.6 875.5 L1236.4 875.2 L1236.2 874.9 L1236.1 874.5 L1236 874.1 L1236 873.7 L1236 873.3 L1236 872.9 L1236 872.4 L1236.1 871.9 L1236.2 871.4 L1236.4 871 L1236.6 870.5 L1236.8 870 L1237 869.5 L1237.2 869 L1237.5 868.6 L1237.8 868.1 L1238.1 867.7 L1238.5 867.3 L1238.8 867 L1239.2 866.6 L1239.5 866.3 L1239.9 866 L1240.3 865.8 L1240.7 865.6 L1241.1 865.4 L1241.4 865.3 L1241.8 865.2 L1242.1 865.2 L1242.5 865.2 L1242.8 865.3 L1243.1 865.4 L1243.4 865.5 L1243.6 865.7 L1243.8 865.9 L1244 866.1 L1244.2 866.4 L1244.4 866.7 L1244.5 867.1 L1244.6 867.5 L1244.6 867.9Z" fill="#fff" stroke-width="1.5"/>
<path d="M1398.6 933 L1320.6 1091" fill="none" stroke-width="3"/>
<path d="M1484.7 1122.4 L1879.9 1368.2 L1816.3 1399.9 L1421.1 1154.1Z" fill="#fff" stroke-width="2.4"/>
<path d="M1816.3 1399.9 L1879.9 1368.2 L1881 1388.2 L1836.3 1415.2 L1836.3 1625.7 L1878.7 1606.9 L1879.9 1626.9 L1829.3 1652.8 L1817.5 1644.5Z" fill="#fff" stroke-width="2.4"/>
<path d="M1836.3 1581 L1878.7 1606.9" fill="none" stroke-width="2.4"/>
<path d="M1421.1 1154.1 L1816.3 1399.9 L1817.5 1644.5 L1420 1400Z" fill="#fff" stroke-width="2.4"/>
<path d="M1778.7 1294.1 L1830.5 1261.2" fill="none" stroke-width="1.6"/>
<path d="M1226.2 1201.8 L1354.4 1128.4 L1678.6 1320.5 L1550.4 1393.9Z" fill="#fff" stroke-width="5.2"/>
<path d="M1226.2 1201.8 L1550.4 1393.9 L1550.4 1547.5 L1226.2 1353Z" fill="#fff" stroke-width="5.2"/>
<path d="M1550.4 1393.9 L1678.6 1320.5 L1678.6 1471 L1550.4 1547.5Z" fill="#fff" stroke-width="5.2"/>
<path d="M1447.7 1165.8 L1466 1176 M1478 1183 L1482 1185 M1494 1192 L1545.8 1223.2" fill="none" stroke-width="1.6"/>
<path d="M1285 1110.5 L1285.2 1108.9 L1285.6 1107.2 L1286.3 1105.6 L1287.3 1104.1 L1288.7 1102.5 L1290.2 1101.1 L1292 1099.7 L1294.1 1098.4 L1296.4 1097.2 L1298.9 1096.1 L1301.6 1095.1 L1304.5 1094.2 L1307.5 1093.5 L1310.7 1092.8 L1313.9 1092.3 L1317.2 1092 L1320.6 1091.8 L1324 1091.7 L1327.4 1091.8 L1330.8 1092 L1334.1 1092.3 L1337.3 1092.8 L1340.5 1093.5 L1343.5 1094.2 L1346.4 1095.1 L1349.1 1096.1 L1351.6 1097.2 L1353.9 1098.4 L1356 1099.7 L1357.8 1101.1 L1359.3 1102.5 L1360.7 1104.1 L1361.7 1105.6 L1362.4 1107.2 L1362.8 1108.9 L1363 1110.5 L1363 1195.5 L1362.8 1197.1 L1362.4 1198.8 L1361.7 1200.4 L1360.7 1201.9 L1359.3 1203.5 L1357.8 1204.9 L1356 1206.3 L1353.9 1207.6 L1351.6 1208.8 L1349.1 1209.9 L1346.4 1210.9 L1343.5 1211.8 L1340.5 1212.5 L1337.3 1213.2 L1334.1 1213.7 L1330.8 1214 L1327.4 1214.2 L1324 1214.3 L1320.6 1214.2 L1317.2 1214 L1313.9 1213.7 L1310.7 1213.2 L1307.5 1212.5 L1304.5 1211.8 L1301.6 1210.9 L1298.9 1209.9 L1296.4 1208.8 L1294.1 1207.6 L1292 1206.3 L1290.2 1204.9 L1288.7 1203.5 L1287.3 1201.9 L1286.3 1200.4 L1285.6 1198.8 L1285.2 1197.1 L1285 1195.5Z" fill="#fff" stroke-width="4.4"/>
<path d="M1363 1110.5 L1362.9 1112.1 L1362.4 1113.8 L1361.7 1115.4 L1360.6 1116.9 L1359.3 1118.4 L1357.8 1119.9 L1355.9 1121.3 L1353.9 1122.6 L1351.6 1123.8 L1349.1 1124.9 L1346.4 1125.9 L1343.5 1126.8 L1340.5 1127.5 L1337.3 1128.2 L1334.1 1128.7 L1330.8 1129 L1327.4 1129.2 L1324 1129.3 L1320.6 1129.2 L1317.2 1129 L1313.9 1128.7 L1310.7 1128.2 L1307.5 1127.5 L1304.5 1126.8 L1301.6 1125.9 L1298.9 1124.9 L1296.4 1123.8 L1294.1 1122.6 L1292.1 1121.3 L1290.2 1119.9 L1288.7 1118.4 L1287.4 1116.9 L1286.3 1115.4 L1285.6 1113.8 L1285.1 1112.1 L1285 1110.5 L1285.1 1108.9 L1285.6 1107.2 L1286.3 1105.6 L1287.4 1104.1 L1288.7 1102.6 L1290.2 1101.1 L1292.1 1099.7 L1294.1 1098.4 L1296.4 1097.2 L1298.9 1096.1 L1301.6 1095.1 L1304.5 1094.2 L1307.5 1093.5 L1310.7 1092.8 L1313.9 1092.3 L1317.2 1092 L1320.6 1091.8 L1324 1091.7 L1327.4 1091.8 L1330.8 1092 L1334.1 1092.3 L1337.3 1092.8 L1340.5 1093.5 L1343.5 1094.2 L1346.4 1095.1 L1349.1 1096.1 L1351.6 1097.2 L1353.9 1098.4 L1355.9 1099.7 L1357.8 1101.1 L1359.3 1102.6 L1360.6 1104.1 L1361.7 1105.6 L1362.4 1107.2 L1362.9 1108.9Z" fill="#fff" stroke-width="4.4"/>
<path d="M1361 1114 L1360.9 1115.4 L1360.4 1116.9 L1359.7 1118.3 L1358.8 1119.6 L1357.5 1121 L1356 1122.2 L1354.3 1123.5 L1352.3 1124.6 L1350.2 1125.7 L1347.8 1126.6 L1345.2 1127.5 L1342.5 1128.3 L1339.6 1129 L1336.7 1129.5 L1333.6 1129.9 L1330.4 1130.2 L1327.2 1130.4 L1324 1130.5 L1320.8 1130.4 L1317.6 1130.2 L1314.4 1129.9 L1311.3 1129.5 L1308.4 1129 L1305.5 1128.3 L1302.8 1127.5 L1300.2 1126.6 L1297.8 1125.7 L1295.7 1124.6 L1293.7 1123.5 L1292 1122.2 L1290.5 1121 L1289.2 1119.6 L1288.3 1118.3 L1287.6 1116.9 L1287.1 1115.4 L1287 1114 L1287.1 1112.6 L1287.6 1111.1 L1288.3 1109.7 L1289.2 1108.4 L1290.5 1107 L1292 1105.8 L1293.7 1104.5 L1295.7 1103.4 L1297.8 1102.3 L1300.2 1101.4 L1302.8 1100.5 L1305.5 1099.7 L1308.4 1099 L1311.3 1098.5 L1314.4 1098.1 L1317.6 1097.8 L1320.8 1097.6 L1324 1097.5 L1327.2 1097.6 L1330.4 1097.8 L1333.6 1098.1 L1336.7 1098.5 L1339.6 1099 L1342.5 1099.7 L1345.2 1100.5 L1347.8 1101.4 L1350.2 1102.3 L1352.3 1103.4 L1354.3 1104.5 L1356 1105.8 L1357.5 1107 L1358.8 1108.4 L1359.7 1109.7 L1360.4 1111.1 L1360.9 1112.6Z" fill="#fff" stroke-width="4.4"/>
<path d="M1298.4 1092.5 L1298.5 1091.3 L1298.8 1090.2 L1299.3 1089.1 L1299.9 1088 L1300.8 1086.9 L1301.8 1085.8 L1303 1084.9 L1304.4 1084 L1305.9 1083.1 L1307.5 1082.3 L1309.3 1081.6 L1311.2 1081 L1313.2 1080.5 L1315.2 1080 L1317.4 1079.7 L1319.5 1079.4 L1321.8 1079.2 L1324 1079.2 L1326.2 1079.2 L1328.5 1079.4 L1330.6 1079.7 L1332.8 1080 L1334.8 1080.5 L1336.8 1081 L1338.7 1081.6 L1340.5 1082.3 L1342.1 1083.1 L1343.6 1084 L1345 1084.9 L1346.2 1085.8 L1347.2 1086.9 L1348.1 1088 L1348.7 1089.1 L1349.2 1090.2 L1349.5 1091.3 L1349.6 1092.5 L1349.6 1104.8 L1349.5 1106 L1349.2 1107.1 L1348.7 1108.2 L1348.1 1109.3 L1347.2 1110.4 L1346.2 1111.5 L1345 1112.4 L1343.6 1113.3 L1342.1 1114.2 L1340.5 1115 L1338.7 1115.7 L1336.8 1116.3 L1334.8 1116.8 L1332.8 1117.3 L1330.6 1117.7 L1328.5 1117.9 L1326.2 1118 L1324 1118.1 L1321.8 1118 L1319.5 1117.9 L1317.4 1117.7 L1315.2 1117.3 L1313.2 1116.8 L1311.2 1116.3 L1309.3 1115.7 L1307.5 1115 L1305.9 1114.2 L1304.4 1113.3 L1303 1112.4 L1301.8 1111.5 L1300.8 1110.4 L1299.9 1109.3 L1299.3 1108.2 L1298.8 1107.1 L1298.5 1106 L1298.4 1104.8Z" fill="#fff" stroke-width="4.4"/>
<path d="M1349.6 1092.5 L1349.5 1093.7 L1349.2 1094.8 L1348.7 1095.9 L1348.1 1097 L1347.2 1098.1 L1346.2 1099.2 L1345 1100.1 L1343.6 1101 L1342.1 1101.9 L1340.5 1102.7 L1338.7 1103.4 L1336.8 1104 L1334.8 1104.6 L1332.8 1105 L1330.6 1105.3 L1328.4 1105.6 L1326.2 1105.7 L1324 1105.8 L1321.8 1105.7 L1319.6 1105.6 L1317.4 1105.3 L1315.2 1105 L1313.2 1104.6 L1311.2 1104 L1309.3 1103.4 L1307.5 1102.7 L1305.9 1101.9 L1304.4 1101 L1303 1100.1 L1301.8 1099.2 L1300.8 1098.1 L1299.9 1097 L1299.3 1095.9 L1298.8 1094.8 L1298.5 1093.7 L1298.4 1092.5 L1298.5 1091.3 L1298.8 1090.2 L1299.3 1089.1 L1299.9 1088 L1300.8 1086.9 L1301.8 1085.8 L1303 1084.9 L1304.4 1084 L1305.9 1083.1 L1307.5 1082.3 L1309.3 1081.6 L1311.2 1081 L1313.2 1080.4 L1315.2 1080 L1317.4 1079.7 L1319.6 1079.4 L1321.8 1079.3 L1324 1079.2 L1326.2 1079.3 L1328.4 1079.4 L1330.6 1079.7 L1332.8 1080 L1334.8 1080.4 L1336.8 1081 L1338.7 1081.6 L1340.5 1082.3 L1342.1 1083.1 L1343.6 1084 L1345 1084.9 L1346.2 1085.8 L1347.2 1086.9 L1348.1 1088 L1348.7 1089.1 L1349.2 1090.2 L1349.5 1091.3Z" fill="#fff" stroke-width="4.4"/>
<path d="M1347.5 1092.5 L1347.4 1093.5 L1347.1 1094.5 L1346.7 1095.5 L1346.1 1096.4 L1345.3 1097.4 L1344.4 1098.2 L1343.3 1099.1 L1342 1099.9 L1340.6 1100.6 L1339.1 1101.3 L1337.5 1101.9 L1335.8 1102.5 L1333.9 1102.9 L1332 1103.3 L1330.1 1103.6 L1328.1 1103.8 L1326 1104 L1324 1104 L1322 1104 L1319.9 1103.8 L1317.9 1103.6 L1316 1103.3 L1314.1 1102.9 L1312.2 1102.5 L1310.5 1101.9 L1308.9 1101.3 L1307.4 1100.6 L1306 1099.9 L1304.7 1099.1 L1303.6 1098.2 L1302.7 1097.4 L1301.9 1096.4 L1301.3 1095.5 L1300.9 1094.5 L1300.6 1093.5 L1300.5 1092.5 L1300.6 1091.5 L1300.9 1090.5 L1301.3 1089.5 L1301.9 1088.6 L1302.7 1087.6 L1303.6 1086.8 L1304.7 1085.9 L1306 1085.1 L1307.4 1084.4 L1308.9 1083.7 L1310.5 1083.1 L1312.2 1082.5 L1314.1 1082.1 L1316 1081.7 L1317.9 1081.4 L1319.9 1081.2 L1322 1081 L1324 1081 L1326 1081 L1328.1 1081.2 L1330.1 1081.4 L1332 1081.7 L1333.9 1082.1 L1335.8 1082.5 L1337.5 1083.1 L1339.1 1083.7 L1340.6 1084.4 L1342 1085.1 L1343.3 1085.9 L1344.4 1086.8 L1345.3 1087.6 L1346.1 1088.6 L1346.7 1089.5 L1347.1 1090.5 L1347.4 1091.5Z" fill="#fff" stroke-width="3.2"/>
<path d="M1361 1158 L1361.2 1156.4 L1361.6 1154.7 L1362.3 1153.1 L1363.3 1151.6 L1364.7 1150 L1366.2 1148.6 L1368 1147.2 L1370.1 1145.9 L1372.4 1144.7 L1374.9 1143.6 L1377.6 1142.6 L1380.5 1141.7 L1383.5 1141 L1386.7 1140.3 L1389.9 1139.8 L1393.2 1139.5 L1396.6 1139.3 L1400 1139.2 L1403.4 1139.3 L1406.8 1139.5 L1410.1 1139.8 L1413.3 1140.3 L1416.5 1141 L1419.5 1141.7 L1422.4 1142.6 L1425.1 1143.6 L1427.6 1144.7 L1429.9 1145.9 L1432 1147.2 L1433.8 1148.6 L1435.3 1150 L1436.7 1151.6 L1437.7 1153.1 L1438.4 1154.7 L1438.8 1156.4 L1439 1158 L1439 1243 L1438.8 1244.6 L1438.4 1246.3 L1437.7 1247.9 L1436.7 1249.4 L1435.3 1251 L1433.8 1252.4 L1432 1253.8 L1429.9 1255.1 L1427.6 1256.3 L1425.1 1257.4 L1422.4 1258.4 L1419.5 1259.3 L1416.5 1260 L1413.3 1260.7 L1410.1 1261.2 L1406.8 1261.5 L1403.4 1261.7 L1400 1261.8 L1396.6 1261.7 L1393.2 1261.5 L1389.9 1261.2 L1386.7 1260.7 L1383.5 1260 L1380.5 1259.3 L1377.6 1258.4 L1374.9 1257.4 L1372.4 1256.3 L1370.1 1255.1 L1368 1253.8 L1366.2 1252.4 L1364.7 1251 L1363.3 1249.4 L1362.3 1247.9 L1361.6 1246.3 L1361.2 1244.6 L1361 1243Z" fill="#fff" stroke-width="4.4"/>
<path d="M1439 1158 L1438.9 1159.6 L1438.4 1161.3 L1437.7 1162.9 L1436.6 1164.4 L1435.3 1165.9 L1433.8 1167.4 L1431.9 1168.8 L1429.9 1170.1 L1427.6 1171.3 L1425.1 1172.4 L1422.4 1173.4 L1419.5 1174.3 L1416.5 1175 L1413.3 1175.7 L1410.1 1176.2 L1406.8 1176.5 L1403.4 1176.7 L1400 1176.8 L1396.6 1176.7 L1393.2 1176.5 L1389.9 1176.2 L1386.7 1175.7 L1383.5 1175 L1380.5 1174.3 L1377.6 1173.4 L1374.9 1172.4 L1372.4 1171.3 L1370.1 1170.1 L1368.1 1168.8 L1366.2 1167.4 L1364.7 1165.9 L1363.4 1164.4 L1362.3 1162.9 L1361.6 1161.3 L1361.1 1159.6 L1361 1158 L1361.1 1156.4 L1361.6 1154.7 L1362.3 1153.1 L1363.4 1151.6 L1364.7 1150.1 L1366.2 1148.6 L1368.1 1147.2 L1370.1 1145.9 L1372.4 1144.7 L1374.9 1143.6 L1377.6 1142.6 L1380.5 1141.7 L1383.5 1141 L1386.7 1140.3 L1389.9 1139.8 L1393.2 1139.5 L1396.6 1139.3 L1400 1139.2 L1403.4 1139.3 L1406.8 1139.5 L1410.1 1139.8 L1413.3 1140.3 L1416.5 1141 L1419.5 1141.7 L1422.4 1142.6 L1425.1 1143.6 L1427.6 1144.7 L1429.9 1145.9 L1431.9 1147.2 L1433.8 1148.6 L1435.3 1150.1 L1436.6 1151.6 L1437.7 1153.1 L1438.4 1154.7 L1438.9 1156.4Z" fill="#fff" stroke-width="4.4"/>
<path d="M1437 1161.5 L1436.9 1162.9 L1436.4 1164.4 L1435.7 1165.8 L1434.8 1167.1 L1433.5 1168.5 L1432 1169.8 L1430.3 1171 L1428.3 1172.1 L1426.2 1173.2 L1423.8 1174.1 L1421.2 1175 L1418.5 1175.8 L1415.6 1176.5 L1412.7 1177 L1409.6 1177.4 L1406.4 1177.7 L1403.2 1177.9 L1400 1178 L1396.8 1177.9 L1393.6 1177.7 L1390.4 1177.4 L1387.3 1177 L1384.4 1176.5 L1381.5 1175.8 L1378.8 1175 L1376.2 1174.1 L1373.8 1173.2 L1371.7 1172.1 L1369.7 1171 L1368 1169.8 L1366.5 1168.5 L1365.2 1167.1 L1364.3 1165.8 L1363.6 1164.4 L1363.1 1162.9 L1363 1161.5 L1363.1 1160.1 L1363.6 1158.6 L1364.3 1157.2 L1365.2 1155.9 L1366.5 1154.5 L1368 1153.2 L1369.7 1152 L1371.7 1150.9 L1373.8 1149.8 L1376.2 1148.9 L1378.8 1148 L1381.5 1147.2 L1384.4 1146.5 L1387.3 1146 L1390.4 1145.6 L1393.6 1145.3 L1396.8 1145.1 L1400 1145 L1403.2 1145.1 L1406.4 1145.3 L1409.6 1145.6 L1412.7 1146 L1415.6 1146.5 L1418.5 1147.2 L1421.2 1148 L1423.8 1148.9 L1426.2 1149.8 L1428.3 1150.9 L1430.3 1152 L1432 1153.2 L1433.5 1154.5 L1434.8 1155.9 L1435.7 1157.2 L1436.4 1158.6 L1436.9 1160.1Z" fill="#fff" stroke-width="4.4"/>
<path d="M1374.4 1140 L1374.5 1138.8 L1374.8 1137.7 L1375.3 1136.6 L1375.9 1135.5 L1376.8 1134.4 L1377.8 1133.3 L1379 1132.4 L1380.4 1131.5 L1381.9 1130.6 L1383.5 1129.8 L1385.3 1129.1 L1387.2 1128.5 L1389.2 1128 L1391.2 1127.5 L1393.4 1127.2 L1395.5 1126.9 L1397.8 1126.8 L1400 1126.7 L1402.2 1126.8 L1404.5 1126.9 L1406.6 1127.2 L1408.8 1127.5 L1410.8 1128 L1412.8 1128.5 L1414.7 1129.1 L1416.5 1129.8 L1418.1 1130.6 L1419.6 1131.5 L1421 1132.4 L1422.2 1133.3 L1423.2 1134.4 L1424.1 1135.5 L1424.7 1136.6 L1425.2 1137.7 L1425.5 1138.8 L1425.6 1140 L1425.6 1152.3 L1425.5 1153.5 L1425.2 1154.6 L1424.7 1155.7 L1424.1 1156.8 L1423.2 1157.9 L1422.2 1159 L1421 1159.9 L1419.6 1160.8 L1418.1 1161.7 L1416.5 1162.5 L1414.7 1163.2 L1412.8 1163.8 L1410.8 1164.3 L1408.8 1164.8 L1406.6 1165.2 L1404.5 1165.4 L1402.2 1165.5 L1400 1165.6 L1397.8 1165.5 L1395.5 1165.4 L1393.4 1165.2 L1391.2 1164.8 L1389.2 1164.3 L1387.2 1163.8 L1385.3 1163.2 L1383.5 1162.5 L1381.9 1161.7 L1380.4 1160.8 L1379 1159.9 L1377.8 1159 L1376.8 1157.9 L1375.9 1156.8 L1375.3 1155.7 L1374.8 1154.6 L1374.5 1153.5 L1374.4 1152.3Z" fill="#fff" stroke-width="4.4"/>
<path d="M1425.6 1140 L1425.5 1141.2 L1425.2 1142.3 L1424.7 1143.4 L1424.1 1144.5 L1423.2 1145.6 L1422.2 1146.7 L1421 1147.6 L1419.6 1148.5 L1418.1 1149.4 L1416.5 1150.2 L1414.7 1150.9 L1412.8 1151.5 L1410.8 1152.1 L1408.8 1152.5 L1406.6 1152.8 L1404.4 1153.1 L1402.2 1153.2 L1400 1153.3 L1397.8 1153.2 L1395.6 1153.1 L1393.4 1152.8 L1391.2 1152.5 L1389.2 1152.1 L1387.2 1151.5 L1385.3 1150.9 L1383.5 1150.2 L1381.9 1149.4 L1380.4 1148.5 L1379 1147.6 L1377.8 1146.7 L1376.8 1145.6 L1375.9 1144.5 L1375.3 1143.4 L1374.8 1142.3 L1374.5 1141.2 L1374.4 1140 L1374.5 1138.8 L1374.8 1137.7 L1375.3 1136.6 L1375.9 1135.5 L1376.8 1134.4 L1377.8 1133.3 L1379 1132.4 L1380.4 1131.5 L1381.9 1130.6 L1383.5 1129.8 L1385.3 1129.1 L1387.2 1128.5 L1389.2 1127.9 L1391.2 1127.5 L1393.4 1127.2 L1395.6 1126.9 L1397.8 1126.8 L1400 1126.7 L1402.2 1126.8 L1404.4 1126.9 L1406.6 1127.2 L1408.8 1127.5 L1410.8 1127.9 L1412.8 1128.5 L1414.7 1129.1 L1416.5 1129.8 L1418.1 1130.6 L1419.6 1131.5 L1421 1132.4 L1422.2 1133.3 L1423.2 1134.4 L1424.1 1135.5 L1424.7 1136.6 L1425.2 1137.7 L1425.5 1138.8Z" fill="#fff" stroke-width="4.4"/>
<path d="M1423.5 1140 L1423.4 1141 L1423.1 1142 L1422.7 1143 L1422.1 1143.9 L1421.3 1144.9 L1420.4 1145.8 L1419.3 1146.6 L1418 1147.4 L1416.6 1148.1 L1415.1 1148.8 L1413.5 1149.4 L1411.8 1150 L1409.9 1150.4 L1408 1150.8 L1406.1 1151.1 L1404.1 1151.3 L1402 1151.5 L1400 1151.5 L1398 1151.5 L1395.9 1151.3 L1393.9 1151.1 L1392 1150.8 L1390.1 1150.4 L1388.2 1150 L1386.5 1149.4 L1384.9 1148.8 L1383.4 1148.1 L1382 1147.4 L1380.7 1146.6 L1379.6 1145.8 L1378.7 1144.9 L1377.9 1143.9 L1377.3 1143 L1376.9 1142 L1376.6 1141 L1376.5 1140 L1376.6 1139 L1376.9 1138 L1377.3 1137 L1377.9 1136.1 L1378.7 1135.1 L1379.6 1134.2 L1380.7 1133.4 L1382 1132.6 L1383.4 1131.9 L1384.9 1131.2 L1386.5 1130.6 L1388.2 1130 L1390.1 1129.6 L1392 1129.2 L1393.9 1128.9 L1395.9 1128.7 L1398 1128.5 L1400 1128.5 L1402 1128.5 L1404.1 1128.7 L1406.1 1128.9 L1408 1129.2 L1409.9 1129.6 L1411.8 1130 L1413.5 1130.6 L1415.1 1131.2 L1416.6 1131.9 L1418 1132.6 L1419.3 1133.4 L1420.4 1134.2 L1421.3 1135.1 L1422.1 1136.1 L1422.7 1137 L1423.1 1138 L1423.4 1139Z" fill="#fff" stroke-width="3.2"/>
<path d="M1442 1206.1 L1442.2 1204.5 L1442.6 1202.8 L1443.3 1201.2 L1444.3 1199.7 L1445.7 1198.2 L1447.2 1196.7 L1449 1195.3 L1451.1 1194 L1453.4 1192.8 L1455.9 1191.7 L1458.6 1190.7 L1461.5 1189.8 L1464.5 1189.1 L1467.7 1188.4 L1470.9 1187.9 L1474.2 1187.6 L1477.6 1187.4 L1481 1187.3 L1484.4 1187.4 L1487.8 1187.6 L1491.1 1187.9 L1494.3 1188.4 L1497.5 1189.1 L1500.5 1189.8 L1503.4 1190.7 L1506.1 1191.7 L1508.6 1192.8 L1510.9 1194 L1513 1195.3 L1514.8 1196.7 L1516.3 1198.2 L1517.7 1199.7 L1518.7 1201.2 L1519.4 1202.8 L1519.8 1204.5 L1520 1206.1 L1520 1291.1 L1519.8 1292.7 L1519.4 1294.4 L1518.7 1296 L1517.7 1297.5 L1516.3 1299 L1514.8 1300.5 L1513 1301.9 L1510.9 1303.2 L1508.6 1304.4 L1506.1 1305.5 L1503.4 1306.5 L1500.5 1307.4 L1497.5 1308.1 L1494.3 1308.8 L1491.1 1309.3 L1487.8 1309.6 L1484.4 1309.8 L1481 1309.9 L1477.6 1309.8 L1474.2 1309.6 L1470.9 1309.3 L1467.7 1308.8 L1464.5 1308.1 L1461.5 1307.4 L1458.6 1306.5 L1455.9 1305.5 L1453.4 1304.4 L1451.1 1303.2 L1449 1301.9 L1447.2 1300.5 L1445.7 1299 L1444.3 1297.5 L1443.3 1296 L1442.6 1294.4 L1442.2 1292.7 L1442 1291.1Z" fill="#fff" stroke-width="4.4"/>
<path d="M1520 1206.1 L1519.9 1207.7 L1519.4 1209.4 L1518.7 1211 L1517.6 1212.5 L1516.3 1214 L1514.8 1215.5 L1512.9 1216.9 L1510.9 1218.2 L1508.6 1219.4 L1506.1 1220.5 L1503.4 1221.5 L1500.5 1222.4 L1497.5 1223.1 L1494.3 1223.8 L1491.1 1224.3 L1487.8 1224.6 L1484.4 1224.8 L1481 1224.9 L1477.6 1224.8 L1474.2 1224.6 L1470.9 1224.3 L1467.7 1223.8 L1464.5 1223.1 L1461.5 1222.4 L1458.6 1221.5 L1455.9 1220.5 L1453.4 1219.4 L1451.1 1218.2 L1449.1 1216.9 L1447.2 1215.5 L1445.7 1214 L1444.4 1212.5 L1443.3 1211 L1442.6 1209.4 L1442.1 1207.7 L1442 1206.1 L1442.1 1204.5 L1442.6 1202.8 L1443.3 1201.2 L1444.4 1199.7 L1445.7 1198.2 L1447.2 1196.7 L1449.1 1195.3 L1451.1 1194 L1453.4 1192.8 L1455.9 1191.7 L1458.6 1190.7 L1461.5 1189.8 L1464.5 1189.1 L1467.7 1188.4 L1470.9 1187.9 L1474.2 1187.6 L1477.6 1187.4 L1481 1187.3 L1484.4 1187.4 L1487.8 1187.6 L1491.1 1187.9 L1494.3 1188.4 L1497.5 1189.1 L1500.5 1189.8 L1503.4 1190.7 L1506.1 1191.7 L1508.6 1192.8 L1510.9 1194 L1512.9 1195.3 L1514.8 1196.7 L1516.3 1198.2 L1517.6 1199.7 L1518.7 1201.2 L1519.4 1202.8 L1519.9 1204.5Z" fill="#fff" stroke-width="4.4"/>
<path d="M1518 1209.6 L1517.9 1211 L1517.4 1212.5 L1516.7 1213.9 L1515.8 1215.2 L1514.5 1216.6 L1513 1217.8 L1511.3 1219.1 L1509.3 1220.2 L1507.2 1221.3 L1504.8 1222.2 L1502.2 1223.1 L1499.5 1223.9 L1496.6 1224.6 L1493.7 1225.1 L1490.6 1225.5 L1487.4 1225.8 L1484.2 1226 L1481 1226.1 L1477.8 1226 L1474.6 1225.8 L1471.4 1225.5 L1468.3 1225.1 L1465.4 1224.6 L1462.5 1223.9 L1459.8 1223.1 L1457.2 1222.2 L1454.8 1221.3 L1452.7 1220.2 L1450.7 1219.1 L1449 1217.8 L1447.5 1216.6 L1446.2 1215.2 L1445.3 1213.9 L1444.6 1212.5 L1444.1 1211 L1444 1209.6 L1444.1 1208.2 L1444.6 1206.7 L1445.3 1205.3 L1446.2 1204 L1447.5 1202.6 L1449 1201.3 L1450.7 1200.1 L1452.7 1199 L1454.8 1197.9 L1457.2 1197 L1459.8 1196.1 L1462.5 1195.3 L1465.4 1194.6 L1468.3 1194.1 L1471.4 1193.7 L1474.6 1193.4 L1477.8 1193.2 L1481 1193.1 L1484.2 1193.2 L1487.4 1193.4 L1490.6 1193.7 L1493.7 1194.1 L1496.6 1194.6 L1499.5 1195.3 L1502.2 1196.1 L1504.8 1197 L1507.2 1197.9 L1509.3 1199 L1511.3 1200.1 L1513 1201.3 L1514.5 1202.6 L1515.8 1204 L1516.7 1205.3 L1517.4 1206.7 L1517.9 1208.2Z" fill="#fff" stroke-width="4.4"/>
<path d="M1455.4 1188.1 L1455.5 1186.9 L1455.8 1185.8 L1456.3 1184.7 L1456.9 1183.5 L1457.8 1182.5 L1458.8 1181.5 L1460 1180.5 L1461.4 1179.5 L1462.9 1178.7 L1464.5 1177.9 L1466.3 1177.2 L1468.2 1176.6 L1470.2 1176 L1472.2 1175.6 L1474.4 1175.2 L1476.5 1175 L1478.8 1174.8 L1481 1174.8 L1483.2 1174.8 L1485.5 1175 L1487.6 1175.2 L1489.8 1175.6 L1491.8 1176 L1493.8 1176.6 L1495.7 1177.2 L1497.5 1177.9 L1499.1 1178.7 L1500.6 1179.5 L1502 1180.5 L1503.2 1181.5 L1504.2 1182.5 L1505.1 1183.5 L1505.7 1184.7 L1506.2 1185.8 L1506.5 1186.9 L1506.6 1188.1 L1506.6 1200.4 L1506.5 1201.6 L1506.2 1202.7 L1505.7 1203.8 L1505.1 1205 L1504.2 1206 L1503.2 1207 L1502 1208 L1500.6 1209 L1499.1 1209.8 L1497.5 1210.6 L1495.7 1211.3 L1493.8 1211.9 L1491.8 1212.5 L1489.8 1212.9 L1487.6 1213.2 L1485.5 1213.5 L1483.2 1213.7 L1481 1213.7 L1478.8 1213.7 L1476.5 1213.5 L1474.4 1213.2 L1472.2 1212.9 L1470.2 1212.5 L1468.2 1211.9 L1466.3 1211.3 L1464.5 1210.6 L1462.9 1209.8 L1461.4 1209 L1460 1208 L1458.8 1207 L1457.8 1206 L1456.9 1205 L1456.3 1203.8 L1455.8 1202.7 L1455.5 1201.6 L1455.4 1200.4Z" fill="#fff" stroke-width="4.4"/>
<path d="M1506.6 1188.1 L1506.5 1189.3 L1506.2 1190.4 L1505.7 1191.5 L1505.1 1192.6 L1504.2 1193.7 L1503.2 1194.8 L1502 1195.7 L1500.6 1196.6 L1499.1 1197.5 L1497.5 1198.3 L1495.7 1199 L1493.8 1199.6 L1491.8 1200.2 L1489.8 1200.6 L1487.6 1200.9 L1485.4 1201.2 L1483.2 1201.3 L1481 1201.4 L1478.8 1201.3 L1476.6 1201.2 L1474.4 1200.9 L1472.2 1200.6 L1470.2 1200.2 L1468.2 1199.6 L1466.3 1199 L1464.5 1198.3 L1462.9 1197.5 L1461.4 1196.6 L1460 1195.7 L1458.8 1194.8 L1457.8 1193.7 L1456.9 1192.6 L1456.3 1191.5 L1455.8 1190.4 L1455.5 1189.3 L1455.4 1188.1 L1455.5 1186.9 L1455.8 1185.8 L1456.3 1184.7 L1456.9 1183.6 L1457.8 1182.5 L1458.8 1181.4 L1460 1180.5 L1461.4 1179.6 L1462.9 1178.7 L1464.5 1177.9 L1466.3 1177.2 L1468.2 1176.6 L1470.2 1176 L1472.2 1175.6 L1474.4 1175.3 L1476.6 1175 L1478.8 1174.9 L1481 1174.8 L1483.2 1174.9 L1485.4 1175 L1487.6 1175.3 L1489.8 1175.6 L1491.8 1176 L1493.8 1176.6 L1495.7 1177.2 L1497.5 1177.9 L1499.1 1178.7 L1500.6 1179.6 L1502 1180.5 L1503.2 1181.4 L1504.2 1182.5 L1505.1 1183.6 L1505.7 1184.7 L1506.2 1185.8 L1506.5 1186.9Z" fill="#fff" stroke-width="4.4"/>
<path d="M1504.5 1188.1 L1504.4 1189.1 L1504.1 1190.1 L1503.7 1191.1 L1503.1 1192 L1502.3 1193 L1501.4 1193.8 L1500.3 1194.7 L1499 1195.5 L1497.6 1196.2 L1496.1 1196.9 L1494.5 1197.5 L1492.8 1198.1 L1490.9 1198.5 L1489 1198.9 L1487.1 1199.2 L1485.1 1199.4 L1483 1199.6 L1481 1199.6 L1479 1199.6 L1476.9 1199.4 L1474.9 1199.2 L1473 1198.9 L1471.1 1198.5 L1469.2 1198.1 L1467.5 1197.5 L1465.9 1196.9 L1464.4 1196.2 L1463 1195.5 L1461.7 1194.7 L1460.6 1193.8 L1459.7 1193 L1458.9 1192 L1458.3 1191.1 L1457.9 1190.1 L1457.6 1189.1 L1457.5 1188.1 L1457.6 1187.1 L1457.9 1186.1 L1458.3 1185.1 L1458.9 1184.2 L1459.7 1183.2 L1460.6 1182.3 L1461.7 1181.5 L1463 1180.7 L1464.4 1180 L1465.9 1179.3 L1467.5 1178.7 L1469.2 1178.1 L1471.1 1177.7 L1473 1177.3 L1474.9 1177 L1476.9 1176.8 L1479 1176.6 L1481 1176.6 L1483 1176.6 L1485.1 1176.8 L1487.1 1177 L1489 1177.3 L1490.9 1177.7 L1492.8 1178.1 L1494.5 1178.7 L1496.1 1179.3 L1497.6 1180 L1499 1180.7 L1500.3 1181.5 L1501.4 1182.3 L1502.3 1183.2 L1503.1 1184.2 L1503.7 1185.1 L1504.1 1186.1 L1504.4 1187.1Z" fill="#fff" stroke-width="3.2"/>
<path d="M1524 1255.5 L1524.2 1253.9 L1524.6 1252.2 L1525.3 1250.6 L1526.3 1249.1 L1527.7 1247.5 L1529.2 1246.1 L1531 1244.7 L1533.1 1243.4 L1535.4 1242.2 L1537.9 1241.1 L1540.6 1240.1 L1543.5 1239.2 L1546.5 1238.5 L1549.7 1237.8 L1552.9 1237.3 L1556.2 1237 L1559.6 1236.8 L1563 1236.7 L1566.4 1236.8 L1569.8 1237 L1573.1 1237.3 L1576.3 1237.8 L1579.5 1238.5 L1582.5 1239.2 L1585.4 1240.1 L1588.1 1241.1 L1590.6 1242.2 L1592.9 1243.4 L1595 1244.7 L1596.8 1246.1 L1598.3 1247.5 L1599.7 1249.1 L1600.7 1250.6 L1601.4 1252.2 L1601.8 1253.9 L1602 1255.5 L1602 1340.5 L1601.8 1342.1 L1601.4 1343.8 L1600.7 1345.4 L1599.7 1346.9 L1598.3 1348.5 L1596.8 1349.9 L1595 1351.3 L1592.9 1352.6 L1590.6 1353.8 L1588.1 1354.9 L1585.4 1355.9 L1582.5 1356.8 L1579.5 1357.5 L1576.3 1358.2 L1573.1 1358.7 L1569.8 1359 L1566.4 1359.2 L1563 1359.3 L1559.6 1359.2 L1556.2 1359 L1552.9 1358.7 L1549.7 1358.2 L1546.5 1357.5 L1543.5 1356.8 L1540.6 1355.9 L1537.9 1354.9 L1535.4 1353.8 L1533.1 1352.6 L1531 1351.3 L1529.2 1349.9 L1527.7 1348.5 L1526.3 1346.9 L1525.3 1345.4 L1524.6 1343.8 L1524.2 1342.1 L1524 1340.5Z" fill="#fff" stroke-width="4.4"/>
<path d="M1602 1255.5 L1601.9 1257.1 L1601.4 1258.8 L1600.7 1260.4 L1599.6 1261.9 L1598.3 1263.4 L1596.8 1264.9 L1594.9 1266.3 L1592.9 1267.6 L1590.6 1268.8 L1588.1 1269.9 L1585.4 1270.9 L1582.5 1271.8 L1579.5 1272.5 L1576.3 1273.2 L1573.1 1273.7 L1569.8 1274 L1566.4 1274.2 L1563 1274.3 L1559.6 1274.2 L1556.2 1274 L1552.9 1273.7 L1549.7 1273.2 L1546.5 1272.5 L1543.5 1271.8 L1540.6 1270.9 L1537.9 1269.9 L1535.4 1268.8 L1533.1 1267.6 L1531.1 1266.3 L1529.2 1264.9 L1527.7 1263.4 L1526.4 1261.9 L1525.3 1260.4 L1524.6 1258.8 L1524.1 1257.1 L1524 1255.5 L1524.1 1253.9 L1524.6 1252.2 L1525.3 1250.6 L1526.4 1249.1 L1527.7 1247.6 L1529.2 1246.1 L1531.1 1244.7 L1533.1 1243.4 L1535.4 1242.2 L1537.9 1241.1 L1540.6 1240.1 L1543.5 1239.2 L1546.5 1238.5 L1549.7 1237.8 L1552.9 1237.3 L1556.2 1237 L1559.6 1236.8 L1563 1236.7 L1566.4 1236.8 L1569.8 1237 L1573.1 1237.3 L1576.3 1237.8 L1579.5 1238.5 L1582.5 1239.2 L1585.4 1240.1 L1588.1 1241.1 L1590.6 1242.2 L1592.9 1243.4 L1594.9 1244.7 L1596.8 1246.1 L1598.3 1247.6 L1599.6 1249.1 L1600.7 1250.6 L1601.4 1252.2 L1601.9 1253.9Z" fill="#fff" stroke-width="4.4"/>
<path d="M1600 1259 L1599.9 1260.4 L1599.4 1261.9 L1598.7 1263.3 L1597.8 1264.6 L1596.5 1266 L1595 1267.2 L1593.3 1268.5 L1591.3 1269.6 L1589.2 1270.7 L1586.8 1271.6 L1584.2 1272.5 L1581.5 1273.3 L1578.6 1274 L1575.7 1274.5 L1572.6 1274.9 L1569.4 1275.2 L1566.2 1275.4 L1563 1275.5 L1559.8 1275.4 L1556.6 1275.2 L1553.4 1274.9 L1550.3 1274.5 L1547.4 1274 L1544.5 1273.3 L1541.8 1272.5 L1539.2 1271.6 L1536.8 1270.7 L1534.7 1269.6 L1532.7 1268.5 L1531 1267.2 L1529.5 1266 L1528.2 1264.6 L1527.3 1263.3 L1526.6 1261.9 L1526.1 1260.4 L1526 1259 L1526.1 1257.6 L1526.6 1256.1 L1527.3 1254.7 L1528.2 1253.4 L1529.5 1252 L1531 1250.8 L1532.7 1249.5 L1534.7 1248.4 L1536.8 1247.3 L1539.2 1246.4 L1541.8 1245.5 L1544.5 1244.7 L1547.4 1244 L1550.3 1243.5 L1553.4 1243.1 L1556.6 1242.8 L1559.8 1242.6 L1563 1242.5 L1566.2 1242.6 L1569.4 1242.8 L1572.6 1243.1 L1575.7 1243.5 L1578.6 1244 L1581.5 1244.7 L1584.2 1245.5 L1586.8 1246.4 L1589.2 1247.3 L1591.3 1248.4 L1593.3 1249.5 L1595 1250.8 L1596.5 1252 L1597.8 1253.4 L1598.7 1254.7 L1599.4 1256.1 L1599.9 1257.6Z" fill="#fff" stroke-width="4.4"/>
<path d="M1537.4 1237.5 L1537.5 1236.3 L1537.8 1235.2 L1538.3 1234.1 L1538.9 1233 L1539.8 1231.9 L1540.8 1230.8 L1542 1229.9 L1543.4 1229 L1544.9 1228.1 L1546.5 1227.3 L1548.3 1226.6 L1550.2 1226 L1552.2 1225.5 L1554.2 1225 L1556.4 1224.7 L1558.5 1224.4 L1560.8 1224.2 L1563 1224.2 L1565.2 1224.2 L1567.5 1224.4 L1569.6 1224.7 L1571.8 1225 L1573.8 1225.5 L1575.8 1226 L1577.7 1226.6 L1579.5 1227.3 L1581.1 1228.1 L1582.6 1229 L1584 1229.9 L1585.2 1230.8 L1586.2 1231.9 L1587.1 1233 L1587.7 1234.1 L1588.2 1235.2 L1588.5 1236.3 L1588.6 1237.5 L1588.6 1249.8 L1588.5 1251 L1588.2 1252.1 L1587.7 1253.2 L1587.1 1254.3 L1586.2 1255.4 L1585.2 1256.5 L1584 1257.4 L1582.6 1258.3 L1581.1 1259.2 L1579.5 1260 L1577.7 1260.7 L1575.8 1261.3 L1573.8 1261.8 L1571.8 1262.3 L1569.6 1262.7 L1567.5 1262.9 L1565.2 1263 L1563 1263.1 L1560.8 1263 L1558.5 1262.9 L1556.4 1262.7 L1554.2 1262.3 L1552.2 1261.8 L1550.2 1261.3 L1548.3 1260.7 L1546.5 1260 L1544.9 1259.2 L1543.4 1258.3 L1542 1257.4 L1540.8 1256.5 L1539.8 1255.4 L1538.9 1254.3 L1538.3 1253.2 L1537.8 1252.1 L1537.5 1251 L1537.4 1249.8Z" fill="#fff" stroke-width="4.4"/>
<path d="M1588.6 1237.5 L1588.5 1238.7 L1588.2 1239.8 L1587.7 1240.9 L1587.1 1242 L1586.2 1243.1 L1585.2 1244.2 L1584 1245.1 L1582.6 1246 L1581.1 1246.9 L1579.5 1247.7 L1577.7 1248.4 L1575.8 1249 L1573.8 1249.6 L1571.8 1250 L1569.6 1250.3 L1567.4 1250.6 L1565.2 1250.7 L1563 1250.8 L1560.8 1250.7 L1558.6 1250.6 L1556.4 1250.3 L1554.2 1250 L1552.2 1249.6 L1550.2 1249 L1548.3 1248.4 L1546.5 1247.7 L1544.9 1246.9 L1543.4 1246 L1542 1245.1 L1540.8 1244.2 L1539.8 1243.1 L1538.9 1242 L1538.3 1240.9 L1537.8 1239.8 L1537.5 1238.7 L1537.4 1237.5 L1537.5 1236.3 L1537.8 1235.2 L1538.3 1234.1 L1538.9 1233 L1539.8 1231.9 L1540.8 1230.8 L1542 1229.9 L1543.4 1229 L1544.9 1228.1 L1546.5 1227.3 L1548.3 1226.6 L1550.2 1226 L1552.2 1225.4 L1554.2 1225 L1556.4 1224.7 L1558.6 1224.4 L1560.8 1224.3 L1563 1224.2 L1565.2 1224.3 L1567.4 1224.4 L1569.6 1224.7 L1571.8 1225 L1573.8 1225.4 L1575.8 1226 L1577.7 1226.6 L1579.5 1227.3 L1581.1 1228.1 L1582.6 1229 L1584 1229.9 L1585.2 1230.8 L1586.2 1231.9 L1587.1 1233 L1587.7 1234.1 L1588.2 1235.2 L1588.5 1236.3Z" fill="#fff" stroke-width="4.4"/>
<path d="M1586.5 1237.5 L1586.4 1238.5 L1586.1 1239.5 L1585.7 1240.5 L1585.1 1241.4 L1584.3 1242.4 L1583.4 1243.2 L1582.3 1244.1 L1581 1244.9 L1579.6 1245.6 L1578.1 1246.3 L1576.5 1246.9 L1574.8 1247.5 L1572.9 1247.9 L1571 1248.3 L1569.1 1248.6 L1567.1 1248.8 L1565 1249 L1563 1249 L1561 1249 L1558.9 1248.8 L1556.9 1248.6 L1555 1248.3 L1553.1 1247.9 L1551.2 1247.5 L1549.5 1246.9 L1547.9 1246.3 L1546.4 1245.6 L1545 1244.9 L1543.7 1244.1 L1542.6 1243.2 L1541.7 1242.4 L1540.9 1241.4 L1540.3 1240.5 L1539.9 1239.5 L1539.6 1238.5 L1539.5 1237.5 L1539.6 1236.5 L1539.9 1235.5 L1540.3 1234.5 L1540.9 1233.6 L1541.7 1232.6 L1542.6 1231.8 L1543.7 1230.9 L1545 1230.1 L1546.4 1229.4 L1547.9 1228.7 L1549.5 1228.1 L1551.2 1227.5 L1553.1 1227.1 L1555 1226.7 L1556.9 1226.4 L1558.9 1226.2 L1561 1226 L1563 1226 L1565 1226 L1567.1 1226.2 L1569.1 1226.4 L1571 1226.7 L1572.9 1227.1 L1574.8 1227.5 L1576.5 1228.1 L1578.1 1228.7 L1579.6 1229.4 L1581 1230.1 L1582.3 1230.9 L1583.4 1231.8 L1584.3 1232.6 L1585.1 1233.6 L1585.7 1234.5 L1586.1 1235.5 L1586.4 1236.5Z" fill="#fff" stroke-width="3.2"/>
<path d="M1266 1269.9 L1266.1 1267.4 L1266.4 1265 L1266.8 1262.9 L1267.5 1260.8 L1268.3 1259 L1269.3 1257.3 L1270.5 1255.9 L1271.8 1254.7 L1273.3 1253.7 L1279.3 1250.1 L1280.9 1249.3 L1282.7 1248.8 L1284.5 1248.5 L1286.4 1248.5 L1288.5 1248.7 L1290.5 1249.2 L1292.7 1249.9 L1294.8 1250.8 L1297 1252 L1299.2 1253.4 L1301.3 1255 L1303.5 1256.8 L1305.5 1258.8 L1307.6 1260.9 L1309.5 1263.2 L1311.3 1265.7 L1313.1 1268.2 L1314.7 1270.9 L1316.2 1273.6 L1317.5 1276.4 L1318.7 1279.2 L1319.7 1282.1 L1320.5 1284.9 L1321.2 1287.7 L1321.6 1290.4 L1321.9 1293.1 L1322 1295.7 L1321.9 1298.2 L1321.6 1300.5 L1321.2 1302.7 L1320.5 1304.7 L1319.7 1306.6 L1318.7 1308.2 L1317.5 1309.7 L1316.2 1310.9 L1314.7 1311.9 L1308.7 1315.5 L1307 1316.2 L1305.3 1316.8 L1303.5 1317 L1301.5 1317.1 L1299.5 1316.8 L1297.5 1316.4 L1295.3 1315.7 L1293.2 1314.7 L1291 1313.6 L1288.8 1312.2 L1286.6 1310.6 L1284.5 1308.8 L1282.4 1306.8 L1280.4 1304.6 L1278.5 1302.3 L1276.6 1299.9 L1274.9 1297.3 L1273.3 1294.7 L1271.8 1292 L1270.5 1289.2 L1269.3 1286.3 L1268.3 1283.5 L1267.5 1280.7 L1266.8 1277.9 L1266.4 1275.1 L1266.1 1272.5Z" fill="#fff" stroke-width="3.6"/>
<path d="M1316 1299.3 L1315.9 1301.7 L1315.6 1304.1 L1315.1 1306.3 L1314.5 1308.3 L1313.6 1310.2 L1312.6 1311.8 L1311.5 1313.2 L1310.1 1314.5 L1308.7 1315.5 L1307 1316.2 L1305.3 1316.8 L1303.5 1317 L1301.5 1317.1 L1299.5 1316.8 L1297.4 1316.4 L1295.3 1315.7 L1293.2 1314.7 L1291 1313.6 L1288.8 1312.2 L1286.6 1310.6 L1284.5 1308.8 L1282.4 1306.8 L1280.4 1304.6 L1278.5 1302.3 L1276.6 1299.9 L1274.9 1297.3 L1273.3 1294.7 L1271.8 1291.9 L1270.5 1289.2 L1269.3 1286.3 L1268.3 1283.5 L1267.5 1280.7 L1266.8 1277.9 L1266.4 1275.1 L1266.1 1272.5 L1266 1269.9 L1266.1 1267.4 L1266.4 1265.1 L1266.8 1262.9 L1267.5 1260.8 L1268.3 1259 L1269.3 1257.3 L1270.5 1255.9 L1271.8 1254.7 L1273.3 1253.7 L1274.9 1252.9 L1276.6 1252.4 L1278.5 1252.1 L1280.4 1252.1 L1282.4 1252.3 L1284.5 1252.8 L1286.6 1253.5 L1288.8 1254.4 L1291 1255.6 L1293.2 1257 L1295.3 1258.6 L1297.4 1260.4 L1299.5 1262.3 L1301.5 1264.5 L1303.5 1266.8 L1305.3 1269.2 L1307 1271.8 L1308.7 1274.5 L1310.1 1277.2 L1311.5 1280 L1312.6 1282.8 L1313.6 1285.6 L1314.5 1288.5 L1315.1 1291.3 L1315.6 1294 L1315.9 1296.7Z" fill="#fff" stroke-width="3.6"/>
<path d="M1312.5 1297.2 L1312.4 1299.4 L1312.2 1301.4 L1311.8 1303.3 L1311.2 1305 L1310.5 1306.6 L1309.6 1308 L1308.6 1309.3 L1307.5 1310.3 L1306.2 1311.2 L1304.8 1311.9 L1303.3 1312.3 L1301.8 1312.6 L1300.1 1312.6 L1298.4 1312.4 L1296.6 1312 L1294.7 1311.4 L1292.9 1310.6 L1291 1309.6 L1289.1 1308.4 L1287.2 1307 L1285.4 1305.4 L1283.6 1303.7 L1281.9 1301.9 L1280.2 1299.9 L1278.6 1297.8 L1277.1 1295.6 L1275.7 1293.3 L1274.5 1290.9 L1273.3 1288.5 L1272.3 1286.1 L1271.4 1283.6 L1270.7 1281.2 L1270.2 1278.8 L1269.8 1276.4 L1269.5 1274.1 L1269.4 1271.9 L1269.5 1269.8 L1269.8 1267.7 L1270.2 1265.9 L1270.7 1264.1 L1271.4 1262.5 L1272.3 1261.1 L1273.3 1259.8 L1274.5 1258.8 L1275.7 1257.9 L1277.1 1257.3 L1278.6 1256.8 L1280.2 1256.6 L1281.9 1256.6 L1283.6 1256.7 L1285.4 1257.1 L1287.2 1257.7 L1289.1 1258.6 L1291 1259.6 L1292.9 1260.8 L1294.7 1262.2 L1296.6 1263.7 L1298.4 1265.4 L1300.1 1267.3 L1301.8 1269.3 L1303.3 1271.4 L1304.8 1273.6 L1306.2 1275.9 L1307.5 1278.2 L1308.6 1280.6 L1309.6 1283 L1310.5 1285.5 L1311.2 1287.9 L1311.8 1290.3 L1312.2 1292.7 L1312.4 1295Z" fill="#fff" stroke-width="3"/>
<path d="M1263 1272.3 L1275.1 1265.2 L1290.5 1263.3 L1306.4 1282.7 L1306.9 1304 L1294.8 1311.1 L1279.4 1313 L1263.5 1293.5Z" fill="#fff" stroke-width="3.4"/>
<path d="M1294.8 1311.1 L1279.4 1313 L1263.5 1293.5 L1263.1 1272.3 L1278.5 1270.5 L1294.4 1289.9Z" fill="#fff" stroke-width="3.4"/>
<path d="M1278.5 1270.5 L1290.6 1263.3" fill="none" stroke-width="3.4"/>
<path d="M1294.4 1289.9 L1306.4 1282.7" fill="none" stroke-width="3.4"/>
<path d="M1291.9 1299.3 L1291.8 1300.6 L1291.7 1301.8 L1291.4 1302.9 L1291.1 1304 L1290.7 1304.9 L1290.1 1305.8 L1289.5 1306.5 L1288.8 1307.2 L1288.1 1307.7 L1287.3 1308.1 L1286.4 1308.4 L1285.4 1308.5 L1284.4 1308.5 L1283.4 1308.4 L1282.3 1308.2 L1281.2 1307.8 L1280.1 1307.3 L1278.9 1306.7 L1277.8 1306 L1276.7 1305.2 L1275.6 1304.2 L1274.5 1303.2 L1273.5 1302.1 L1272.5 1300.9 L1271.5 1299.6 L1270.6 1298.3 L1269.8 1296.9 L1269 1295.5 L1268.3 1294.1 L1267.7 1292.6 L1267.2 1291.2 L1266.8 1289.7 L1266.5 1288.2 L1266.2 1286.8 L1266.1 1285.4 L1266 1284.1 L1266.1 1282.8 L1266.2 1281.6 L1266.5 1280.5 L1266.8 1279.4 L1267.2 1278.5 L1267.7 1277.6 L1268.3 1276.9 L1269 1276.2 L1269.8 1275.7 L1270.6 1275.3 L1271.5 1275.1 L1272.5 1274.9 L1273.5 1274.9 L1274.5 1275 L1275.6 1275.3 L1276.7 1275.6 L1277.8 1276.1 L1278.9 1276.7 L1280.1 1277.4 L1281.2 1278.3 L1282.3 1279.2 L1283.4 1280.2 L1284.4 1281.3 L1285.4 1282.5 L1286.4 1283.8 L1287.3 1285.1 L1288.1 1286.5 L1288.8 1287.9 L1289.5 1289.3 L1290.1 1290.8 L1290.7 1292.3 L1291.1 1293.7 L1291.4 1295.2 L1291.7 1296.6 L1291.8 1298Z" fill="#fff" stroke-width="2.6"/>
<path d="M1262.2 1283.8 L1269.1 1279.7 L1278.7 1278.6 L1288.5 1290.6 L1288.8 1303.7 L1281.9 1307.8 L1272.3 1308.9 L1262.5 1296.9Z" fill="#fff" stroke-width="3.2"/>
<path d="M1281.9 1307.8 L1272.3 1308.9 L1262.5 1296.9 L1262.2 1283.8 L1271.8 1282.6 L1281.6 1294.7Z" fill="#fff" stroke-width="3.2"/>
<path d="M1271.8 1282.6 L1278.7 1278.6" fill="none" stroke-width="3.2"/>
<path d="M1281.6 1294.7 L1288.5 1290.6" fill="none" stroke-width="3.2"/>
<path d="M1243.7 1305.5 L1243.7 1304.9 L1243.8 1304.3 L1243.9 1303.8 L1244 1303.3 L1244.2 1302.9 L1244.5 1302.5 L1244.8 1302.1 L1245.1 1301.8 L1245.4 1301.6 L1267.8 1288.3 L1268.2 1288.2 L1268.6 1288 L1269 1288 L1269.5 1288 L1270 1288 L1270.5 1288.1 L1271 1288.3 L1271.5 1288.5 L1272.1 1288.8 L1272.6 1289.1 L1273.1 1289.5 L1273.6 1290 L1274.1 1290.4 L1274.6 1291 L1275.1 1291.5 L1275.5 1292.1 L1275.9 1292.7 L1276.3 1293.3 L1276.7 1294 L1277 1294.7 L1277.3 1295.4 L1277.5 1296 L1277.7 1296.7 L1277.9 1297.4 L1278 1298.1 L1278.1 1298.7 L1278.1 1299.3 L1278.1 1299.9 L1278 1300.5 L1277.9 1301 L1277.7 1301.5 L1277.5 1302 L1277.3 1302.4 L1277 1302.7 L1276.7 1303 L1276.3 1303.2 L1254 1316.5 L1253.6 1316.7 L1253.2 1316.8 L1252.7 1316.9 L1252.2 1316.9 L1251.8 1316.8 L1251.3 1316.7 L1250.8 1316.6 L1250.2 1316.3 L1249.7 1316 L1249.2 1315.7 L1248.7 1315.3 L1248.1 1314.9 L1247.6 1314.4 L1247.2 1313.9 L1246.7 1313.3 L1246.2 1312.8 L1245.8 1312.1 L1245.4 1311.5 L1245.1 1310.8 L1244.8 1310.2 L1244.5 1309.5 L1244.2 1308.8 L1244 1308.1 L1243.9 1307.4 L1243.8 1306.8 L1243.7 1306.1Z" fill="#fff" stroke-width="3.2"/>
<path d="M1255.7 1312.6 L1255.7 1313.2 L1255.6 1313.8 L1255.5 1314.3 L1255.4 1314.8 L1255.2 1315.2 L1254.9 1315.6 L1254.6 1316 L1254.3 1316.3 L1254 1316.5 L1253.6 1316.7 L1253.2 1316.8 L1252.7 1316.9 L1252.3 1316.9 L1251.8 1316.8 L1251.3 1316.7 L1250.7 1316.6 L1250.2 1316.3 L1249.7 1316 L1249.2 1315.7 L1248.7 1315.3 L1248.1 1314.9 L1247.6 1314.4 L1247.1 1313.9 L1246.7 1313.3 L1246.2 1312.7 L1245.8 1312.1 L1245.4 1311.5 L1245.1 1310.8 L1244.8 1310.2 L1244.5 1309.5 L1244.2 1308.8 L1244 1308.1 L1243.9 1307.4 L1243.8 1306.8 L1243.7 1306.1 L1243.7 1305.5 L1243.7 1304.9 L1243.8 1304.3 L1243.9 1303.8 L1244 1303.3 L1244.2 1302.9 L1244.5 1302.5 L1244.8 1302.1 L1245.1 1301.8 L1245.4 1301.6 L1245.8 1301.4 L1246.2 1301.3 L1246.7 1301.2 L1247.1 1301.2 L1247.6 1301.3 L1248.1 1301.4 L1248.7 1301.5 L1249.2 1301.8 L1249.7 1302 L1250.2 1302.4 L1250.7 1302.8 L1251.3 1303.2 L1251.8 1303.7 L1252.3 1304.2 L1252.7 1304.8 L1253.2 1305.4 L1253.6 1306 L1254 1306.6 L1254.3 1307.3 L1254.6 1307.9 L1254.9 1308.6 L1255.2 1309.3 L1255.4 1310 L1255.5 1310.7 L1255.6 1311.3 L1255.7 1312Z" fill="#fff" stroke-width="3.2"/>
<path d="M1231.5 1299.3 L1238.3 1295.2 L1249.4 1293.9 L1260.7 1307.7 L1261 1322.9 L1254.2 1327 L1243.1 1328.3 L1231.8 1314.4Z" fill="#fff" stroke-width="3.4"/>
<path d="M1254.2 1327 L1243.1 1328.3 L1231.8 1314.4 L1231.5 1299.3 L1242.5 1298 L1253.9 1311.8Z" fill="#fff" stroke-width="3.4"/>
<path d="M1242.5 1298 L1249.4 1293.9" fill="none" stroke-width="3.4"/>
<path d="M1253.9 1311.8 L1260.7 1307.7" fill="none" stroke-width="3.4"/>
<path d="M1252.3 1318.7 L1252.3 1319.6 L1252.2 1320.5 L1252 1321.4 L1251.7 1322.1 L1251.4 1322.8 L1251 1323.5 L1250.6 1324 L1250.1 1324.5 L1249.5 1324.9 L1248.9 1325.1 L1248.3 1325.3 L1247.6 1325.4 L1246.8 1325.5 L1246.1 1325.4 L1245.3 1325.2 L1244.5 1324.9 L1243.6 1324.6 L1242.8 1324.1 L1242 1323.6 L1241.2 1323 L1240.4 1322.3 L1239.6 1321.6 L1238.8 1320.7 L1238.1 1319.9 L1237.4 1318.9 L1236.7 1318 L1236.1 1317 L1235.6 1315.9 L1235.1 1314.9 L1234.6 1313.8 L1234.2 1312.7 L1233.9 1311.7 L1233.7 1310.6 L1233.5 1309.5 L1233.4 1308.5 L1233.3 1307.6 L1233.4 1306.6 L1233.5 1305.7 L1233.7 1304.9 L1233.9 1304.1 L1234.2 1303.4 L1234.6 1302.8 L1235.1 1302.3 L1235.6 1301.8 L1236.1 1301.4 L1236.7 1301.1 L1237.4 1300.9 L1238.1 1300.8 L1238.8 1300.8 L1239.6 1300.9 L1240.4 1301.1 L1241.2 1301.3 L1242 1301.7 L1242.8 1302.1 L1243.6 1302.7 L1244.5 1303.3 L1245.3 1303.9 L1246.1 1304.7 L1246.8 1305.5 L1247.6 1306.4 L1248.3 1307.3 L1248.9 1308.3 L1249.5 1309.3 L1250.1 1310.3 L1250.6 1311.4 L1251 1312.5 L1251.4 1313.5 L1251.7 1314.6 L1252 1315.7 L1252.2 1316.7 L1252.3 1317.7Z" fill="#fff" stroke-width="3"/>
<path d="M1262 1340.9 L1262.1 1338.4 L1262.4 1336 L1262.8 1333.9 L1263.5 1331.8 L1264.3 1330 L1265.3 1328.3 L1266.5 1326.9 L1267.8 1325.7 L1269.3 1324.7 L1275.3 1321.1 L1276.9 1320.3 L1278.7 1319.8 L1280.5 1319.5 L1282.4 1319.5 L1284.5 1319.7 L1286.5 1320.2 L1288.7 1320.9 L1290.8 1321.8 L1293 1323 L1295.2 1324.4 L1297.3 1326 L1299.5 1327.8 L1301.5 1329.8 L1303.6 1331.9 L1305.5 1334.2 L1307.3 1336.7 L1309.1 1339.2 L1310.7 1341.9 L1312.2 1344.6 L1313.5 1347.4 L1314.7 1350.2 L1315.7 1353.1 L1316.5 1355.9 L1317.2 1358.7 L1317.6 1361.4 L1317.9 1364.1 L1318 1366.7 L1317.9 1369.2 L1317.6 1371.5 L1317.2 1373.7 L1316.5 1375.7 L1315.7 1377.6 L1314.7 1379.2 L1313.5 1380.7 L1312.2 1381.9 L1310.7 1382.9 L1304.7 1386.5 L1303 1387.2 L1301.3 1387.8 L1299.5 1388 L1297.5 1388.1 L1295.5 1387.8 L1293.5 1387.4 L1291.3 1386.7 L1289.2 1385.7 L1287 1384.6 L1284.8 1383.2 L1282.6 1381.6 L1280.5 1379.8 L1278.4 1377.8 L1276.4 1375.6 L1274.5 1373.3 L1272.6 1370.9 L1270.9 1368.3 L1269.3 1365.7 L1267.8 1363 L1266.5 1360.2 L1265.3 1357.3 L1264.3 1354.5 L1263.5 1351.7 L1262.8 1348.9 L1262.4 1346.1 L1262.1 1343.5Z" fill="#fff" stroke-width="3.6"/>
<path d="M1312 1370.3 L1311.9 1372.7 L1311.6 1375.1 L1311.1 1377.3 L1310.5 1379.3 L1309.6 1381.2 L1308.6 1382.8 L1307.5 1384.2 L1306.1 1385.5 L1304.7 1386.5 L1303 1387.2 L1301.3 1387.8 L1299.5 1388 L1297.5 1388.1 L1295.5 1387.8 L1293.4 1387.4 L1291.3 1386.7 L1289.2 1385.7 L1287 1384.6 L1284.8 1383.2 L1282.6 1381.6 L1280.5 1379.8 L1278.4 1377.8 L1276.4 1375.6 L1274.5 1373.3 L1272.6 1370.9 L1270.9 1368.3 L1269.3 1365.7 L1267.8 1362.9 L1266.5 1360.2 L1265.3 1357.3 L1264.3 1354.5 L1263.5 1351.7 L1262.8 1348.9 L1262.4 1346.1 L1262.1 1343.5 L1262 1340.9 L1262.1 1338.4 L1262.4 1336.1 L1262.8 1333.9 L1263.5 1331.8 L1264.3 1330 L1265.3 1328.3 L1266.5 1326.9 L1267.8 1325.7 L1269.3 1324.7 L1270.9 1323.9 L1272.6 1323.4 L1274.5 1323.1 L1276.4 1323.1 L1278.4 1323.3 L1280.5 1323.8 L1282.6 1324.5 L1284.8 1325.4 L1287 1326.6 L1289.2 1328 L1291.3 1329.6 L1293.4 1331.4 L1295.5 1333.3 L1297.5 1335.5 L1299.5 1337.8 L1301.3 1340.2 L1303 1342.8 L1304.7 1345.5 L1306.1 1348.2 L1307.5 1351 L1308.6 1353.8 L1309.6 1356.6 L1310.5 1359.5 L1311.1 1362.3 L1311.6 1365 L1311.9 1367.7Z" fill="#fff" stroke-width="3.6"/>
<path d="M1308.5 1368.2 L1308.4 1370.4 L1308.2 1372.4 L1307.8 1374.3 L1307.2 1376 L1306.5 1377.6 L1305.6 1379 L1304.6 1380.3 L1303.5 1381.3 L1302.2 1382.2 L1300.8 1382.9 L1299.3 1383.3 L1297.8 1383.6 L1296.1 1383.6 L1294.4 1383.4 L1292.6 1383 L1290.7 1382.4 L1288.9 1381.6 L1287 1380.6 L1285.1 1379.4 L1283.2 1378 L1281.4 1376.4 L1279.6 1374.7 L1277.9 1372.9 L1276.2 1370.9 L1274.6 1368.8 L1273.1 1366.6 L1271.7 1364.3 L1270.5 1361.9 L1269.3 1359.5 L1268.3 1357.1 L1267.4 1354.6 L1266.7 1352.2 L1266.2 1349.8 L1265.8 1347.4 L1265.5 1345.1 L1265.4 1342.9 L1265.5 1340.8 L1265.8 1338.7 L1266.2 1336.9 L1266.7 1335.1 L1267.4 1333.5 L1268.3 1332.1 L1269.3 1330.8 L1270.5 1329.8 L1271.7 1328.9 L1273.1 1328.3 L1274.6 1327.8 L1276.2 1327.6 L1277.9 1327.6 L1279.6 1327.7 L1281.4 1328.1 L1283.2 1328.7 L1285.1 1329.6 L1287 1330.6 L1288.9 1331.8 L1290.7 1333.2 L1292.6 1334.7 L1294.4 1336.4 L1296.1 1338.3 L1297.8 1340.3 L1299.3 1342.4 L1300.8 1344.6 L1302.2 1346.9 L1303.5 1349.2 L1304.6 1351.6 L1305.6 1354 L1306.5 1356.5 L1307.2 1358.9 L1307.8 1361.3 L1308.2 1363.7 L1308.4 1366Z" fill="#fff" stroke-width="3"/>
<path d="M1259 1343.3 L1271.1 1336.2 L1286.5 1334.3 L1302.4 1353.7 L1302.9 1375 L1290.8 1382.1 L1275.4 1384 L1259.5 1364.5Z" fill="#fff" stroke-width="3.4"/>
<path d="M1290.8 1382.1 L1275.4 1384 L1259.5 1364.5 L1259.1 1343.3 L1274.5 1341.5 L1290.4 1360.9Z" fill="#fff" stroke-width="3.4"/>
<path d="M1274.5 1341.5 L1286.6 1334.3" fill="none" stroke-width="3.4"/>
<path d="M1290.4 1360.9 L1302.4 1353.7" fill="none" stroke-width="3.4"/>
<path d="M1287.9 1370.3 L1287.8 1371.6 L1287.7 1372.8 L1287.4 1373.9 L1287.1 1375 L1286.7 1375.9 L1286.1 1376.8 L1285.5 1377.5 L1284.8 1378.2 L1284.1 1378.7 L1283.3 1379.1 L1282.4 1379.4 L1281.4 1379.5 L1280.4 1379.5 L1279.4 1379.4 L1278.3 1379.2 L1277.2 1378.8 L1276.1 1378.3 L1274.9 1377.7 L1273.8 1377 L1272.7 1376.2 L1271.6 1375.2 L1270.5 1374.2 L1269.5 1373.1 L1268.5 1371.9 L1267.5 1370.6 L1266.6 1369.3 L1265.8 1367.9 L1265 1366.5 L1264.3 1365.1 L1263.7 1363.6 L1263.2 1362.2 L1262.8 1360.7 L1262.5 1359.2 L1262.2 1357.8 L1262.1 1356.4 L1262 1355.1 L1262.1 1353.8 L1262.2 1352.6 L1262.5 1351.5 L1262.8 1350.4 L1263.2 1349.5 L1263.7 1348.6 L1264.3 1347.9 L1265 1347.2 L1265.8 1346.7 L1266.6 1346.3 L1267.5 1346.1 L1268.5 1345.9 L1269.5 1345.9 L1270.5 1346 L1271.6 1346.3 L1272.7 1346.6 L1273.8 1347.1 L1274.9 1347.7 L1276.1 1348.4 L1277.2 1349.3 L1278.3 1350.2 L1279.4 1351.2 L1280.4 1352.3 L1281.4 1353.5 L1282.4 1354.8 L1283.3 1356.1 L1284.1 1357.5 L1284.8 1358.9 L1285.5 1360.3 L1286.1 1361.8 L1286.7 1363.3 L1287.1 1364.7 L1287.4 1366.2 L1287.7 1367.6 L1287.8 1369Z" fill="#fff" stroke-width="2.6"/>
<path d="M1258.2 1354.8 L1265.1 1350.7 L1274.7 1349.6 L1284.5 1361.6 L1284.8 1374.7 L1277.9 1378.8 L1268.3 1379.9 L1258.5 1367.9Z" fill="#fff" stroke-width="3.2"/>
<path d="M1277.9 1378.8 L1268.3 1379.9 L1258.5 1367.9 L1258.2 1354.8 L1267.8 1353.6 L1277.6 1365.7Z" fill="#fff" stroke-width="3.2"/>
<path d="M1267.8 1353.6 L1274.7 1349.6" fill="none" stroke-width="3.2"/>
<path d="M1277.6 1365.7 L1284.5 1361.6" fill="none" stroke-width="3.2"/>
<path d="M1239.7 1376.5 L1239.7 1375.9 L1239.8 1375.3 L1239.9 1374.8 L1240 1374.3 L1240.2 1373.9 L1240.5 1373.5 L1240.8 1373.1 L1241.1 1372.8 L1241.4 1372.6 L1263.8 1359.3 L1264.2 1359.2 L1264.6 1359 L1265 1359 L1265.5 1359 L1266 1359 L1266.5 1359.1 L1267 1359.3 L1267.5 1359.5 L1268.1 1359.8 L1268.6 1360.1 L1269.1 1360.5 L1269.6 1361 L1270.1 1361.4 L1270.6 1362 L1271.1 1362.5 L1271.5 1363.1 L1271.9 1363.7 L1272.3 1364.3 L1272.7 1365 L1273 1365.7 L1273.3 1366.4 L1273.5 1367 L1273.7 1367.7 L1273.9 1368.4 L1274 1369.1 L1274.1 1369.7 L1274.1 1370.3 L1274.1 1370.9 L1274 1371.5 L1273.9 1372 L1273.7 1372.5 L1273.5 1373 L1273.3 1373.4 L1273 1373.7 L1272.7 1374 L1272.3 1374.2 L1250 1387.5 L1249.6 1387.7 L1249.2 1387.8 L1248.7 1387.9 L1248.2 1387.9 L1247.8 1387.8 L1247.3 1387.7 L1246.8 1387.6 L1246.2 1387.3 L1245.7 1387 L1245.2 1386.7 L1244.7 1386.3 L1244.1 1385.9 L1243.6 1385.4 L1243.2 1384.9 L1242.7 1384.3 L1242.2 1383.8 L1241.8 1383.1 L1241.4 1382.5 L1241.1 1381.8 L1240.8 1381.2 L1240.5 1380.5 L1240.2 1379.8 L1240 1379.1 L1239.9 1378.4 L1239.8 1377.8 L1239.7 1377.1Z" fill="#fff" stroke-width="3.2"/>
<path d="M1251.7 1383.6 L1251.7 1384.2 L1251.6 1384.8 L1251.5 1385.3 L1251.4 1385.8 L1251.2 1386.2 L1250.9 1386.6 L1250.6 1387 L1250.3 1387.3 L1250 1387.5 L1249.6 1387.7 L1249.2 1387.8 L1248.7 1387.9 L1248.3 1387.9 L1247.8 1387.8 L1247.3 1387.7 L1246.7 1387.6 L1246.2 1387.3 L1245.7 1387 L1245.2 1386.7 L1244.7 1386.3 L1244.1 1385.9 L1243.6 1385.4 L1243.1 1384.9 L1242.7 1384.3 L1242.2 1383.7 L1241.8 1383.1 L1241.4 1382.5 L1241.1 1381.8 L1240.8 1381.2 L1240.5 1380.5 L1240.2 1379.8 L1240 1379.1 L1239.9 1378.4 L1239.8 1377.8 L1239.7 1377.1 L1239.7 1376.5 L1239.7 1375.9 L1239.8 1375.3 L1239.9 1374.8 L1240 1374.3 L1240.2 1373.9 L1240.5 1373.5 L1240.8 1373.1 L1241.1 1372.8 L1241.4 1372.6 L1241.8 1372.4 L1242.2 1372.3 L1242.7 1372.2 L1243.1 1372.2 L1243.6 1372.3 L1244.1 1372.4 L1244.7 1372.5 L1245.2 1372.8 L1245.7 1373 L1246.2 1373.4 L1246.7 1373.8 L1247.3 1374.2 L1247.8 1374.7 L1248.3 1375.2 L1248.7 1375.8 L1249.2 1376.4 L1249.6 1377 L1250 1377.6 L1250.3 1378.3 L1250.6 1378.9 L1250.9 1379.6 L1251.2 1380.3 L1251.4 1381 L1251.5 1381.7 L1251.6 1382.3 L1251.7 1383Z" fill="#fff" stroke-width="3.2"/>
<path d="M1227.5 1370.3 L1234.3 1366.2 L1245.4 1364.9 L1256.7 1378.7 L1257 1393.9 L1250.2 1398 L1239.1 1399.3 L1227.8 1385.4Z" fill="#fff" stroke-width="3.4"/>
<path d="M1250.2 1398 L1239.1 1399.3 L1227.8 1385.4 L1227.5 1370.3 L1238.5 1369 L1249.9 1382.8Z" fill="#fff" stroke-width="3.4"/>
<path d="M1238.5 1369 L1245.4 1364.9" fill="none" stroke-width="3.4"/>
<path d="M1249.9 1382.8 L1256.7 1378.7" fill="none" stroke-width="3.4"/>
<path d="M1248.3 1389.7 L1248.3 1390.6 L1248.2 1391.5 L1248 1392.4 L1247.7 1393.1 L1247.4 1393.8 L1247 1394.5 L1246.6 1395 L1246.1 1395.5 L1245.5 1395.9 L1244.9 1396.1 L1244.3 1396.3 L1243.6 1396.4 L1242.8 1396.5 L1242.1 1396.4 L1241.3 1396.2 L1240.5 1395.9 L1239.6 1395.6 L1238.8 1395.1 L1238 1394.6 L1237.2 1394 L1236.4 1393.3 L1235.6 1392.6 L1234.8 1391.7 L1234.1 1390.9 L1233.4 1389.9 L1232.7 1389 L1232.1 1388 L1231.6 1386.9 L1231.1 1385.9 L1230.6 1384.8 L1230.2 1383.7 L1229.9 1382.7 L1229.7 1381.6 L1229.5 1380.5 L1229.4 1379.5 L1229.3 1378.6 L1229.4 1377.6 L1229.5 1376.7 L1229.7 1375.9 L1229.9 1375.1 L1230.2 1374.4 L1230.6 1373.8 L1231.1 1373.3 L1231.6 1372.8 L1232.1 1372.4 L1232.7 1372.1 L1233.4 1371.9 L1234.1 1371.8 L1234.8 1371.8 L1235.6 1371.9 L1236.4 1372.1 L1237.2 1372.3 L1238 1372.7 L1238.8 1373.1 L1239.6 1373.7 L1240.5 1374.3 L1241.3 1374.9 L1242.1 1375.7 L1242.8 1376.5 L1243.6 1377.4 L1244.3 1378.3 L1244.9 1379.3 L1245.5 1380.3 L1246.1 1381.3 L1246.6 1382.4 L1247 1383.5 L1247.4 1384.5 L1247.7 1385.6 L1248 1386.7 L1248.2 1387.7 L1248.3 1388.7Z" fill="#fff" stroke-width="3"/>
<path d="M1339 1360.8 L1339.1 1358.9 L1339.3 1357 L1339.7 1355.3 L1340.2 1353.7 L1340.9 1352.2 L1341.7 1350.9 L1342.6 1349.8 L1343.7 1348.8 L1344.8 1348 L1352.6 1343.4 L1353.9 1342.8 L1355.2 1342.4 L1356.7 1342.2 L1358.2 1342.1 L1359.8 1342.3 L1361.5 1342.7 L1363.2 1343.2 L1364.9 1344 L1366.6 1344.9 L1368.3 1346 L1370 1347.3 L1371.7 1348.7 L1373.4 1350.3 L1375 1352 L1376.5 1353.8 L1378 1355.8 L1379.3 1357.8 L1380.6 1359.9 L1381.8 1362 L1382.8 1364.3 L1383.8 1366.5 L1384.6 1368.8 L1385.2 1371 L1385.8 1373.2 L1386.1 1375.4 L1386.3 1377.5 L1386.4 1379.6 L1386.3 1381.5 L1386.1 1383.4 L1385.8 1385.1 L1385.2 1386.7 L1384.6 1388.2 L1383.8 1389.5 L1382.8 1390.6 L1381.8 1391.6 L1380.6 1392.4 L1372.9 1397 L1371.6 1397.6 L1370.2 1398 L1368.8 1398.2 L1367.2 1398.3 L1365.6 1398.1 L1364 1397.7 L1362.3 1397.2 L1360.6 1396.4 L1358.9 1395.5 L1357.1 1394.4 L1355.4 1393.1 L1353.7 1391.7 L1352.1 1390.1 L1350.5 1388.4 L1349 1386.6 L1347.5 1384.6 L1346.1 1382.6 L1344.8 1380.5 L1343.7 1378.3 L1342.6 1376.1 L1341.7 1373.9 L1340.9 1371.6 L1340.2 1369.4 L1339.7 1367.2 L1339.3 1365 L1339.1 1362.9Z" fill="#fff" stroke-width="3.8"/>
<path d="M1378.7 1384.2 L1378.6 1386.1 L1378.4 1388 L1378 1389.7 L1377.5 1391.3 L1376.8 1392.8 L1376 1394.1 L1375.1 1395.2 L1374 1396.2 L1372.9 1397 L1371.6 1397.6 L1370.2 1398 L1368.8 1398.2 L1367.2 1398.3 L1365.6 1398.1 L1364 1397.7 L1362.3 1397.2 L1360.6 1396.4 L1358.9 1395.5 L1357.1 1394.4 L1355.4 1393.1 L1353.7 1391.7 L1352.1 1390.1 L1350.5 1388.4 L1348.9 1386.6 L1347.5 1384.6 L1346.1 1382.6 L1344.8 1380.5 L1343.7 1378.3 L1342.6 1376.1 L1341.7 1373.9 L1340.9 1371.6 L1340.2 1369.4 L1339.7 1367.2 L1339.3 1365 L1339.1 1362.9 L1339 1360.8 L1339.1 1358.9 L1339.3 1357 L1339.7 1355.3 L1340.2 1353.7 L1340.9 1352.2 L1341.7 1350.9 L1342.6 1349.7 L1343.7 1348.8 L1344.8 1348 L1346.1 1347.4 L1347.5 1347 L1348.9 1346.7 L1350.5 1346.7 L1352.1 1346.9 L1353.7 1347.3 L1355.4 1347.8 L1357.1 1348.6 L1358.9 1349.5 L1360.6 1350.6 L1362.3 1351.9 L1364 1353.3 L1365.6 1354.9 L1367.2 1356.6 L1368.8 1358.4 L1370.2 1360.3 L1371.6 1362.4 L1372.9 1364.5 L1374 1366.6 L1375.1 1368.8 L1376 1371.1 L1376.8 1373.3 L1377.5 1375.6 L1378 1377.8 L1378.4 1380 L1378.6 1382.1Z" fill="#fff" stroke-width="3.8"/>
<path d="M1362.2 1377.8 L1357.4 1380.2 L1351.3 1374.3 L1349.8 1366.2 L1354.6 1363.8 L1360.7 1369.7Z" fill="#fff" stroke-width="3.2"/>
<path d="M1358.4 1373.4 L1358.4 1373.7 L1358.4 1373.9 L1358.3 1374.1 L1358.3 1374.3 L1358.2 1374.5 L1358.1 1374.6 L1358 1374.8 L1357.8 1374.9 L1357.7 1375 L1357.6 1375.1 L1357.4 1375.1 L1357.2 1375.1 L1357 1375.1 L1356.8 1375.1 L1356.6 1375.1 L1356.4 1375 L1356.2 1374.9 L1356 1374.8 L1355.8 1374.7 L1355.6 1374.5 L1355.4 1374.3 L1355.2 1374.1 L1355 1373.9 L1354.8 1373.7 L1354.6 1373.5 L1354.4 1373.2 L1354.3 1373 L1354.2 1372.7 L1354 1372.4 L1353.9 1372.2 L1353.8 1371.9 L1353.7 1371.6 L1353.7 1371.4 L1353.6 1371.1 L1353.6 1370.8 L1353.6 1370.6 L1353.6 1370.3 L1353.6 1370.1 L1353.7 1369.9 L1353.7 1369.7 L1353.8 1369.5 L1353.9 1369.4 L1354 1369.2 L1354.2 1369.1 L1354.3 1369 L1354.4 1368.9 L1354.6 1368.9 L1354.8 1368.9 L1355 1368.9 L1355.2 1368.9 L1355.4 1368.9 L1355.6 1369 L1355.8 1369.1 L1356 1369.2 L1356.2 1369.3 L1356.4 1369.5 L1356.6 1369.7 L1356.8 1369.9 L1357 1370.1 L1357.2 1370.3 L1357.4 1370.5 L1357.6 1370.8 L1357.7 1371 L1357.8 1371.3 L1358 1371.6 L1358.1 1371.8 L1358.2 1372.1 L1358.3 1372.4 L1358.3 1372.6 L1358.4 1372.9 L1358.4 1373.2Z" fill="#fff" stroke-width="2"/>
<path d="M1465 1385.8 L1465.1 1383.9 L1465.3 1382 L1465.7 1380.3 L1466.2 1378.7 L1466.9 1377.2 L1467.7 1375.9 L1468.6 1374.8 L1469.7 1373.8 L1470.8 1373 L1478.6 1368.4 L1479.9 1367.8 L1481.2 1367.4 L1482.7 1367.2 L1484.2 1367.1 L1485.8 1367.3 L1487.5 1367.7 L1489.2 1368.2 L1490.9 1369 L1492.6 1369.9 L1494.3 1371 L1496 1372.3 L1497.7 1373.7 L1499.4 1375.3 L1501 1377 L1502.5 1378.8 L1504 1380.8 L1505.3 1382.8 L1506.6 1384.9 L1507.8 1387 L1508.8 1389.3 L1509.8 1391.5 L1510.6 1393.8 L1511.2 1396 L1511.8 1398.2 L1512.1 1400.4 L1512.3 1402.5 L1512.4 1404.6 L1512.3 1406.5 L1512.1 1408.4 L1511.8 1410.1 L1511.2 1411.7 L1510.6 1413.2 L1509.8 1414.5 L1508.8 1415.6 L1507.8 1416.6 L1506.6 1417.4 L1498.9 1422 L1497.6 1422.6 L1496.2 1423 L1494.8 1423.2 L1493.2 1423.3 L1491.6 1423.1 L1490 1422.7 L1488.3 1422.2 L1486.6 1421.4 L1484.9 1420.5 L1483.1 1419.4 L1481.4 1418.1 L1479.7 1416.7 L1478.1 1415.1 L1476.5 1413.4 L1475 1411.6 L1473.5 1409.6 L1472.1 1407.6 L1470.8 1405.5 L1469.7 1403.3 L1468.6 1401.1 L1467.7 1398.9 L1466.9 1396.6 L1466.2 1394.4 L1465.7 1392.2 L1465.3 1390 L1465.1 1387.9Z" fill="#fff" stroke-width="3.8"/>
<path d="M1504.7 1409.2 L1504.6 1411.1 L1504.4 1413 L1504 1414.7 L1503.5 1416.3 L1502.8 1417.8 L1502 1419.1 L1501.1 1420.2 L1500 1421.2 L1498.9 1422 L1497.6 1422.6 L1496.2 1423 L1494.8 1423.2 L1493.2 1423.3 L1491.6 1423.1 L1490 1422.7 L1488.3 1422.2 L1486.6 1421.4 L1484.9 1420.5 L1483.1 1419.4 L1481.4 1418.1 L1479.7 1416.7 L1478.1 1415.1 L1476.5 1413.4 L1474.9 1411.6 L1473.5 1409.6 L1472.1 1407.6 L1470.8 1405.5 L1469.7 1403.3 L1468.6 1401.1 L1467.7 1398.9 L1466.9 1396.6 L1466.2 1394.4 L1465.7 1392.2 L1465.3 1390 L1465.1 1387.9 L1465 1385.8 L1465.1 1383.9 L1465.3 1382 L1465.7 1380.3 L1466.2 1378.7 L1466.9 1377.2 L1467.7 1375.9 L1468.6 1374.7 L1469.7 1373.8 L1470.8 1373 L1472.1 1372.4 L1473.5 1372 L1474.9 1371.7 L1476.5 1371.7 L1478.1 1371.9 L1479.7 1372.3 L1481.4 1372.8 L1483.1 1373.6 L1484.9 1374.5 L1486.6 1375.6 L1488.3 1376.9 L1490 1378.3 L1491.6 1379.9 L1493.2 1381.6 L1494.8 1383.4 L1496.2 1385.3 L1497.6 1387.4 L1498.9 1389.5 L1500 1391.6 L1501.1 1393.8 L1502 1396.1 L1502.8 1398.3 L1503.5 1400.6 L1504 1402.8 L1504.4 1405 L1504.6 1407.1Z" fill="#fff" stroke-width="3.8"/>
<path d="M1488.2 1402.8 L1483.4 1405.2 L1477.3 1399.3 L1475.8 1391.2 L1480.6 1388.8 L1486.7 1394.7Z" fill="#fff" stroke-width="3.2"/>
<path d="M1484.4 1398.4 L1484.4 1398.7 L1484.4 1398.9 L1484.3 1399.1 L1484.3 1399.3 L1484.2 1399.5 L1484.1 1399.6 L1484 1399.8 L1483.8 1399.9 L1483.7 1400 L1483.6 1400.1 L1483.4 1400.1 L1483.2 1400.1 L1483 1400.1 L1482.8 1400.1 L1482.6 1400.1 L1482.4 1400 L1482.2 1399.9 L1482 1399.8 L1481.8 1399.7 L1481.6 1399.5 L1481.4 1399.3 L1481.2 1399.1 L1481 1398.9 L1480.8 1398.7 L1480.6 1398.5 L1480.4 1398.2 L1480.3 1398 L1480.2 1397.7 L1480 1397.4 L1479.9 1397.2 L1479.8 1396.9 L1479.7 1396.6 L1479.7 1396.4 L1479.6 1396.1 L1479.6 1395.8 L1479.6 1395.6 L1479.6 1395.3 L1479.6 1395.1 L1479.7 1394.9 L1479.7 1394.7 L1479.8 1394.5 L1479.9 1394.4 L1480 1394.2 L1480.2 1394.1 L1480.3 1394 L1480.4 1393.9 L1480.6 1393.9 L1480.8 1393.9 L1481 1393.9 L1481.2 1393.9 L1481.4 1393.9 L1481.6 1394 L1481.8 1394.1 L1482 1394.2 L1482.2 1394.3 L1482.4 1394.5 L1482.6 1394.7 L1482.8 1394.9 L1483 1395.1 L1483.2 1395.3 L1483.4 1395.5 L1483.6 1395.8 L1483.7 1396 L1483.8 1396.3 L1484 1396.6 L1484.1 1396.8 L1484.2 1397.1 L1484.3 1397.4 L1484.3 1397.6 L1484.4 1397.9 L1484.4 1398.2Z" fill="#fff" stroke-width="2"/>
<path d="M1629.8 1381.8 L1629.9 1380.4 L1630 1379 L1630.3 1377.5 L1630.6 1376 L1631.1 1374.5 L1631.6 1373 L1632.3 1371.5 L1633 1370 L1633.8 1368.5 L1634.6 1367.1 L1635.5 1365.7 L1636.5 1364.4 L1637.5 1363.2 L1638.6 1362 L1639.7 1361 L1640.9 1360 L1642 1359.1 L1643.2 1358.4 L1644.4 1357.8 L1645.5 1357.3 L1646.7 1356.9 L1647.8 1356.7 L1648.8 1356.5 L1649.9 1356.5 L1650.9 1356.7 L1651.8 1357 L1652.7 1357.4 L1666 1365.3 L1666.7 1365.8 L1667.4 1366.5 L1668.1 1367.2 L1668.6 1368.1 L1669.1 1369.1 L1669.4 1370.2 L1669.7 1371.4 L1669.8 1372.6 L1669.9 1373.9 L1669.8 1375.3 L1669.7 1376.8 L1669.4 1378.2 L1669.1 1379.7 L1668.6 1381.2 L1668.1 1382.7 L1667.4 1384.2 L1666.7 1385.7 L1666 1387.2 L1665.1 1388.6 L1664.2 1390 L1663.2 1391.3 L1662.2 1392.5 L1661.1 1393.7 L1660 1394.7 L1658.8 1395.7 L1657.7 1396.6 L1656.5 1397.3 L1655.3 1397.9 L1654.2 1398.4 L1653 1398.8 L1651.9 1399 L1650.8 1399.2 L1649.8 1399.2 L1648.8 1399 L1647.9 1398.7 L1647 1398.3 L1633.8 1390.4 L1633 1389.9 L1632.3 1389.2 L1631.6 1388.5 L1631.1 1387.6 L1630.6 1386.6 L1630.3 1385.5 L1630 1384.3 L1629.9 1383.1Z" fill="#fff" stroke-width="3"/>
<path d="M1669.9 1373.9 L1669.8 1375.3 L1669.7 1376.8 L1669.4 1378.2 L1669.1 1379.7 L1668.6 1381.2 L1668.1 1382.7 L1667.4 1384.3 L1666.7 1385.7 L1665.9 1387.2 L1665.1 1388.6 L1664.2 1390 L1663.2 1391.3 L1662.1 1392.5 L1661.1 1393.7 L1660 1394.7 L1658.8 1395.7 L1657.7 1396.6 L1656.5 1397.3 L1655.3 1397.9 L1654.2 1398.4 L1653 1398.8 L1651.9 1399.1 L1650.9 1399.2 L1649.8 1399.2 L1648.8 1399 L1647.9 1398.7 L1647.1 1398.3 L1646.3 1397.8 L1645.6 1397.1 L1644.9 1396.4 L1644.4 1395.5 L1643.9 1394.5 L1643.6 1393.4 L1643.3 1392.2 L1643.2 1391 L1643.1 1389.7 L1643.2 1388.3 L1643.3 1386.8 L1643.6 1385.4 L1643.9 1383.9 L1644.4 1382.4 L1644.9 1380.9 L1645.6 1379.3 L1646.3 1377.9 L1647.1 1376.4 L1647.9 1375 L1648.8 1373.6 L1649.8 1372.3 L1650.9 1371.1 L1651.9 1369.9 L1653 1368.9 L1654.2 1367.9 L1655.3 1367 L1656.5 1366.3 L1657.7 1365.7 L1658.8 1365.2 L1660 1364.8 L1661.1 1364.5 L1662.1 1364.4 L1663.2 1364.4 L1664.2 1364.6 L1665.1 1364.9 L1665.9 1365.3 L1666.7 1365.8 L1667.4 1366.5 L1668.1 1367.2 L1668.6 1368.1 L1669.1 1369.1 L1669.4 1370.2 L1669.7 1371.4 L1669.8 1372.6Z" fill="#fff" stroke-width="3"/>
<clipPath id="rp246"><path d="M1669.9 1373.9 L1669.8 1375.3 L1669.7 1376.8 L1669.4 1378.2 L1669.1 1379.7 L1668.6 1381.2 L1668.1 1382.7 L1667.4 1384.3 L1666.7 1385.7 L1665.9 1387.2 L1665.1 1388.6 L1664.2 1390 L1663.2 1391.3 L1662.1 1392.5 L1661.1 1393.7 L1660 1394.7 L1658.8 1395.7 L1657.7 1396.6 L1656.5 1397.3 L1655.3 1397.9 L1654.2 1398.4 L1653 1398.8 L1651.9 1399.1 L1650.9 1399.2 L1649.8 1399.2 L1648.8 1399 L1647.9 1398.7 L1647.1 1398.3 L1646.3 1397.8 L1645.6 1397.1 L1644.9 1396.4 L1644.4 1395.5 L1643.9 1394.5 L1643.6 1393.4 L1643.3 1392.2 L1643.2 1391 L1643.1 1389.7 L1643.2 1388.3 L1643.3 1386.8 L1643.6 1385.4 L1643.9 1383.9 L1644.4 1382.4 L1644.9 1380.9 L1645.6 1379.3 L1646.3 1377.9 L1647.1 1376.4 L1647.9 1375 L1648.8 1373.6 L1649.8 1372.3 L1650.9 1371.1 L1651.9 1369.9 L1653 1368.9 L1654.2 1367.9 L1655.3 1367 L1656.5 1366.3 L1657.7 1365.7 L1658.8 1365.2 L1660 1364.8 L1661.1 1364.5 L1662.1 1364.4 L1663.2 1364.4 L1664.2 1364.6 L1665.1 1364.9 L1665.9 1365.3 L1666.7 1365.8 L1667.4 1366.5 L1668.1 1367.2 L1668.6 1368.1 L1669.1 1369.1 L1669.4 1370.2 L1669.7 1371.4 L1669.8 1372.6Z"/></clipPath>
<path d="M1671.3 1375.2 L1671.2 1376.5 L1671.1 1377.8 L1670.9 1379.2 L1670.5 1380.6 L1670.1 1382.1 L1669.6 1383.5 L1669 1384.9 L1668.3 1386.3 L1667.6 1387.7 L1666.8 1389 L1665.9 1390.3 L1665 1391.5 L1664 1392.7 L1663 1393.8 L1662 1394.8 L1660.9 1395.7 L1659.8 1396.5 L1658.7 1397.2 L1657.6 1397.8 L1656.5 1398.3 L1655.4 1398.6 L1654.4 1398.9 L1653.4 1399 L1652.4 1398.9 L1651.5 1398.8 L1650.6 1398.5 L1649.8 1398.2 L1649.1 1397.7 L1648.4 1397 L1647.8 1396.3 L1647.3 1395.5 L1646.9 1394.5 L1646.5 1393.5 L1646.3 1392.4 L1646.2 1391.2 L1646.1 1390 L1646.2 1388.7 L1646.3 1387.4 L1646.5 1386 L1646.9 1384.6 L1647.3 1383.1 L1647.8 1381.7 L1648.4 1380.3 L1649.1 1378.9 L1649.8 1377.5 L1650.6 1376.2 L1651.5 1374.9 L1652.4 1373.7 L1653.4 1372.5 L1654.4 1371.4 L1655.4 1370.4 L1656.5 1369.5 L1657.6 1368.7 L1658.7 1368 L1659.8 1367.4 L1660.9 1366.9 L1662 1366.6 L1663 1366.3 L1664 1366.2 L1665 1366.3 L1665.9 1366.4 L1666.8 1366.7 L1667.6 1367 L1668.3 1367.5 L1669 1368.2 L1669.6 1368.9 L1670.1 1369.7 L1670.5 1370.7 L1670.9 1371.7 L1671.1 1372.8 L1671.2 1374Z" fill="#1a1410" stroke="none" clip-path="url(#rp246)"/>
<path d="M1669.9 1373.9 L1669.8 1375.3 L1669.7 1376.8 L1669.4 1378.2 L1669.1 1379.7 L1668.6 1381.2 L1668.1 1382.7 L1667.4 1384.3 L1666.7 1385.7 L1665.9 1387.2 L1665.1 1388.6 L1664.2 1390 L1663.2 1391.3 L1662.1 1392.5 L1661.1 1393.7 L1660 1394.7 L1658.8 1395.7 L1657.7 1396.6 L1656.5 1397.3 L1655.3 1397.9 L1654.2 1398.4 L1653 1398.8 L1651.9 1399.1 L1650.9 1399.2 L1649.8 1399.2 L1648.8 1399 L1647.9 1398.7 L1647.1 1398.3 L1646.3 1397.8 L1645.6 1397.1 L1644.9 1396.4 L1644.4 1395.5 L1643.9 1394.5 L1643.6 1393.4 L1643.3 1392.2 L1643.2 1391 L1643.1 1389.7 L1643.2 1388.3 L1643.3 1386.8 L1643.6 1385.4 L1643.9 1383.9 L1644.4 1382.4 L1644.9 1380.9 L1645.6 1379.3 L1646.3 1377.9 L1647.1 1376.4 L1647.9 1375 L1648.8 1373.6 L1649.8 1372.3 L1650.9 1371.1 L1651.9 1369.9 L1653 1368.9 L1654.2 1367.9 L1655.3 1367 L1656.5 1366.3 L1657.7 1365.7 L1658.8 1365.2 L1660 1364.8 L1661.1 1364.5 L1662.1 1364.4 L1663.2 1364.4 L1664.2 1364.6 L1665.1 1364.9 L1665.9 1365.3 L1666.7 1365.8 L1667.4 1366.5 L1668.1 1367.2 L1668.6 1368.1 L1669.1 1369.1 L1669.4 1370.2 L1669.7 1371.4 L1669.8 1372.6Z" fill="none" stroke-width="3"/>
<ellipse cx="1658.5" cy="1380.3" rx="1.8" ry="1.8" fill="#fff" stroke-width="0.1"/>
<path d="M1633.5 1460.6 L1633.6 1459.2 L1633.7 1457.8 L1634 1456.3 L1634.3 1454.8 L1634.8 1453.3 L1635.3 1451.8 L1636 1450.2 L1636.7 1448.8 L1637.5 1447.3 L1638.3 1445.9 L1639.2 1444.5 L1640.2 1443.2 L1641.2 1442 L1642.3 1440.8 L1643.4 1439.8 L1644.6 1438.8 L1645.7 1437.9 L1646.9 1437.2 L1648.1 1436.6 L1649.2 1436.1 L1650.4 1435.7 L1651.5 1435.5 L1652.5 1435.3 L1653.6 1435.3 L1654.6 1435.5 L1655.5 1435.8 L1656.3 1436.2 L1669.7 1444.1 L1670.4 1444.6 L1671.1 1445.3 L1671.8 1446 L1672.3 1446.9 L1672.8 1447.9 L1673.1 1449 L1673.4 1450.2 L1673.5 1451.4 L1673.6 1452.7 L1673.5 1454.1 L1673.4 1455.5 L1673.1 1457 L1672.8 1458.5 L1672.3 1460 L1671.8 1461.5 L1671.1 1463 L1670.4 1464.5 L1669.7 1466 L1668.8 1467.4 L1667.9 1468.8 L1666.9 1470.1 L1665.8 1471.3 L1664.8 1472.5 L1663.7 1473.5 L1662.5 1474.5 L1661.4 1475.4 L1660.2 1476.1 L1659 1476.7 L1657.9 1477.2 L1656.7 1477.6 L1655.6 1477.8 L1654.5 1478 L1653.5 1478 L1652.5 1477.8 L1651.6 1477.5 L1650.8 1477.1 L1637.5 1469.2 L1636.7 1468.7 L1636 1468 L1635.3 1467.3 L1634.8 1466.4 L1634.3 1465.4 L1634 1464.3 L1633.7 1463.1 L1633.6 1461.9Z" fill="#fff" stroke-width="3"/>
<path d="M1673.6 1452.7 L1673.5 1454.1 L1673.4 1455.6 L1673.1 1457 L1672.8 1458.5 L1672.3 1460 L1671.8 1461.5 L1671.1 1463.1 L1670.4 1464.5 L1669.6 1466 L1668.8 1467.4 L1667.9 1468.8 L1666.9 1470.1 L1665.8 1471.3 L1664.8 1472.5 L1663.7 1473.5 L1662.5 1474.5 L1661.4 1475.4 L1660.2 1476.1 L1659 1476.7 L1657.9 1477.2 L1656.7 1477.6 L1655.6 1477.9 L1654.6 1478 L1653.5 1478 L1652.5 1477.8 L1651.6 1477.5 L1650.8 1477.1 L1650 1476.6 L1649.3 1475.9 L1648.6 1475.2 L1648.1 1474.3 L1647.6 1473.3 L1647.3 1472.2 L1647 1471 L1646.9 1469.8 L1646.8 1468.5 L1646.9 1467.1 L1647 1465.6 L1647.3 1464.2 L1647.6 1462.7 L1648.1 1461.2 L1648.6 1459.7 L1649.3 1458.1 L1650 1456.7 L1650.8 1455.2 L1651.6 1453.8 L1652.5 1452.4 L1653.5 1451.1 L1654.6 1449.9 L1655.6 1448.7 L1656.7 1447.7 L1657.9 1446.7 L1659 1445.8 L1660.2 1445.1 L1661.4 1444.5 L1662.5 1444 L1663.7 1443.6 L1664.8 1443.3 L1665.8 1443.2 L1666.9 1443.2 L1667.9 1443.4 L1668.8 1443.7 L1669.6 1444.1 L1670.4 1444.6 L1671.1 1445.3 L1671.8 1446 L1672.3 1446.9 L1672.8 1447.9 L1673.1 1449 L1673.4 1450.2 L1673.5 1451.4Z" fill="#fff" stroke-width="3"/>
<clipPath id="rp252"><path d="M1673.6 1452.7 L1673.5 1454.1 L1673.4 1455.6 L1673.1 1457 L1672.8 1458.5 L1672.3 1460 L1671.8 1461.5 L1671.1 1463.1 L1670.4 1464.5 L1669.6 1466 L1668.8 1467.4 L1667.9 1468.8 L1666.9 1470.1 L1665.8 1471.3 L1664.8 1472.5 L1663.7 1473.5 L1662.5 1474.5 L1661.4 1475.4 L1660.2 1476.1 L1659 1476.7 L1657.9 1477.2 L1656.7 1477.6 L1655.6 1477.9 L1654.6 1478 L1653.5 1478 L1652.5 1477.8 L1651.6 1477.5 L1650.8 1477.1 L1650 1476.6 L1649.3 1475.9 L1648.6 1475.2 L1648.1 1474.3 L1647.6 1473.3 L1647.3 1472.2 L1647 1471 L1646.9 1469.8 L1646.8 1468.5 L1646.9 1467.1 L1647 1465.6 L1647.3 1464.2 L1647.6 1462.7 L1648.1 1461.2 L1648.6 1459.7 L1649.3 1458.1 L1650 1456.7 L1650.8 1455.2 L1651.6 1453.8 L1652.5 1452.4 L1653.5 1451.1 L1654.6 1449.9 L1655.6 1448.7 L1656.7 1447.7 L1657.9 1446.7 L1659 1445.8 L1660.2 1445.1 L1661.4 1444.5 L1662.5 1444 L1663.7 1443.6 L1664.8 1443.3 L1665.8 1443.2 L1666.9 1443.2 L1667.9 1443.4 L1668.8 1443.7 L1669.6 1444.1 L1670.4 1444.6 L1671.1 1445.3 L1671.8 1446 L1672.3 1446.9 L1672.8 1447.9 L1673.1 1449 L1673.4 1450.2 L1673.5 1451.4Z"/></clipPath>
<path d="M1675 1454 L1674.9 1455.3 L1674.8 1456.6 L1674.6 1458 L1674.2 1459.4 L1673.8 1460.9 L1673.3 1462.3 L1672.7 1463.7 L1672 1465.1 L1671.3 1466.5 L1670.5 1467.8 L1669.6 1469.1 L1668.7 1470.3 L1667.7 1471.5 L1666.7 1472.6 L1665.7 1473.6 L1664.6 1474.5 L1663.5 1475.3 L1662.4 1476 L1661.3 1476.6 L1660.2 1477.1 L1659.1 1477.4 L1658.1 1477.7 L1657.1 1477.8 L1656.1 1477.7 L1655.2 1477.6 L1654.3 1477.3 L1653.5 1477 L1652.8 1476.5 L1652.1 1475.8 L1651.5 1475.1 L1651 1474.3 L1650.6 1473.3 L1650.2 1472.3 L1650 1471.2 L1649.9 1470 L1649.8 1468.8 L1649.9 1467.5 L1650 1466.2 L1650.2 1464.8 L1650.6 1463.4 L1651 1461.9 L1651.5 1460.5 L1652.1 1459.1 L1652.8 1457.7 L1653.5 1456.3 L1654.3 1455 L1655.2 1453.7 L1656.1 1452.5 L1657.1 1451.3 L1658.1 1450.2 L1659.1 1449.2 L1660.2 1448.3 L1661.3 1447.5 L1662.4 1446.8 L1663.5 1446.2 L1664.6 1445.7 L1665.7 1445.4 L1666.7 1445.1 L1667.7 1445 L1668.7 1445.1 L1669.6 1445.2 L1670.5 1445.5 L1671.3 1445.8 L1672 1446.3 L1672.7 1447 L1673.3 1447.7 L1673.8 1448.5 L1674.2 1449.5 L1674.6 1450.5 L1674.8 1451.6 L1674.9 1452.8Z" fill="#1a1410" stroke="none" clip-path="url(#rp252)"/>
<path d="M1673.6 1452.7 L1673.5 1454.1 L1673.4 1455.6 L1673.1 1457 L1672.8 1458.5 L1672.3 1460 L1671.8 1461.5 L1671.1 1463.1 L1670.4 1464.5 L1669.6 1466 L1668.8 1467.4 L1667.9 1468.8 L1666.9 1470.1 L1665.8 1471.3 L1664.8 1472.5 L1663.7 1473.5 L1662.5 1474.5 L1661.4 1475.4 L1660.2 1476.1 L1659 1476.7 L1657.9 1477.2 L1656.7 1477.6 L1655.6 1477.9 L1654.6 1478 L1653.5 1478 L1652.5 1477.8 L1651.6 1477.5 L1650.8 1477.1 L1650 1476.6 L1649.3 1475.9 L1648.6 1475.2 L1648.1 1474.3 L1647.6 1473.3 L1647.3 1472.2 L1647 1471 L1646.9 1469.8 L1646.8 1468.5 L1646.9 1467.1 L1647 1465.6 L1647.3 1464.2 L1647.6 1462.7 L1648.1 1461.2 L1648.6 1459.7 L1649.3 1458.1 L1650 1456.7 L1650.8 1455.2 L1651.6 1453.8 L1652.5 1452.4 L1653.5 1451.1 L1654.6 1449.9 L1655.6 1448.7 L1656.7 1447.7 L1657.9 1446.7 L1659 1445.8 L1660.2 1445.1 L1661.4 1444.5 L1662.5 1444 L1663.7 1443.6 L1664.8 1443.3 L1665.8 1443.2 L1666.9 1443.2 L1667.9 1443.4 L1668.8 1443.7 L1669.6 1444.1 L1670.4 1444.6 L1671.1 1445.3 L1671.8 1446 L1672.3 1446.9 L1672.8 1447.9 L1673.1 1449 L1673.4 1450.2 L1673.5 1451.4Z" fill="none" stroke-width="3"/>
<ellipse cx="1662.2" cy="1459.1" rx="1.8" ry="1.8" fill="#fff" stroke-width="0.1"/>
<path d="M1480.6 982.2 L1402.6 1140.9" fill="none" stroke-width="3"/>
<path d="M1492.9 1062.4 L1414.9 1220.4" fill="none" stroke-width="3"/>
<path d="M1557 1031.5 L1479 1189.5" fill="none" stroke-width="3"/>
<path d="M1639.3 1081.6 L1563.7 1238.8" fill="none" stroke-width="3"/>
<path d="M1656.2 1164.8 L1580.7 1322" fill="none" stroke-width="3"/>
<path d="M1775.2 1562.2 L1698.8 1712.7" fill="none" stroke-width="3"/>
<rect x="1631" y="802.4" width="83.1" height="83.2" fill="none" stroke-width="5.6" stroke-linejoin="miter"/>
<path d="M1777.8 1294.7 L1830 1261.1" fill="none" stroke-width="1.6"/>
<path d="M1861.4 1269.9 L1860.5 1270.5 L1859.4 1271 L1858.2 1271.3 L1856.9 1271.3 L1855.5 1271.2 L1853.9 1270.9 L1852.3 1270.5 L1850.6 1269.8 L1848.9 1269 L1847 1268 L1845.2 1266.9 L1843.3 1265.6 L1841.4 1264.1 L1839.6 1262.6 L1837.7 1260.9 L1835.9 1259.1 L1834.1 1257.2 L1832.4 1255.2 L1830.8 1253.2 L1829.2 1251.1 L1827.8 1249 L1826.4 1246.9 L1825.2 1244.8 L1824.1 1242.7 L1823.1 1240.6 L1822.3 1238.6 L1821.7 1236.6 L1821.2 1234.7 L1820.8 1233 L1820.7 1231.3 L1820.6 1229.7 L1820.8 1228.3 L1821.1 1227 L1821.6 1225.9 L1822.2 1224.9 L1823 1224.1 L1823.9 1223.5 L1825 1223 L1826.2 1222.7 L1827.5 1222.7 L1828.9 1222.8 L1830.5 1223.1 L1832.1 1223.5 L1833.8 1224.2 L1835.5 1225 L1837.4 1226 L1839.2 1227.1 L1841.1 1228.4 L1843 1229.9 L1844.8 1231.4 L1846.7 1233.1 L1848.5 1234.9 L1850.3 1236.8 L1852 1238.8 L1853.6 1240.8 L1855.2 1242.9 L1856.6 1245 L1858 1247.1 L1859.2 1249.2 L1860.3 1251.3 L1861.3 1253.4 L1862.1 1255.4 L1862.7 1257.4 L1863.2 1259.3 L1863.6 1261 L1863.7 1262.7 L1863.8 1264.3 L1863.6 1265.7 L1863.3 1267 L1862.8 1268.1 L1862.2 1269.1Z" fill="#fff" stroke-width="3"/>
<path d="M1855.5 1261.6 L1854.9 1261.9 L1854.3 1262.1 L1853.6 1262.1 L1852.8 1262 L1852 1261.8 L1851.1 1261.5 L1850.1 1261.1 L1849.1 1260.5 L1848.1 1259.9 L1847 1259.1 L1845.9 1258.2 L1844.8 1257.3 L1843.7 1256.2 L1842.6 1255.1 L1841.5 1253.9 L1840.4 1252.6 L1839.4 1251.3 L1838.3 1249.9 L1837.4 1248.5 L1836.4 1247.1 L1835.6 1245.7 L1834.8 1244.3 L1834 1242.9 L1833.4 1241.5 L1832.8 1240.1 L1832.3 1238.8 L1831.9 1237.6 L1831.6 1236.4 L1831.4 1235.2 L1831.2 1234.2 L1831.2 1233.2 L1831.3 1232.4 L1831.5 1231.6 L1831.7 1231 L1832.1 1230.4 L1832.5 1230 L1833.1 1229.7 L1833.7 1229.5 L1834.4 1229.5 L1835.2 1229.6 L1836 1229.8 L1836.9 1230.1 L1837.9 1230.5 L1838.9 1231.1 L1839.9 1231.7 L1841 1232.5 L1842.1 1233.4 L1843.2 1234.3 L1844.3 1235.4 L1845.4 1236.5 L1846.5 1237.7 L1847.6 1239 L1848.6 1240.3 L1849.7 1241.7 L1850.6 1243.1 L1851.6 1244.5 L1852.4 1245.9 L1853.2 1247.3 L1854 1248.7 L1854.6 1250.1 L1855.2 1251.5 L1855.7 1252.8 L1856.1 1254 L1856.4 1255.2 L1856.6 1256.4 L1856.8 1257.4 L1856.8 1258.4 L1856.7 1259.2 L1856.5 1260 L1856.3 1260.6 L1855.9 1261.2Z" fill="none" stroke-width="3"/>
<path d="M1866.5 1208.4 L1878 1195.4 L1893.3 1188.1 L1913.7 1199.5 L1922.6 1224 L1911.1 1237 L1895.8 1244.3 L1875.4 1232.9Z" fill="#fff" stroke-width="3"/>
<path d="M1895.8 1244.3 L1875.4 1232.9 L1866.5 1208.4 L1878 1195.4 L1898.4 1206.8 L1907.3 1231.3Z" fill="#fff" stroke-width="3"/>
<path d="M1898.4 1206.8 L1913.7 1199.5" fill="none" stroke-width="3"/>
<path d="M1907.3 1231.3 L1922.6 1224" fill="none" stroke-width="3"/>
<path d="M1865.8 1212.5 L1865.8 1210.7 L1866 1209 L1866.3 1207.5 L1866.7 1206 L1867.3 1204.7 L1868 1203.4 L1868.8 1202.3 L1869.8 1201.4 L1870.9 1200.6 L1872 1200 L1874.7 1198.7 L1876 1198.2 L1877.3 1197.9 L1878.7 1197.7 L1880.2 1197.7 L1881.7 1197.9 L1883.3 1198.3 L1884.9 1198.8 L1886.5 1199.5 L1888.1 1200.3 L1889.7 1201.3 L1891.3 1202.4 L1892.8 1203.7 L1894.3 1205 L1895.8 1206.5 L1897.1 1208.1 L1898.4 1209.8 L1899.6 1211.6 L1900.8 1213.4 L1901.8 1215.3 L1902.7 1217.2 L1903.4 1219.1 L1904.1 1221 L1904.6 1223 L1905 1224.9 L1905.2 1226.7 L1905.3 1228.5 L1905.3 1230.3 L1905.1 1231.9 L1904.8 1233.5 L1904.4 1235 L1903.8 1236.3 L1903.1 1237.6 L1902.2 1238.7 L1901.3 1239.6 L1900.2 1240.4 L1899.1 1241 L1896.4 1242.3 L1895.1 1242.8 L1893.8 1243.1 L1892.4 1243.3 L1890.9 1243.3 L1889.4 1243.1 L1887.8 1242.7 L1886.2 1242.2 L1884.6 1241.5 L1883 1240.7 L1881.4 1239.7 L1879.8 1238.6 L1878.3 1237.3 L1876.8 1235.9 L1875.3 1234.5 L1874 1232.9 L1872.7 1231.2 L1871.5 1229.4 L1870.3 1227.6 L1869.3 1225.7 L1868.4 1223.8 L1867.7 1221.9 L1867 1220 L1866.5 1218 L1866.1 1216.1 L1865.9 1214.3Z" fill="#fff" stroke-width="3"/>
<path d="M1897.5 1241.7 L1896.4 1242.3 L1895.1 1242.8 L1893.8 1243.1 L1892.4 1243.3 L1890.9 1243.3 L1889.4 1243.1 L1887.8 1242.7 L1886.2 1242.2 L1884.6 1241.5 L1883 1240.7 L1881.4 1239.7 L1879.8 1238.6 L1878.3 1237.3 L1876.8 1235.9 L1875.3 1234.4 L1874 1232.9 L1872.7 1231.2 L1871.5 1229.4 L1870.3 1227.6 L1869.3 1225.7 L1868.4 1223.8 L1867.7 1221.9 L1867 1220 L1866.5 1218 L1866.1 1216.1 L1865.9 1214.3 L1865.8 1212.5 L1865.8 1210.7 L1866 1209.1 L1866.3 1207.5 L1866.7 1206 L1867.3 1204.7 L1868 1203.4 L1868.8 1202.3 L1869.8 1201.4 L1870.9 1200.6 L1872 1199.9 L1873.3 1199.5 L1874.6 1199.2 L1876 1199 L1877.5 1199 L1879 1199.2 L1880.6 1199.6 L1882.2 1200.1 L1883.8 1200.8 L1885.4 1201.6 L1887 1202.6 L1888.6 1203.7 L1890.1 1205 L1891.6 1206.3 L1893.1 1207.8 L1894.4 1209.4 L1895.7 1211.1 L1896.9 1212.9 L1898.1 1214.7 L1899.1 1216.6 L1900 1218.5 L1900.7 1220.4 L1901.4 1222.3 L1901.9 1224.2 L1902.3 1226.1 L1902.5 1228 L1902.6 1229.8 L1902.6 1231.6 L1902.4 1233.2 L1902.1 1234.8 L1901.7 1236.3 L1901.1 1237.6 L1900.4 1238.8 L1899.6 1239.9 L1898.6 1240.9Z" fill="#fff" stroke-width="3"/>
<path d="M1850.2 1222.6 L1850.2 1221.5 L1850.3 1220.4 L1850.5 1219.4 L1850.9 1218.5 L1851.3 1217.7 L1851.8 1217 L1852.4 1216.3 L1853.2 1215.8 L1854 1215.5 L1871.1 1207.3 L1871.9 1207 L1872.9 1206.8 L1873.9 1206.8 L1875 1206.9 L1876.1 1207.1 L1877.3 1207.4 L1878.5 1207.8 L1879.7 1208.3 L1880.9 1209 L1882.2 1209.7 L1883.4 1210.6 L1884.6 1211.5 L1885.8 1212.5 L1887 1213.6 L1888.1 1214.8 L1889.2 1216 L1890.2 1217.3 L1891.1 1218.6 L1892 1219.9 L1892.8 1221.3 L1893.5 1222.6 L1894.1 1224 L1894.6 1225.3 L1895 1226.7 L1895.4 1228 L1895.6 1229.2 L1895.7 1230.4 L1895.7 1231.6 L1895.6 1232.6 L1895.3 1233.6 L1895 1234.5 L1894.6 1235.3 L1894.1 1236.1 L1893.5 1236.7 L1892.7 1237.2 L1891.9 1237.6 L1874.8 1245.8 L1874 1246 L1873 1246.2 L1872 1246.2 L1870.9 1246.2 L1869.8 1246 L1868.6 1245.7 L1867.4 1245.2 L1866.2 1244.7 L1865 1244 L1863.7 1243.3 L1862.5 1242.5 L1861.3 1241.5 L1860.1 1240.5 L1858.9 1239.4 L1857.8 1238.2 L1856.7 1237 L1855.7 1235.8 L1854.8 1234.5 L1853.9 1233.1 L1853.1 1231.8 L1852.4 1230.4 L1851.8 1229 L1851.3 1227.7 L1850.8 1226.4 L1850.5 1225.1 L1850.3 1223.8Z" fill="#fff" stroke-width="3"/>
<path d="M1876.4 1244.8 L1875.6 1245.4 L1874.8 1245.7 L1874 1246 L1873 1246.2 L1872 1246.2 L1870.9 1246.2 L1869.8 1246 L1868.6 1245.6 L1867.4 1245.2 L1866.2 1244.7 L1865 1244 L1863.7 1243.3 L1862.5 1242.4 L1861.3 1241.5 L1860.1 1240.5 L1858.9 1239.4 L1857.8 1238.2 L1856.7 1237 L1855.7 1235.8 L1854.8 1234.5 L1853.9 1233.1 L1853.1 1231.8 L1852.4 1230.4 L1851.8 1229 L1851.3 1227.7 L1850.8 1226.4 L1850.5 1225.1 L1850.3 1223.8 L1850.2 1222.6 L1850.2 1221.5 L1850.3 1220.4 L1850.5 1219.4 L1850.9 1218.5 L1851.3 1217.7 L1851.8 1217 L1852.4 1216.4 L1853.2 1215.8 L1854 1215.5 L1854.8 1215.2 L1855.8 1215 L1856.8 1215 L1857.9 1215 L1859 1215.2 L1860.2 1215.6 L1861.4 1216 L1862.6 1216.5 L1863.8 1217.2 L1865.1 1217.9 L1866.3 1218.8 L1867.5 1219.7 L1868.7 1220.7 L1869.9 1221.8 L1871 1223 L1872.1 1224.2 L1873.1 1225.4 L1874 1226.7 L1874.9 1228.1 L1875.7 1229.4 L1876.4 1230.8 L1877 1232.2 L1877.5 1233.5 L1878 1234.8 L1878.3 1236.1 L1878.5 1237.4 L1878.6 1238.6 L1878.6 1239.7 L1878.5 1240.8 L1878.3 1241.8 L1877.9 1242.7 L1877.5 1243.5 L1877 1244.2Z" fill="#fff" stroke-width="3"/>
<path d="M1985.4 1194.4 L1984.5 1195 L1983.4 1195.5 L1982.2 1195.8 L1980.9 1195.8 L1979.5 1195.7 L1977.9 1195.4 L1976.3 1195 L1974.6 1194.3 L1972.9 1193.5 L1971 1192.5 L1969.2 1191.4 L1967.3 1190.1 L1965.4 1188.6 L1963.6 1187.1 L1961.7 1185.4 L1959.9 1183.6 L1958.1 1181.7 L1956.4 1179.7 L1954.8 1177.7 L1953.2 1175.6 L1951.8 1173.5 L1950.4 1171.4 L1949.2 1169.3 L1948.1 1167.2 L1947.1 1165.1 L1946.3 1163.1 L1945.7 1161.1 L1945.2 1159.2 L1944.8 1157.5 L1944.7 1155.8 L1944.6 1154.2 L1944.8 1152.8 L1945.1 1151.5 L1945.6 1150.4 L1946.2 1149.4 L1947 1148.6 L1947.9 1148 L1949 1147.5 L1950.2 1147.2 L1951.5 1147.2 L1952.9 1147.3 L1954.5 1147.6 L1956.1 1148 L1957.8 1148.7 L1959.5 1149.5 L1961.4 1150.5 L1963.2 1151.6 L1965.1 1152.9 L1967 1154.4 L1968.8 1155.9 L1970.7 1157.6 L1972.5 1159.4 L1974.3 1161.3 L1976 1163.3 L1977.6 1165.3 L1979.2 1167.4 L1980.6 1169.5 L1982 1171.6 L1983.2 1173.7 L1984.3 1175.8 L1985.3 1177.9 L1986.1 1179.9 L1986.7 1181.9 L1987.2 1183.8 L1987.6 1185.5 L1987.7 1187.2 L1987.8 1188.8 L1987.6 1190.2 L1987.3 1191.5 L1986.8 1192.6 L1986.2 1193.6Z" fill="#fff" stroke-width="3"/>
<path d="M1979.5 1186.1 L1978.9 1186.4 L1978.3 1186.6 L1977.6 1186.6 L1976.8 1186.5 L1976 1186.3 L1975.1 1186 L1974.1 1185.6 L1973.1 1185 L1972.1 1184.4 L1971 1183.6 L1969.9 1182.7 L1968.8 1181.8 L1967.7 1180.7 L1966.6 1179.6 L1965.5 1178.4 L1964.4 1177.1 L1963.4 1175.8 L1962.3 1174.4 L1961.4 1173 L1960.4 1171.6 L1959.6 1170.2 L1958.8 1168.8 L1958 1167.4 L1957.4 1166 L1956.8 1164.6 L1956.3 1163.3 L1955.9 1162.1 L1955.6 1160.9 L1955.4 1159.7 L1955.2 1158.7 L1955.2 1157.7 L1955.3 1156.9 L1955.5 1156.1 L1955.7 1155.5 L1956.1 1154.9 L1956.5 1154.5 L1957.1 1154.2 L1957.7 1154 L1958.4 1154 L1959.2 1154.1 L1960 1154.3 L1960.9 1154.6 L1961.9 1155 L1962.9 1155.6 L1963.9 1156.2 L1965 1157 L1966.1 1157.9 L1967.2 1158.8 L1968.3 1159.9 L1969.4 1161 L1970.5 1162.2 L1971.6 1163.5 L1972.6 1164.8 L1973.7 1166.2 L1974.6 1167.6 L1975.6 1169 L1976.4 1170.4 L1977.2 1171.8 L1978 1173.2 L1978.6 1174.6 L1979.2 1176 L1979.7 1177.3 L1980.1 1178.5 L1980.4 1179.7 L1980.6 1180.9 L1980.8 1181.9 L1980.8 1182.9 L1980.7 1183.7 L1980.5 1184.5 L1980.3 1185.1 L1979.9 1185.7Z" fill="none" stroke-width="3"/>
<path d="M1990.5 1132.9 L2002 1119.9 L2017.3 1112.6 L2037.7 1124 L2046.6 1148.5 L2035.1 1161.5 L2019.8 1168.8 L1999.4 1157.4Z" fill="#fff" stroke-width="3"/>
<path d="M2019.8 1168.8 L1999.4 1157.4 L1990.5 1132.9 L2002 1119.9 L2022.4 1131.3 L2031.3 1155.8Z" fill="#fff" stroke-width="3"/>
<path d="M2022.4 1131.3 L2037.7 1124" fill="none" stroke-width="3"/>
<path d="M2031.3 1155.8 L2046.6 1148.5" fill="none" stroke-width="3"/>
<path d="M1989.8 1137 L1989.8 1135.2 L1990 1133.5 L1990.3 1132 L1990.7 1130.5 L1991.3 1129.2 L1992 1127.9 L1992.8 1126.8 L1993.8 1125.9 L1994.9 1125.1 L1996 1124.5 L1998.7 1123.2 L2000 1122.7 L2001.3 1122.4 L2002.7 1122.2 L2004.2 1122.2 L2005.7 1122.4 L2007.3 1122.8 L2008.9 1123.3 L2010.5 1124 L2012.1 1124.8 L2013.7 1125.8 L2015.3 1126.9 L2016.8 1128.2 L2018.3 1129.5 L2019.8 1131 L2021.1 1132.6 L2022.4 1134.3 L2023.6 1136.1 L2024.8 1137.9 L2025.8 1139.8 L2026.7 1141.7 L2027.4 1143.6 L2028.1 1145.5 L2028.6 1147.5 L2029 1149.4 L2029.2 1151.2 L2029.3 1153 L2029.3 1154.8 L2029.1 1156.4 L2028.8 1158 L2028.4 1159.5 L2027.8 1160.8 L2027.1 1162.1 L2026.2 1163.2 L2025.3 1164.1 L2024.2 1164.9 L2023.1 1165.5 L2020.4 1166.8 L2019.1 1167.3 L2017.8 1167.6 L2016.4 1167.8 L2014.9 1167.8 L2013.4 1167.6 L2011.8 1167.2 L2010.2 1166.7 L2008.6 1166 L2007 1165.2 L2005.4 1164.2 L2003.8 1163.1 L2002.3 1161.8 L2000.8 1160.4 L1999.3 1159 L1998 1157.4 L1996.7 1155.7 L1995.5 1153.9 L1994.3 1152.1 L1993.3 1150.2 L1992.4 1148.3 L1991.7 1146.4 L1991 1144.5 L1990.5 1142.5 L1990.1 1140.6 L1989.9 1138.8Z" fill="#fff" stroke-width="3"/>
<path d="M2021.5 1166.2 L2020.4 1166.8 L2019.1 1167.3 L2017.8 1167.6 L2016.4 1167.8 L2014.9 1167.8 L2013.4 1167.6 L2011.8 1167.2 L2010.2 1166.7 L2008.6 1166 L2007 1165.2 L2005.4 1164.2 L2003.8 1163.1 L2002.3 1161.8 L2000.8 1160.4 L1999.3 1158.9 L1998 1157.4 L1996.7 1155.7 L1995.5 1153.9 L1994.3 1152.1 L1993.3 1150.2 L1992.4 1148.3 L1991.7 1146.4 L1991 1144.5 L1990.5 1142.5 L1990.1 1140.6 L1989.9 1138.8 L1989.8 1137 L1989.8 1135.2 L1990 1133.6 L1990.3 1132 L1990.7 1130.5 L1991.3 1129.2 L1992 1127.9 L1992.8 1126.8 L1993.8 1125.9 L1994.9 1125.1 L1996 1124.4 L1997.3 1124 L1998.6 1123.7 L2000 1123.5 L2001.5 1123.5 L2003 1123.7 L2004.6 1124.1 L2006.2 1124.6 L2007.8 1125.3 L2009.4 1126.1 L2011 1127.1 L2012.6 1128.2 L2014.1 1129.5 L2015.6 1130.8 L2017.1 1132.3 L2018.4 1133.9 L2019.7 1135.6 L2020.9 1137.4 L2022.1 1139.2 L2023.1 1141.1 L2024 1143 L2024.7 1144.9 L2025.4 1146.8 L2025.9 1148.7 L2026.3 1150.6 L2026.5 1152.5 L2026.6 1154.3 L2026.6 1156.1 L2026.4 1157.7 L2026.1 1159.3 L2025.7 1160.8 L2025.1 1162.1 L2024.4 1163.3 L2023.6 1164.4 L2022.6 1165.4Z" fill="#fff" stroke-width="3"/>
<path d="M1974.2 1147.1 L1974.2 1146 L1974.3 1144.9 L1974.5 1143.9 L1974.9 1143 L1975.3 1142.2 L1975.8 1141.5 L1976.4 1140.8 L1977.2 1140.3 L1978 1140 L1995.1 1131.8 L1995.9 1131.5 L1996.9 1131.3 L1997.9 1131.3 L1999 1131.4 L2000.1 1131.6 L2001.3 1131.9 L2002.5 1132.3 L2003.7 1132.8 L2004.9 1133.5 L2006.2 1134.2 L2007.4 1135.1 L2008.6 1136 L2009.8 1137 L2011 1138.1 L2012.1 1139.3 L2013.2 1140.5 L2014.2 1141.8 L2015.1 1143.1 L2016 1144.4 L2016.8 1145.8 L2017.5 1147.1 L2018.1 1148.5 L2018.6 1149.8 L2019 1151.2 L2019.4 1152.5 L2019.6 1153.7 L2019.7 1154.9 L2019.7 1156.1 L2019.6 1157.1 L2019.3 1158.1 L2019 1159 L2018.6 1159.8 L2018.1 1160.6 L2017.5 1161.2 L2016.7 1161.7 L2015.9 1162.1 L1998.8 1170.2 L1998 1170.5 L1997 1170.7 L1996 1170.7 L1994.9 1170.7 L1993.8 1170.5 L1992.6 1170.2 L1991.4 1169.7 L1990.2 1169.2 L1989 1168.5 L1987.7 1167.8 L1986.5 1167 L1985.3 1166 L1984.1 1165 L1982.9 1163.9 L1981.8 1162.8 L1980.7 1161.5 L1979.7 1160.3 L1978.8 1159 L1977.9 1157.6 L1977.1 1156.3 L1976.4 1154.9 L1975.8 1153.5 L1975.3 1152.2 L1974.8 1150.9 L1974.5 1149.6 L1974.3 1148.3Z" fill="#fff" stroke-width="3"/>
<path d="M2000.4 1169.3 L1999.6 1169.9 L1998.8 1170.2 L1998 1170.5 L1997 1170.7 L1996 1170.7 L1994.9 1170.7 L1993.8 1170.5 L1992.6 1170.1 L1991.4 1169.7 L1990.2 1169.2 L1989 1168.5 L1987.7 1167.8 L1986.5 1166.9 L1985.3 1166 L1984.1 1165 L1982.9 1163.9 L1981.8 1162.7 L1980.7 1161.5 L1979.7 1160.3 L1978.8 1159 L1977.9 1157.6 L1977.1 1156.3 L1976.4 1154.9 L1975.8 1153.5 L1975.3 1152.2 L1974.8 1150.9 L1974.5 1149.6 L1974.3 1148.3 L1974.2 1147.1 L1974.2 1146 L1974.3 1144.9 L1974.5 1143.9 L1974.9 1143 L1975.3 1142.2 L1975.8 1141.5 L1976.4 1140.9 L1977.2 1140.3 L1978 1140 L1978.8 1139.7 L1979.8 1139.5 L1980.8 1139.5 L1981.9 1139.5 L1983 1139.7 L1984.2 1140.1 L1985.4 1140.5 L1986.6 1141 L1987.8 1141.7 L1989.1 1142.4 L1990.3 1143.3 L1991.5 1144.2 L1992.7 1145.2 L1993.9 1146.3 L1995 1147.5 L1996.1 1148.7 L1997.1 1149.9 L1998 1151.2 L1998.9 1152.6 L1999.7 1153.9 L2000.4 1155.3 L2001 1156.7 L2001.5 1158 L2002 1159.3 L2002.3 1160.6 L2002.5 1161.9 L2002.6 1163.1 L2002.6 1164.2 L2002.5 1165.3 L2002.3 1166.3 L2001.9 1167.2 L2001.5 1168 L2001 1168.7Z" fill="#fff" stroke-width="3"/>
<path d="M1863.6 1210.8 L1895.1 1062.9 L1981.9 1135.9" fill="none" stroke-width="3"/>
<path d="M1862.6 1265.1 L1981 1357.8 L1981 1195" fill="none" stroke-width="3"/>
</g>
<g font-family="Liberation Sans, sans-serif" fill="#000" stroke="none">
<text x="0" y="0" font-size="56.5" transform="translate(173.5 168.6) scale(0.9896 1)">6</text>
<text x="0" y="0" font-size="56.5" transform="translate(204.6 168.6) scale(0.9896 1)">2</text>
<path d="M763 0L583 0L583 1147Q520 1087 430 1034Q340 981 263 947L263 1121Q374 1173 458 1246Q542 1319 585 1395Q610 1440 627 1466L763 1466Z" transform="translate(235.7 168.6) scale(0.02730 -0.02759)"/>
<text x="0" y="0" font-size="56.5" transform="translate(266.8 168.6) scale(0.9896 1)">0</text>
<text x="0" y="0" font-size="56.5" transform="translate(297.9 168.6) scale(0.9896 1)">-</text>
<text x="0" y="0" font-size="56.5" transform="translate(316.5 168.6) scale(0.9896 1)">0</text>
<text x="0" y="0" font-size="56.5" transform="translate(347.6 168.6) scale(0.9896 1)">0</text>
<text x="0" y="0" font-size="56.5" transform="translate(378.7 168.6) scale(0.9896 1)">0</text>
<text x="0" y="0" font-size="56.5" transform="translate(409.8 168.6) scale(0.9896 1)">2</text>
<text x="0" y="0" font-size="56.5" transform="translate(440.9 168.6) scale(0.9896 1)">8</text>
<text x="1081.5" y="185" font-size="39.8" font-weight="bold">Quality Parts</text>
<text x="0" y="0" font-size="48.8" font-weight="bold" transform="translate(171 259.2) scale(0.9749 1)">6</text>
<text x="0" y="0" font-size="48.8" font-weight="bold" transform="translate(197.5 259.2) scale(0.9749 1)">2</text>
<path d="M806 0L525 0L525 1059Q371 915 162 846L162 1101Q272 1137 401 1238Q530 1339 578 1472L806 1472Z" transform="translate(223.9 259.2) scale(0.02323 -0.02383)"/>
<text x="0" y="0" font-size="48.8" font-weight="bold" transform="translate(250.4 259.2) scale(0.9749 1)">0</text>
<text x="0" y="0" font-size="48.8" font-weight="bold" transform="translate(276.8 259.2) scale(0.9749 1)">-</text>
<text x="0" y="0" font-size="48.8" font-weight="bold" transform="translate(292.7 259.2) scale(0.9749 1)">0</text>
<text x="0" y="0" font-size="48.8" font-weight="bold" transform="translate(319.2 259.2) scale(0.9749 1)">0</text>
<text x="0" y="0" font-size="48.8" font-weight="bold" transform="translate(345.6 259.2) scale(0.9749 1)">0</text>
<text x="0" y="0" font-size="48.8" font-weight="bold" transform="translate(372.1 259.2) scale(0.9749 1)">2</text>
<text x="0" y="0" font-size="48.8" font-weight="bold" transform="translate(398.5 259.2) scale(0.9749 1)">8</text>
<text x="0" y="0" font-size="31.7" font-weight="bold" transform="translate(2054.5 258.9) scale(1.0000 1)">P</text>
<text x="0" y="0" font-size="31.7" font-weight="bold" transform="translate(2075.6 258.9) scale(1.0000 1)">0</text>
<text x="0" y="0" font-size="31.7" font-weight="bold" transform="translate(2093.3 258.9) scale(1.0000 1)">0</text>
<path d="M806 0L525 0L525 1059Q371 915 162 846L162 1101Q272 1137 401 1238Q530 1339 578 1472L806 1472Z" transform="translate(2110.9 258.9) scale(0.01548 -0.01548)"/>
<text x="0" y="0" font-size="31.7" font-weight="bold" transform="translate(2128.5 258.9) scale(1.0000 1)">2</text>
<text x="0" y="0" font-size="31.7" font-weight="bold" transform="translate(2146.2 258.9) scale(1.0000 1)">4</text>
<text x="0" y="0" font-size="31.7" font-weight="bold" transform="translate(2163.8 258.9) scale(1.0000 1)">7</text>
<text x="0" y="0" font-size="31.7" font-weight="bold" transform="translate(2181.4 258.9) scale(1.0000 1)">5</text>
<text x="1144.2" y="3275" font-size="40">© BT</text>
<text x="0" y="0" font-size="56.5" transform="translate(334 513.7) scale(1.0000 1)">0</text>
<path d="M763 0L583 0L583 1147Q520 1087 430 1034Q340 981 263 947L263 1121Q374 1173 458 1246Q542 1319 585 1395Q610 1440 627 1466L763 1466Z" transform="translate(365.4 513.7) scale(0.02759 -0.02759)"/>
<path d="M763 0L583 0L583 1147Q520 1087 430 1034Q340 981 263 947L263 1121Q374 1173 458 1246Q542 1319 585 1395Q610 1440 627 1466L763 1466Z" transform="translate(1368.7 924.5) scale(0.02759 -0.02759)"/>
<text x="0" y="0" font-size="56.5" transform="translate(1400.1 924.5) scale(1.0000 1)">6</text>
<path d="M763 0L583 0L583 1147Q520 1087 430 1034Q340 981 263 947L263 1121Q374 1173 458 1246Q542 1319 585 1395Q610 1440 627 1466L763 1466Z" transform="translate(1451.2 972.6) scale(0.02759 -0.02759)"/>
<text x="0" y="0" font-size="56.5" transform="translate(1482.6 972.6) scale(1.0000 1)">4</text>
<path d="M763 0L583 0L583 1147Q520 1087 430 1034Q340 981 263 947L263 1121Q374 1173 458 1246Q542 1319 585 1395Q610 1440 627 1466L763 1466Z" transform="translate(1468.1 1051.3) scale(0.02759 -0.02759)"/>
<text x="0" y="0" font-size="56.5" transform="translate(1499.5 1051.3) scale(1.0000 1)">5</text>
<path d="M763 0L583 0L583 1147Q520 1087 430 1034Q340 981 263 947L263 1121Q374 1173 458 1246Q542 1319 585 1395Q610 1440 627 1466L763 1466Z" transform="translate(1532.2 1022.6) scale(0.02759 -0.02759)"/>
<text x="0" y="0" font-size="56.5" transform="translate(1563.6 1022.6) scale(1.0000 1)">7</text>
<path d="M763 0L583 0L583 1147Q520 1087 430 1034Q340 981 263 947L263 1121Q374 1173 458 1246Q542 1319 585 1395Q610 1440 627 1466L763 1466Z" transform="translate(1612.7 1071.2) scale(0.02759 -0.02759)"/>
<text x="0" y="0" font-size="56.5" transform="translate(1644.1 1071.2) scale(1.0000 1)">8</text>
<path d="M763 0L583 0L583 1147Q520 1087 430 1034Q340 981 263 947L263 1121Q374 1173 458 1246Q542 1319 585 1395Q610 1440 627 1466L763 1466Z" transform="translate(1630.7 1154.6) scale(0.02759 -0.02759)"/>
<text x="0" y="0" font-size="56.5" transform="translate(1662.1 1154.6) scale(1.0000 1)">9</text>
<path d="M763 0L583 0L583 1147Q520 1087 430 1034Q340 981 263 947L263 1121Q374 1173 458 1246Q542 1319 585 1395Q610 1440 627 1466L763 1466Z" transform="translate(1650.2 1768.2) scale(0.02759 -0.02759)"/>
<path d="M763 0L583 0L583 1147Q520 1087 430 1034Q340 981 263 947L263 1121Q374 1173 458 1246Q542 1319 585 1395Q610 1440 627 1466L763 1466Z" transform="translate(1681.6 1768.2) scale(0.02759 -0.02759)"/>
<text x="1640.2" y="864.3" font-size="56.5">20</text>
<path d="M763 0L583 0L583 1147Q520 1087 430 1034Q340 981 263 947L263 1121Q374 1173 458 1246Q542 1319 585 1395Q610 1440 627 1466L763 1466Z" transform="translate(1854.7 1047.1) scale(0.02759 -0.02759)"/>
<text x="0" y="0" font-size="56.5" transform="translate(1886.1 1047.1) scale(1.0000 1)">3</text>
<path d="M763 0L583 0L583 1147Q520 1087 430 1034Q340 981 263 947L263 1121Q374 1173 458 1246Q542 1319 585 1395Q610 1440 627 1466L763 1466Z" transform="translate(1948.2 1409.1) scale(0.02759 -0.02759)"/>
<text x="0" y="0" font-size="56.5" transform="translate(1979.6 1409.1) scale(1.0000 1)">2</text>
</g>
</svg>
</body></html>
